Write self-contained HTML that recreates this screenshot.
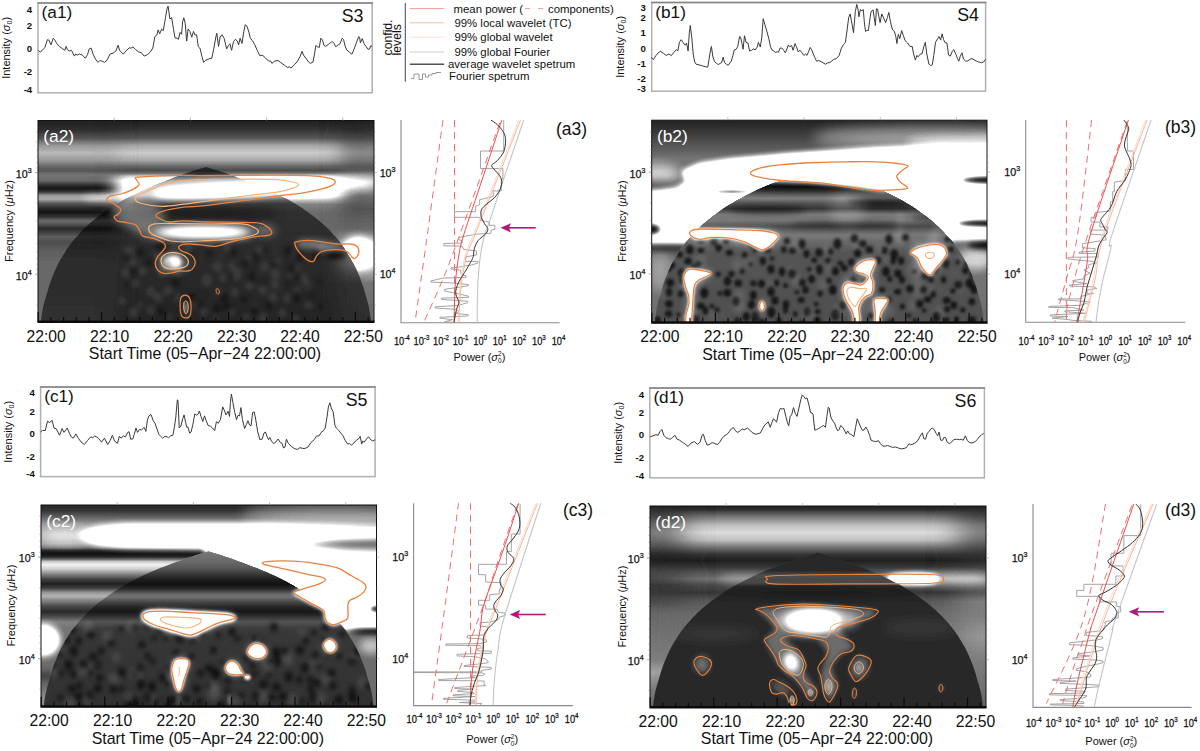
<!DOCTYPE html>
<html><head><meta charset="utf-8"><title>Wavelet analysis</title>
<style>
html,body{margin:0;padding:0;background:#fff;}
body{width:1200px;height:751px;overflow:hidden;}
svg{display:block;font-family:'Liberation Sans', sans-serif;}
</style></head><body>
<svg width="1200" height="751" viewBox="0 0 1200 751">
<defs>
<linearGradient id="ga_0" gradientUnits="userSpaceOnUse" x1="0" y1="120.8" x2="0" y2="322.9"><stop offset="0.0000" stop-color="rgb(8,8,8)"/><stop offset="0.0435" stop-color="rgb(13,13,13)"/><stop offset="0.0870" stop-color="rgb(22,22,22)"/><stop offset="0.1232" stop-color="rgb(42,42,42)"/><stop offset="0.1594" stop-color="rgb(51,51,51)"/><stop offset="0.1957" stop-color="rgb(42,42,42)"/><stop offset="0.2246" stop-color="rgb(26,26,26)"/><stop offset="0.2464" stop-color="rgb(19,19,19)"/><stop offset="0.2609" stop-color="rgb(29,29,29)"/><stop offset="0.2725" stop-color="rgb(51,51,51)"/><stop offset="0.2971" stop-color="rgb(83,83,83)"/><stop offset="0.3696" stop-color="rgb(83,83,83)"/><stop offset="0.3913" stop-color="rgb(51,51,51)"/><stop offset="0.4130" stop-color="rgb(32,32,32)"/><stop offset="0.4565" stop-color="rgb(27,27,27)"/><stop offset="0.5652" stop-color="rgb(26,26,26)"/><stop offset="0.7681" stop-color="rgb(24,24,24)"/><stop offset="1.0000" stop-color="rgb(21,21,21)"/></linearGradient>
<linearGradient id="ga_1" gradientUnits="userSpaceOnUse" x1="0" y1="120.8" x2="0" y2="322.9"><stop offset="0.0000" stop-color="rgb(8,8,8)"/><stop offset="0.0435" stop-color="rgb(11,11,11)"/><stop offset="0.0870" stop-color="rgb(21,21,21)"/><stop offset="0.1232" stop-color="rgb(38,38,38)"/><stop offset="0.1594" stop-color="rgb(46,46,46)"/><stop offset="0.1957" stop-color="rgb(38,38,38)"/><stop offset="0.2246" stop-color="rgb(26,26,26)"/><stop offset="0.2464" stop-color="rgb(21,21,21)"/><stop offset="0.2681" stop-color="rgb(29,29,29)"/><stop offset="0.2971" stop-color="rgb(26,26,26)"/><stop offset="0.3159" stop-color="rgb(13,13,13)"/><stop offset="0.3333" stop-color="rgb(5,5,5)"/><stop offset="0.3507" stop-color="rgb(13,13,13)"/><stop offset="0.3696" stop-color="rgb(38,38,38)"/><stop offset="0.3870" stop-color="rgb(43,43,43)"/><stop offset="0.4087" stop-color="rgb(22,22,22)"/><stop offset="0.4319" stop-color="rgb(10,10,10)"/><stop offset="0.4536" stop-color="rgb(5,5,5)"/><stop offset="0.4754" stop-color="rgb(13,13,13)"/><stop offset="0.4957" stop-color="rgb(27,27,27)"/><stop offset="0.5145" stop-color="rgb(19,19,19)"/><stop offset="0.5333" stop-color="rgb(10,10,10)"/><stop offset="0.5536" stop-color="rgb(16,16,16)"/><stop offset="0.5725" stop-color="rgb(23,23,23)"/><stop offset="0.6014" stop-color="rgb(19,19,19)"/><stop offset="0.6377" stop-color="rgb(23,23,23)"/><stop offset="0.7101" stop-color="rgb(26,26,26)"/><stop offset="0.8261" stop-color="rgb(26,26,26)"/><stop offset="1.0000" stop-color="rgb(27,27,27)"/></linearGradient>
<linearGradient id="ga_2" gradientUnits="userSpaceOnUse" x1="0" y1="120.8" x2="0" y2="322.9"><stop offset="0.0000" stop-color="rgb(8,8,8)"/><stop offset="0.0435" stop-color="rgb(11,11,11)"/><stop offset="0.0870" stop-color="rgb(18,18,18)"/><stop offset="0.1232" stop-color="rgb(29,29,29)"/><stop offset="0.1594" stop-color="rgb(35,35,35)"/><stop offset="0.1957" stop-color="rgb(29,29,29)"/><stop offset="0.2246" stop-color="rgb(22,22,22)"/><stop offset="0.2464" stop-color="rgb(22,22,22)"/><stop offset="0.2681" stop-color="rgb(38,38,38)"/><stop offset="0.3043" stop-color="rgb(54,54,54)"/><stop offset="0.3406" stop-color="rgb(38,38,38)"/><stop offset="0.3768" stop-color="rgb(26,26,26)"/><stop offset="0.4348" stop-color="rgb(21,21,21)"/><stop offset="0.5362" stop-color="rgb(26,26,26)"/><stop offset="0.5797" stop-color="rgb(41,41,41)"/><stop offset="0.6232" stop-color="rgb(61,61,61)"/><stop offset="0.6667" stop-color="rgb(64,64,64)"/><stop offset="0.7101" stop-color="rgb(57,57,57)"/><stop offset="0.7536" stop-color="rgb(41,41,41)"/><stop offset="0.8043" stop-color="rgb(29,29,29)"/><stop offset="1.0000" stop-color="rgb(26,26,26)"/></linearGradient>
<filter id="bla_9x0_6" filterUnits="userSpaceOnUse" x="-2" y="80.5" width="416" height="281" color-interpolation-filters="sRGB"><feGaussianBlur stdDeviation="9 0.6"/></filter>
<filter id="bla_9x1" filterUnits="userSpaceOnUse" x="-2" y="80.5" width="416" height="281" color-interpolation-filters="sRGB"><feGaussianBlur stdDeviation="9 1"/></filter>
<filter id="bla_1_5" filterUnits="userSpaceOnUse" x="-2" y="80.5" width="416" height="281" color-interpolation-filters="sRGB"><feGaussianBlur stdDeviation="1.5"/></filter>
<filter id="bla_2_5" filterUnits="userSpaceOnUse" x="-2" y="80.5" width="416" height="281" color-interpolation-filters="sRGB"><feGaussianBlur stdDeviation="2.5"/></filter>
<filter id="bla_3" filterUnits="userSpaceOnUse" x="-2" y="80.5" width="416" height="281" color-interpolation-filters="sRGB"><feGaussianBlur stdDeviation="3"/></filter>
<filter id="bla_3_5" filterUnits="userSpaceOnUse" x="-2" y="80.5" width="416" height="281" color-interpolation-filters="sRGB"><feGaussianBlur stdDeviation="3.5"/></filter>
<filter id="bla_4" filterUnits="userSpaceOnUse" x="-2" y="80.5" width="416" height="281" color-interpolation-filters="sRGB"><feGaussianBlur stdDeviation="4"/></filter>
<filter id="bla_5" filterUnits="userSpaceOnUse" x="-2" y="80.5" width="416" height="281" color-interpolation-filters="sRGB"><feGaussianBlur stdDeviation="5"/></filter>
<filter id="bla_6" filterUnits="userSpaceOnUse" x="-2" y="80.5" width="416" height="281" color-interpolation-filters="sRGB"><feGaussianBlur stdDeviation="6"/></filter>
<filter id="gaina" filterUnits="userSpaceOnUse" x="-2" y="80.5" width="416" height="281" color-interpolation-filters="sRGB"><feComponentTransfer><feFuncR type="linear" slope="4.0"/><feFuncG type="linear" slope="4.0"/><feFuncB type="linear" slope="4.0"/></feComponentTransfer></filter>
<linearGradient id="gb_0" gradientUnits="userSpaceOnUse" x1="0" y1="119.3" x2="0" y2="322.9"><stop offset="0.0000" stop-color="rgb(8,8,8)"/><stop offset="0.0504" stop-color="rgb(13,13,13)"/><stop offset="0.1079" stop-color="rgb(19,19,19)"/><stop offset="0.1511" stop-color="rgb(24,24,24)"/><stop offset="0.1942" stop-color="rgb(29,29,29)"/><stop offset="0.5971" stop-color="rgb(29,29,29)"/><stop offset="0.6403" stop-color="rgb(26,26,26)"/><stop offset="0.7122" stop-color="rgb(29,29,29)"/><stop offset="0.8273" stop-color="rgb(29,29,29)"/><stop offset="1.0000" stop-color="rgb(27,27,27)"/></linearGradient>
<linearGradient id="gb_1" gradientUnits="userSpaceOnUse" x1="0" y1="177.9" x2="0" y2="322.9"><stop offset="0.0000" stop-color="rgb(142,142,142)"/><stop offset="0.0263" stop-color="rgb(50,50,50)"/><stop offset="0.0606" stop-color="rgb(17,17,17)"/><stop offset="0.1010" stop-color="rgb(47,47,47)"/><stop offset="0.1414" stop-color="rgb(71,71,71)"/><stop offset="0.1758" stop-color="rgb(47,47,47)"/><stop offset="0.2121" stop-color="rgb(31,31,31)"/><stop offset="0.2525" stop-color="rgb(68,68,68)"/><stop offset="0.2929" stop-color="rgb(68,68,68)"/><stop offset="0.3333" stop-color="rgb(42,42,42)"/><stop offset="0.3939" stop-color="rgb(68,68,68)"/><stop offset="0.4545" stop-color="rgb(57,57,57)"/><stop offset="0.5152" stop-color="rgb(48,48,48)"/><stop offset="1.0000" stop-color="rgb(45,45,45)"/></linearGradient>
<filter id="blb_1_5" filterUnits="userSpaceOnUse" x="611.7" y="80.2" width="415.3" height="282.1" color-interpolation-filters="sRGB"><feGaussianBlur stdDeviation="1.5"/></filter>
<filter id="blb_1_8" filterUnits="userSpaceOnUse" x="611.7" y="80.2" width="415.3" height="282.1" color-interpolation-filters="sRGB"><feGaussianBlur stdDeviation="1.8"/></filter>
<filter id="blb_2" filterUnits="userSpaceOnUse" x="611.7" y="80.2" width="415.3" height="282.1" color-interpolation-filters="sRGB"><feGaussianBlur stdDeviation="2"/></filter>
<filter id="blb_2_5" filterUnits="userSpaceOnUse" x="611.7" y="80.2" width="415.3" height="282.1" color-interpolation-filters="sRGB"><feGaussianBlur stdDeviation="2.5"/></filter>
<filter id="blb_3" filterUnits="userSpaceOnUse" x="611.7" y="80.2" width="415.3" height="282.1" color-interpolation-filters="sRGB"><feGaussianBlur stdDeviation="3"/></filter>
<filter id="blb_4" filterUnits="userSpaceOnUse" x="611.7" y="80.2" width="415.3" height="282.1" color-interpolation-filters="sRGB"><feGaussianBlur stdDeviation="4"/></filter>
<filter id="blb_5" filterUnits="userSpaceOnUse" x="611.7" y="80.2" width="415.3" height="282.1" color-interpolation-filters="sRGB"><feGaussianBlur stdDeviation="5"/></filter>
<filter id="blb_6" filterUnits="userSpaceOnUse" x="611.7" y="80.2" width="415.3" height="282.1" color-interpolation-filters="sRGB"><feGaussianBlur stdDeviation="6"/></filter>
<filter id="blb_7" filterUnits="userSpaceOnUse" x="611.7" y="80.2" width="415.3" height="282.1" color-interpolation-filters="sRGB"><feGaussianBlur stdDeviation="7"/></filter>
<filter id="gainb" filterUnits="userSpaceOnUse" x="611.7" y="80.2" width="415.3" height="282.1" color-interpolation-filters="sRGB"><feComponentTransfer><feFuncR type="linear" slope="4.0"/><feFuncG type="linear" slope="4.0"/><feFuncB type="linear" slope="4.0"/></feComponentTransfer></filter>
<linearGradient id="gc_0" gradientUnits="userSpaceOnUse" x1="0" y1="503.3" x2="0" y2="706.9"><stop offset="0.0000" stop-color="rgb(8,8,8)"/><stop offset="0.0360" stop-color="rgb(13,13,13)"/><stop offset="0.0719" stop-color="rgb(26,26,26)"/><stop offset="0.1007" stop-color="rgb(38,38,38)"/><stop offset="0.1511" stop-color="rgb(41,41,41)"/><stop offset="0.2014" stop-color="rgb(38,38,38)"/><stop offset="0.2173" stop-color="rgb(29,29,29)"/><stop offset="0.2317" stop-color="rgb(10,10,10)"/><stop offset="0.2475" stop-color="rgb(4,4,4)"/><stop offset="0.2633" stop-color="rgb(10,10,10)"/><stop offset="0.2763" stop-color="rgb(29,29,29)"/><stop offset="0.2863" stop-color="rgb(51,51,51)"/><stop offset="0.3022" stop-color="rgb(61,61,61)"/><stop offset="0.3237" stop-color="rgb(51,51,51)"/><stop offset="0.3496" stop-color="rgb(32,32,32)"/><stop offset="0.3741" stop-color="rgb(16,16,16)"/><stop offset="0.3957" stop-color="rgb(8,8,8)"/><stop offset="0.4173" stop-color="rgb(16,16,16)"/><stop offset="0.4388" stop-color="rgb(38,38,38)"/><stop offset="0.4561" stop-color="rgb(45,45,45)"/><stop offset="0.4791" stop-color="rgb(32,32,32)"/><stop offset="0.5036" stop-color="rgb(19,19,19)"/><stop offset="0.5324" stop-color="rgb(10,10,10)"/><stop offset="0.5568" stop-color="rgb(19,19,19)"/><stop offset="0.5827" stop-color="rgb(32,32,32)"/><stop offset="0.6115" stop-color="rgb(29,29,29)"/><stop offset="0.7698" stop-color="rgb(27,27,27)"/><stop offset="1.0000" stop-color="rgb(27,27,27)"/></linearGradient>
<linearGradient id="gc_1" gradientUnits="userSpaceOnUse" x1="0" y1="550.2" x2="0" y2="706.9"><stop offset="0.0000" stop-color="rgb(71,71,71)"/><stop offset="0.0280" stop-color="rgb(64,64,64)"/><stop offset="0.0748" stop-color="rgb(59,59,59)"/><stop offset="0.1121" stop-color="rgb(50,50,50)"/><stop offset="0.1869" stop-color="rgb(17,17,17)"/><stop offset="0.2187" stop-color="rgb(11,11,11)"/><stop offset="0.2486" stop-color="rgb(25,25,25)"/><stop offset="0.2804" stop-color="rgb(59,59,59)"/><stop offset="0.2991" stop-color="rgb(64,64,64)"/><stop offset="0.3271" stop-color="rgb(42,42,42)"/><stop offset="0.3645" stop-color="rgb(21,21,21)"/><stop offset="0.3925" stop-color="rgb(14,14,14)"/><stop offset="0.4243" stop-color="rgb(28,28,28)"/><stop offset="0.4579" stop-color="rgb(47,47,47)"/><stop offset="0.4953" stop-color="rgb(35,35,35)"/><stop offset="0.5327" stop-color="rgb(31,31,31)"/><stop offset="1.0000" stop-color="rgb(28,28,28)"/></linearGradient>
<filter id="blc_1_5" filterUnits="userSpaceOnUse" x="1" y="465" width="415.5" height="281.3" color-interpolation-filters="sRGB"><feGaussianBlur stdDeviation="1.5"/></filter>
<filter id="blc_2" filterUnits="userSpaceOnUse" x="1" y="465" width="415.5" height="281.3" color-interpolation-filters="sRGB"><feGaussianBlur stdDeviation="2"/></filter>
<filter id="blc_2_5" filterUnits="userSpaceOnUse" x="1" y="465" width="415.5" height="281.3" color-interpolation-filters="sRGB"><feGaussianBlur stdDeviation="2.5"/></filter>
<filter id="blc_3" filterUnits="userSpaceOnUse" x="1" y="465" width="415.5" height="281.3" color-interpolation-filters="sRGB"><feGaussianBlur stdDeviation="3"/></filter>
<filter id="blc_4" filterUnits="userSpaceOnUse" x="1" y="465" width="415.5" height="281.3" color-interpolation-filters="sRGB"><feGaussianBlur stdDeviation="4"/></filter>
<filter id="blc_5" filterUnits="userSpaceOnUse" x="1" y="465" width="415.5" height="281.3" color-interpolation-filters="sRGB"><feGaussianBlur stdDeviation="5"/></filter>
<filter id="blc_6" filterUnits="userSpaceOnUse" x="1" y="465" width="415.5" height="281.3" color-interpolation-filters="sRGB"><feGaussianBlur stdDeviation="6"/></filter>
<filter id="blc_7" filterUnits="userSpaceOnUse" x="1" y="465" width="415.5" height="281.3" color-interpolation-filters="sRGB"><feGaussianBlur stdDeviation="7"/></filter>
<filter id="gainc" filterUnits="userSpaceOnUse" x="1" y="465" width="415.5" height="281.3" color-interpolation-filters="sRGB"><feComponentTransfer><feFuncR type="linear" slope="4.0"/><feFuncG type="linear" slope="4.0"/><feFuncB type="linear" slope="4.0"/></feComponentTransfer></filter>
<linearGradient id="gd_0" gradientUnits="userSpaceOnUse" x1="0" y1="504.8" x2="0" y2="706.9"><stop offset="0.0000" stop-color="rgb(8,8,8)"/><stop offset="0.0217" stop-color="rgb(11,11,11)"/><stop offset="0.0507" stop-color="rgb(26,26,26)"/><stop offset="0.1014" stop-color="rgb(48,48,48)"/><stop offset="0.1377" stop-color="rgb(55,55,55)"/><stop offset="0.1739" stop-color="rgb(48,48,48)"/><stop offset="0.2101" stop-color="rgb(29,29,29)"/><stop offset="0.2464" stop-color="rgb(13,13,13)"/><stop offset="0.2754" stop-color="rgb(8,8,8)"/><stop offset="0.3043" stop-color="rgb(13,13,13)"/><stop offset="0.3333" stop-color="rgb(21,21,21)"/><stop offset="0.3667" stop-color="rgb(29,29,29)"/><stop offset="0.3986" stop-color="rgb(19,19,19)"/><stop offset="0.4348" stop-color="rgb(14,14,14)"/><stop offset="0.4783" stop-color="rgb(23,23,23)"/><stop offset="0.5362" stop-color="rgb(27,27,27)"/><stop offset="0.6522" stop-color="rgb(29,29,29)"/><stop offset="0.7681" stop-color="rgb(27,27,27)"/><stop offset="1.0000" stop-color="rgb(26,26,26)"/></linearGradient>
<linearGradient id="gd_1" gradientUnits="userSpaceOnUse" x1="0" y1="504.8" x2="0" y2="706.9"><stop offset="0.0000" stop-color="rgb(8,8,8)"/><stop offset="0.0507" stop-color="rgb(16,16,16)"/><stop offset="0.1014" stop-color="rgb(27,27,27)"/><stop offset="0.1377" stop-color="rgb(32,32,32)"/><stop offset="0.1739" stop-color="rgb(27,27,27)"/><stop offset="0.2101" stop-color="rgb(19,19,19)"/><stop offset="0.2464" stop-color="rgb(10,10,10)"/><stop offset="0.2754" stop-color="rgb(8,8,8)"/><stop offset="0.3043" stop-color="rgb(13,13,13)"/><stop offset="0.3333" stop-color="rgb(18,18,18)"/><stop offset="0.3667" stop-color="rgb(19,19,19)"/><stop offset="0.3986" stop-color="rgb(14,14,14)"/><stop offset="0.4348" stop-color="rgb(14,14,14)"/><stop offset="0.4783" stop-color="rgb(19,19,19)"/><stop offset="0.5362" stop-color="rgb(26,26,26)"/><stop offset="0.6522" stop-color="rgb(29,29,29)"/><stop offset="0.7681" stop-color="rgb(32,32,32)"/><stop offset="0.8261" stop-color="rgb(41,41,41)"/><stop offset="0.8986" stop-color="rgb(32,32,32)"/><stop offset="1.0000" stop-color="rgb(26,26,26)"/></linearGradient>
<linearGradient id="gd_2" gradientUnits="userSpaceOnUse" x1="0" y1="504.8" x2="0" y2="706.9"><stop offset="0.0000" stop-color="rgb(8,8,8)"/><stop offset="0.0507" stop-color="rgb(16,16,16)"/><stop offset="0.1014" stop-color="rgb(29,29,29)"/><stop offset="0.1377" stop-color="rgb(32,32,32)"/><stop offset="0.1739" stop-color="rgb(27,27,27)"/><stop offset="0.2101" stop-color="rgb(19,19,19)"/><stop offset="0.2464" stop-color="rgb(13,13,13)"/><stop offset="0.2754" stop-color="rgb(11,11,11)"/><stop offset="0.3043" stop-color="rgb(16,16,16)"/><stop offset="0.3333" stop-color="rgb(26,26,26)"/><stop offset="0.3667" stop-color="rgb(38,38,38)"/><stop offset="0.3986" stop-color="rgb(29,29,29)"/><stop offset="0.4348" stop-color="rgb(22,22,22)"/><stop offset="0.4783" stop-color="rgb(32,32,32)"/><stop offset="0.5362" stop-color="rgb(32,32,32)"/><stop offset="0.6522" stop-color="rgb(38,38,38)"/><stop offset="0.7681" stop-color="rgb(32,32,32)"/><stop offset="0.8986" stop-color="rgb(29,29,29)"/><stop offset="1.0000" stop-color="rgb(26,26,26)"/></linearGradient>
<linearGradient id="gd_3" gradientUnits="userSpaceOnUse" x1="0" y1="551.7" x2="0" y2="706.9"><stop offset="0.0000" stop-color="rgb(24,24,24)"/><stop offset="0.1226" stop-color="rgb(24,24,24)"/><stop offset="0.1509" stop-color="rgb(42,42,42)"/><stop offset="0.2000" stop-color="rgb(42,42,42)"/><stop offset="0.2264" stop-color="rgb(24,24,24)"/><stop offset="1.0000" stop-color="rgb(24,24,24)"/></linearGradient>
<filter id="bld_14x1" filterUnits="userSpaceOnUse" x="610" y="466" width="416" height="281" color-interpolation-filters="sRGB"><feGaussianBlur stdDeviation="14 1"/></filter>
<filter id="bld_1_5" filterUnits="userSpaceOnUse" x="610" y="466" width="416" height="281" color-interpolation-filters="sRGB"><feGaussianBlur stdDeviation="1.5"/></filter>
<filter id="bld_2" filterUnits="userSpaceOnUse" x="610" y="466" width="416" height="281" color-interpolation-filters="sRGB"><feGaussianBlur stdDeviation="2"/></filter>
<filter id="bld_2_5" filterUnits="userSpaceOnUse" x="610" y="466" width="416" height="281" color-interpolation-filters="sRGB"><feGaussianBlur stdDeviation="2.5"/></filter>
<filter id="bld_3" filterUnits="userSpaceOnUse" x="610" y="466" width="416" height="281" color-interpolation-filters="sRGB"><feGaussianBlur stdDeviation="3"/></filter>
<filter id="bld_4" filterUnits="userSpaceOnUse" x="610" y="466" width="416" height="281" color-interpolation-filters="sRGB"><feGaussianBlur stdDeviation="4"/></filter>
<filter id="bld_5" filterUnits="userSpaceOnUse" x="610" y="466" width="416" height="281" color-interpolation-filters="sRGB"><feGaussianBlur stdDeviation="5"/></filter>
<filter id="bld_6" filterUnits="userSpaceOnUse" x="610" y="466" width="416" height="281" color-interpolation-filters="sRGB"><feGaussianBlur stdDeviation="6"/></filter>
<filter id="gaind" filterUnits="userSpaceOnUse" x="610" y="466" width="416" height="281" color-interpolation-filters="sRGB"><feComponentTransfer><feFuncR type="linear" slope="4.0"/><feFuncG type="linear" slope="4.0"/><feFuncB type="linear" slope="4.0"/></feComponentTransfer></filter>
</defs>
<rect width="1200" height="751" fill="#fff"/>
<clipPath id="clipa"><rect x="38" y="120.5" width="336" height="201"/></clipPath>
<clipPath id="dina"><path d="M38,381.5 L38,387 L38,387 L38.1,387 L38.3,387 L38.5,366.1 L38.8,354.9 L39.2,345.7 L39.6,337.9 L40.1,331.1 L40.6,324.9 L41.2,319.3 L41.9,314.3 L42.6,310 L43.4,306.1 L44.3,302.5 L45.2,299.1 L46.2,296 L47.3,292.3 L48.4,288.3 L49.6,284.6 L50.8,281 L52.1,277.6 L53.4,274.4 L54.8,271 L56.3,267.7 L57.8,264.5 L59.4,261.5 L61.1,258.6 L62.8,255.8 L64.5,252.9 L66.3,250 L68.2,247.3 L70.1,244.7 L72.1,242.1 L74.1,239.7 L76.1,237.3 L78.3,235 L80.4,232.6 L82.6,230.2 L84.9,228 L87.2,225.8 L89.6,223.6 L92,221.5 L94.4,219.5 L96.9,217.5 L99.4,215.6 L102,213.7 L104.6,211.8 L107.3,209.9 L109.9,208.1 L112.7,206.3 L115.4,204.6 L118.2,202.9 L121,201.2 L123.9,199.6 L126.8,198 L129.7,196.5 L132.7,194.9 L135.7,193.4 L138.7,192 L141.7,190.5 L144.8,189.1 L147.9,187.8 L151,186.4 L154.1,185.1 L157.2,183.8 L160.4,182.6 L163.6,181.4 L166.8,180.1 L170,178.9 L173.2,177.8 L176.5,176.6 L179.7,175.4 L183,174.3 L186.3,173.2 L189.5,172.1 L192.8,171 L196.1,170 L199.4,169 L202.7,168 L206,167 L209.3,168 L212.6,169 L215.9,170 L219.2,171 L222.5,172.1 L225.7,173.2 L229,174.3 L232.3,175.4 L235.5,176.6 L238.8,177.8 L242,178.9 L245.2,180.1 L248.4,181.4 L251.6,182.6 L254.8,183.8 L257.9,185.1 L261,186.4 L264.1,187.8 L267.2,189.1 L270.3,190.5 L273.3,192 L276.3,193.4 L279.3,194.9 L282.3,196.5 L285.2,198 L288.1,199.6 L291,201.2 L293.8,202.9 L296.6,204.6 L299.3,206.3 L302.1,208.1 L304.7,209.9 L307.4,211.8 L310,213.7 L312.6,215.6 L315.1,217.5 L317.6,219.5 L320,221.5 L322.4,223.6 L324.8,225.8 L327.1,228 L329.4,230.2 L331.6,232.6 L333.7,235 L335.9,237.3 L337.9,239.7 L339.9,242.1 L341.9,244.7 L343.8,247.3 L345.7,250 L347.5,252.9 L349.2,255.8 L350.9,258.6 L352.6,261.5 L354.2,264.5 L355.7,267.7 L357.2,271 L358.6,274.4 L359.9,277.6 L361.2,281 L362.4,284.6 L363.6,288.3 L364.7,292.3 L365.8,296 L366.8,299.1 L367.7,302.5 L368.6,306.1 L369.4,310 L370.1,314.3 L370.8,319.3 L371.4,324.9 L371.9,331.1 L372.4,337.9 L372.8,345.7 L373.2,354.9 L373.5,366.1 L373.7,387 L373.9,387 L374,387 L374,387 L374,381.5 Z"/></clipPath>
<clipPath id="douta"><path clip-rule="evenodd" d="M-7,75.5 h426 v321 h-426 Z M38,381.5 L38,387 L38,387 L38.1,387 L38.3,387 L38.5,366.1 L38.8,354.9 L39.2,345.7 L39.6,337.9 L40.1,331.1 L40.6,324.9 L41.2,319.3 L41.9,314.3 L42.6,310 L43.4,306.1 L44.3,302.5 L45.2,299.1 L46.2,296 L47.3,292.3 L48.4,288.3 L49.6,284.6 L50.8,281 L52.1,277.6 L53.4,274.4 L54.8,271 L56.3,267.7 L57.8,264.5 L59.4,261.5 L61.1,258.6 L62.8,255.8 L64.5,252.9 L66.3,250 L68.2,247.3 L70.1,244.7 L72.1,242.1 L74.1,239.7 L76.1,237.3 L78.3,235 L80.4,232.6 L82.6,230.2 L84.9,228 L87.2,225.8 L89.6,223.6 L92,221.5 L94.4,219.5 L96.9,217.5 L99.4,215.6 L102,213.7 L104.6,211.8 L107.3,209.9 L109.9,208.1 L112.7,206.3 L115.4,204.6 L118.2,202.9 L121,201.2 L123.9,199.6 L126.8,198 L129.7,196.5 L132.7,194.9 L135.7,193.4 L138.7,192 L141.7,190.5 L144.8,189.1 L147.9,187.8 L151,186.4 L154.1,185.1 L157.2,183.8 L160.4,182.6 L163.6,181.4 L166.8,180.1 L170,178.9 L173.2,177.8 L176.5,176.6 L179.7,175.4 L183,174.3 L186.3,173.2 L189.5,172.1 L192.8,171 L196.1,170 L199.4,169 L202.7,168 L206,167 L209.3,168 L212.6,169 L215.9,170 L219.2,171 L222.5,172.1 L225.7,173.2 L229,174.3 L232.3,175.4 L235.5,176.6 L238.8,177.8 L242,178.9 L245.2,180.1 L248.4,181.4 L251.6,182.6 L254.8,183.8 L257.9,185.1 L261,186.4 L264.1,187.8 L267.2,189.1 L270.3,190.5 L273.3,192 L276.3,193.4 L279.3,194.9 L282.3,196.5 L285.2,198 L288.1,199.6 L291,201.2 L293.8,202.9 L296.6,204.6 L299.3,206.3 L302.1,208.1 L304.7,209.9 L307.4,211.8 L310,213.7 L312.6,215.6 L315.1,217.5 L317.6,219.5 L320,221.5 L322.4,223.6 L324.8,225.8 L327.1,228 L329.4,230.2 L331.6,232.6 L333.7,235 L335.9,237.3 L337.9,239.7 L339.9,242.1 L341.9,244.7 L343.8,247.3 L345.7,250 L347.5,252.9 L349.2,255.8 L350.9,258.6 L352.6,261.5 L354.2,264.5 L355.7,267.7 L357.2,271 L358.6,274.4 L359.9,277.6 L361.2,281 L362.4,284.6 L363.6,288.3 L364.7,292.3 L365.8,296 L366.8,299.1 L367.7,302.5 L368.6,306.1 L369.4,310 L370.1,314.3 L370.8,319.3 L371.4,324.9 L371.9,331.1 L372.4,337.9 L372.8,345.7 L373.2,354.9 L373.5,366.1 L373.7,387 L373.9,387 L374,387 L374,387 L374,381.5 Z"/></clipPath>
<g clip-path="url(#clipa)">
<g filter="url(#gaina)">
<rect x="8" y="90.5" width="396" height="261" fill="#000"/>
<rect x="0.7" y="70.8" width="410.1" height="302.1" fill="url(#ga_0)" opacity="1.0"/>
<g filter="url(#bla_9x0_6)"><rect x="0.7" y="70.8" width="117.2" height="302.1" fill="url(#ga_1)" opacity="1.0"/></g>
<g filter="url(#bla_9x1)"><rect x="340.5" y="70.8" width="70.3" height="302.1" fill="url(#ga_2)" opacity="1.0"/></g>
<g filter="url(#bla_5)"><ellipse cx="232.1" cy="188.7" rx="102.5" ry="7" fill="#fff" fill-opacity="0.287" transform="rotate(-2 232.1 188.7)"/></g>
<g filter="url(#bla_4)"><ellipse cx="135.4" cy="196.9" rx="17.6" ry="2.9" fill="#fff" fill-opacity="0.200" transform="rotate(-25 135.4 196.9)"/><ellipse cx="100.3" cy="197.8" rx="17.6" ry="2.3" fill="#fff" fill-opacity="0.113"/></g>
<g filter="url(#bla_5)"><ellipse cx="220.4" cy="190.5" rx="68.8" ry="5" fill="#fff" fill-opacity="0.825" transform="rotate(-3 220.4 190.5)"/><ellipse cx="337.6" cy="183.8" rx="35.1" ry="4.4" fill="#fff" fill-opacity="0.150"/></g>
<g clip-path="url(#douta)"><g filter="url(#bla_6)"><ellipse cx="358.1" cy="253.2" rx="12.3" ry="11.7" fill="#fff" fill-opacity="0.550"/></g></g>
<g clip-path="url(#dina)"><g filter="url(#bla_4)"><ellipse cx="205.7" cy="213.1" rx="73.2" ry="4.1" fill="#000" fill-opacity="0.500"/></g></g>
<g clip-path="url(#dina)"><g filter="url(#bla_5)"><ellipse cx="202.8" cy="232.1" rx="49.8" ry="4.4" fill="#fff" fill-opacity="1.000"/></g></g>
<g clip-path="url(#dina)"><g filter="url(#bla_4)"><polygon points="109.1,199.9 153,201.3 167.7,217.4 153,229.2 161.8,240.9 141.3,235 114.9,218.9" fill="#fff" fill-opacity="0.167"/><ellipse cx="264.3" cy="230.6" rx="11.7" ry="5.3" fill="#fff" fill-opacity="0.167"/></g></g>
<g clip-path="url(#dina)"><g filter="url(#bla_3)"><ellipse cx="318.5" cy="245.3" rx="22" ry="5" fill="#fff" fill-opacity="0.183" transform="rotate(8 318.5 245.3)"/></g></g>
<g clip-path="url(#dina)"><g filter="url(#bla_2_5)"><ellipse cx="336.1" cy="255.5" rx="10.3" ry="3.2" fill="#000" fill-opacity="0.800"/></g></g>
<g clip-path="url(#dina)"><g filter="url(#bla_3_5)"><ellipse cx="173.5" cy="262" rx="8.8" ry="4.7" fill="#fff" fill-opacity="0.889"/></g></g>
<g clip-path="url(#dina)"><g filter="url(#bla_4)"><ellipse cx="173.5" cy="262.8" rx="16.1" ry="9.4" fill="#fff" fill-opacity="0.139"/></g></g>
<g clip-path="url(#dina)"><g filter="url(#bla_1_5)"><ellipse cx="185.8" cy="307.7" rx="1.5" ry="5.9" fill="#fff" fill-opacity="0.250"/></g></g>
<g clip-path="url(#dina)"><g filter="url(#bla_2_5)"><ellipse cx="129" cy="252.5" rx="4.8" ry="6" fill="#fff" fill-opacity="0.050"/><ellipse cx="158.5" cy="254" rx="4.1" ry="5.6" fill="#fff" fill-opacity="0.050"/><ellipse cx="174.7" cy="247.2" rx="3.9" ry="4.5" fill="#fff" fill-opacity="0.050"/><ellipse cx="188.4" cy="247.5" rx="4.8" ry="6" fill="#fff" fill-opacity="0.050"/><ellipse cx="210.1" cy="246.2" rx="4.1" ry="3.6" fill="#fff" fill-opacity="0.050"/><ellipse cx="226.9" cy="246.9" rx="3.2" ry="4.4" fill="#fff" fill-opacity="0.050"/><ellipse cx="260" cy="250" rx="4.2" ry="3.9" fill="#fff" fill-opacity="0.050"/><ellipse cx="292.3" cy="253.5" rx="3.3" ry="3.4" fill="#fff" fill-opacity="0.050"/><ellipse cx="300.4" cy="245.5" rx="3.4" ry="3.9" fill="#fff" fill-opacity="0.050"/><ellipse cx="321.7" cy="248.1" rx="3.4" ry="4.4" fill="#fff" fill-opacity="0.050"/><ellipse cx="132.9" cy="262.4" rx="4.3" ry="3.6" fill="#fff" fill-opacity="0.050"/><ellipse cx="169.4" cy="265.9" rx="2.7" ry="3.4" fill="#fff" fill-opacity="0.050"/><ellipse cx="183.8" cy="257.8" rx="2.8" ry="2.5" fill="#fff" fill-opacity="0.050"/><ellipse cx="217.7" cy="266.7" rx="4.8" ry="4.8" fill="#fff" fill-opacity="0.050"/><ellipse cx="231.6" cy="265.2" rx="2.9" ry="3.6" fill="#fff" fill-opacity="0.050"/><ellipse cx="251" cy="258.1" rx="4.8" ry="4.1" fill="#fff" fill-opacity="0.050"/><ellipse cx="264.7" cy="266.6" rx="3.4" ry="4.7" fill="#fff" fill-opacity="0.050"/><ellipse cx="277.9" cy="260.8" rx="3.1" ry="2.6" fill="#fff" fill-opacity="0.050"/><ellipse cx="297.6" cy="267.4" rx="3" ry="2.5" fill="#fff" fill-opacity="0.050"/><ellipse cx="125.8" cy="272.9" rx="4" ry="5.2" fill="#fff" fill-opacity="0.050"/><ellipse cx="142" cy="271.2" rx="4.8" ry="3.9" fill="#fff" fill-opacity="0.050"/><ellipse cx="162.2" cy="271.9" rx="4.3" ry="5.9" fill="#fff" fill-opacity="0.050"/><ellipse cx="177.8" cy="271.6" rx="3.7" ry="3.3" fill="#fff" fill-opacity="0.050"/><ellipse cx="206.8" cy="280.3" rx="4.6" ry="6.4" fill="#fff" fill-opacity="0.050"/><ellipse cx="223.2" cy="277.7" rx="3.8" ry="3.7" fill="#fff" fill-opacity="0.050"/><ellipse cx="236" cy="274.3" rx="4.9" ry="6.8" fill="#fff" fill-opacity="0.050"/><ellipse cx="255.5" cy="273.9" rx="2.9" ry="2.8" fill="#fff" fill-opacity="0.050"/><ellipse cx="275.2" cy="274.1" rx="4.5" ry="5.6" fill="#fff" fill-opacity="0.050"/><ellipse cx="289.3" cy="278" rx="3.5" ry="4.3" fill="#fff" fill-opacity="0.050"/><ellipse cx="303.7" cy="278.1" rx="4.2" ry="4.1" fill="#fff" fill-opacity="0.050"/><ellipse cx="135.5" cy="283.6" rx="3.9" ry="3.7" fill="#fff" fill-opacity="0.050"/><ellipse cx="150.5" cy="291.4" rx="4.1" ry="5.3" fill="#fff" fill-opacity="0.050"/><ellipse cx="168.3" cy="290.6" rx="4.6" ry="4.6" fill="#fff" fill-opacity="0.050"/><ellipse cx="219.9" cy="292.7" rx="3.8" ry="4.3" fill="#fff" fill-opacity="0.050"/><ellipse cx="234.6" cy="292.6" rx="3.8" ry="4.6" fill="#fff" fill-opacity="0.050"/><ellipse cx="249.7" cy="285.2" rx="4.4" ry="5.1" fill="#fff" fill-opacity="0.050"/><ellipse cx="262.8" cy="289.5" rx="4.4" ry="5.2" fill="#fff" fill-opacity="0.050"/><ellipse cx="275.1" cy="285" rx="3.7" ry="4.4" fill="#fff" fill-opacity="0.050"/><ellipse cx="297.6" cy="289.6" rx="2.8" ry="3" fill="#fff" fill-opacity="0.050"/><ellipse cx="307.6" cy="284.8" rx="3.4" ry="3.1" fill="#fff" fill-opacity="0.050"/><ellipse cx="122.2" cy="300.9" rx="3.5" ry="4.1" fill="#fff" fill-opacity="0.050"/><ellipse cx="140.2" cy="305.1" rx="2.7" ry="2.8" fill="#fff" fill-opacity="0.050"/><ellipse cx="158" cy="297.5" rx="4.6" ry="4.7" fill="#fff" fill-opacity="0.050"/><ellipse cx="176.1" cy="297.3" rx="3.9" ry="3.9" fill="#fff" fill-opacity="0.050"/><ellipse cx="195.5" cy="304.3" rx="3.6" ry="4.7" fill="#fff" fill-opacity="0.050"/><ellipse cx="205.9" cy="297.8" rx="4" ry="4.6" fill="#fff" fill-opacity="0.050"/><ellipse cx="254.1" cy="305" rx="2.7" ry="2.3" fill="#fff" fill-opacity="0.050"/><ellipse cx="272.8" cy="297.7" rx="4.1" ry="5.5" fill="#fff" fill-opacity="0.050"/><ellipse cx="287.1" cy="298.6" rx="3.3" ry="4.6" fill="#fff" fill-opacity="0.050"/><ellipse cx="308.3" cy="305.2" rx="4" ry="3.8" fill="#fff" fill-opacity="0.050"/><ellipse cx="133.9" cy="312.4" rx="4.9" ry="5.4" fill="#fff" fill-opacity="0.050"/><ellipse cx="150.6" cy="310.5" rx="4.1" ry="4.4" fill="#fff" fill-opacity="0.050"/><ellipse cx="169.7" cy="317.3" rx="2.7" ry="3" fill="#fff" fill-opacity="0.050"/><ellipse cx="187.3" cy="316.8" rx="3.2" ry="3.1" fill="#fff" fill-opacity="0.050"/><ellipse cx="203.9" cy="312.1" rx="4.1" ry="4.4" fill="#fff" fill-opacity="0.050"/><ellipse cx="216.3" cy="316.5" rx="2.9" ry="3.7" fill="#fff" fill-opacity="0.050"/><ellipse cx="231.7" cy="312.5" rx="3.3" ry="3.7" fill="#fff" fill-opacity="0.050"/><ellipse cx="246.1" cy="316.5" rx="4" ry="3.3" fill="#fff" fill-opacity="0.050"/><ellipse cx="263.2" cy="318.1" rx="4.7" ry="5.3" fill="#fff" fill-opacity="0.050"/><ellipse cx="282.4" cy="313.4" rx="4" ry="4.9" fill="#fff" fill-opacity="0.050"/><ellipse cx="295.6" cy="318.1" rx="3.5" ry="3.7" fill="#fff" fill-opacity="0.050"/><ellipse cx="127.3" cy="257.1" rx="3.4" ry="3.8" fill="#000" fill-opacity="0.450"/><ellipse cx="140.9" cy="252.7" rx="3.8" ry="4.8" fill="#000" fill-opacity="0.450"/><ellipse cx="159.7" cy="248.3" rx="4.2" ry="5.1" fill="#000" fill-opacity="0.450"/><ellipse cx="184.5" cy="257.5" rx="3.8" ry="4.5" fill="#000" fill-opacity="0.450"/><ellipse cx="191.8" cy="252.9" rx="2.6" ry="2.4" fill="#000" fill-opacity="0.450"/><ellipse cx="209.6" cy="252.2" rx="3.4" ry="4.4" fill="#000" fill-opacity="0.450"/><ellipse cx="233.6" cy="252.6" rx="3.9" ry="4.1" fill="#000" fill-opacity="0.450"/><ellipse cx="254.9" cy="257.8" rx="4.2" ry="5.2" fill="#000" fill-opacity="0.450"/><ellipse cx="264.4" cy="250.4" rx="2.6" ry="3.3" fill="#000" fill-opacity="0.450"/><ellipse cx="288.5" cy="251.4" rx="4.5" ry="5.9" fill="#000" fill-opacity="0.450"/><ellipse cx="299.3" cy="256.9" rx="3.5" ry="4.8" fill="#000" fill-opacity="0.450"/><ellipse cx="315.5" cy="254" rx="4.1" ry="3.9" fill="#000" fill-opacity="0.450"/><ellipse cx="133.7" cy="271.6" rx="4.1" ry="3.5" fill="#000" fill-opacity="0.450"/><ellipse cx="148.8" cy="262" rx="4.1" ry="3.8" fill="#000" fill-opacity="0.450"/><ellipse cx="170" cy="263.4" rx="4" ry="3.5" fill="#000" fill-opacity="0.450"/><ellipse cx="184.1" cy="265.8" rx="2.9" ry="2.8" fill="#000" fill-opacity="0.450"/><ellipse cx="245" cy="263.6" rx="3.3" ry="4.3" fill="#000" fill-opacity="0.450"/><ellipse cx="254.3" cy="271.8" rx="2.9" ry="2.8" fill="#000" fill-opacity="0.450"/><ellipse cx="274.2" cy="264.5" rx="2.6" ry="2.2" fill="#000" fill-opacity="0.450"/><ellipse cx="290.9" cy="267.7" rx="3.2" ry="3.5" fill="#000" fill-opacity="0.450"/><ellipse cx="127.4" cy="284.6" rx="2.8" ry="2.5" fill="#000" fill-opacity="0.450"/><ellipse cx="176.1" cy="283.2" rx="4.4" ry="4.1" fill="#000" fill-opacity="0.450"/><ellipse cx="231.3" cy="276.5" rx="2.5" ry="3.5" fill="#000" fill-opacity="0.450"/><ellipse cx="251.8" cy="278.2" rx="4.2" ry="4.9" fill="#000" fill-opacity="0.450"/><ellipse cx="263.8" cy="283" rx="2.6" ry="2.4" fill="#000" fill-opacity="0.450"/><ellipse cx="288.5" cy="281.9" rx="3.1" ry="4.1" fill="#000" fill-opacity="0.450"/><ellipse cx="297.3" cy="278.3" rx="3.4" ry="2.8" fill="#000" fill-opacity="0.450"/><ellipse cx="318.6" cy="281.5" rx="2.7" ry="2.8" fill="#000" fill-opacity="0.450"/><ellipse cx="172.6" cy="295.7" rx="2.8" ry="2.3" fill="#000" fill-opacity="0.450"/><ellipse cx="192.5" cy="296.9" rx="4.5" ry="3.7" fill="#000" fill-opacity="0.450"/><ellipse cx="205.6" cy="297.2" rx="3.1" ry="4.4" fill="#000" fill-opacity="0.450"/><ellipse cx="223.8" cy="297.3" rx="4.4" ry="5.4" fill="#000" fill-opacity="0.450"/><ellipse cx="244" cy="299.2" rx="3.2" ry="3.9" fill="#000" fill-opacity="0.450"/><ellipse cx="296.7" cy="298.6" rx="3.7" ry="4.3" fill="#000" fill-opacity="0.450"/><ellipse cx="312.1" cy="295.9" rx="2.6" ry="3.1" fill="#000" fill-opacity="0.450"/><ellipse cx="160.6" cy="311.3" rx="3.7" ry="3.9" fill="#000" fill-opacity="0.450"/><ellipse cx="199.6" cy="303.9" rx="3.7" ry="4.1" fill="#000" fill-opacity="0.450"/><ellipse cx="216.6" cy="308.8" rx="3.8" ry="5.1" fill="#000" fill-opacity="0.450"/><ellipse cx="227" cy="306.7" rx="3.9" ry="3.6" fill="#000" fill-opacity="0.450"/><ellipse cx="254" cy="310.5" rx="3.4" ry="4.5" fill="#000" fill-opacity="0.450"/><ellipse cx="269" cy="305.7" rx="3.4" ry="4.3" fill="#000" fill-opacity="0.450"/><ellipse cx="320.9" cy="306.9" rx="2.7" ry="3" fill="#000" fill-opacity="0.450"/></g></g>
<path d="M38,381.5 L38,387 L38,387 L38.1,387 L38.3,387 L38.5,366.1 L38.8,354.9 L39.2,345.7 L39.6,337.9 L40.1,331.1 L40.6,324.9 L41.2,319.3 L41.9,314.3 L42.6,310 L43.4,306.1 L44.3,302.5 L45.2,299.1 L46.2,296 L47.3,292.3 L48.4,288.3 L49.6,284.6 L50.8,281 L52.1,277.6 L53.4,274.4 L54.8,271 L56.3,267.7 L57.8,264.5 L59.4,261.5 L61.1,258.6 L62.8,255.8 L64.5,252.9 L66.3,250 L68.2,247.3 L70.1,244.7 L72.1,242.1 L74.1,239.7 L76.1,237.3 L78.3,235 L80.4,232.6 L82.6,230.2 L84.9,228 L87.2,225.8 L89.6,223.6 L92,221.5 L94.4,219.5 L96.9,217.5 L99.4,215.6 L102,213.7 L104.6,211.8 L107.3,209.9 L109.9,208.1 L112.7,206.3 L115.4,204.6 L118.2,202.9 L121,201.2 L123.9,199.6 L126.8,198 L129.7,196.5 L132.7,194.9 L135.7,193.4 L138.7,192 L141.7,190.5 L144.8,189.1 L147.9,187.8 L151,186.4 L154.1,185.1 L157.2,183.8 L160.4,182.6 L163.6,181.4 L166.8,180.1 L170,178.9 L173.2,177.8 L176.5,176.6 L179.7,175.4 L183,174.3 L186.3,173.2 L189.5,172.1 L192.8,171 L196.1,170 L199.4,169 L202.7,168 L206,167 L209.3,168 L212.6,169 L215.9,170 L219.2,171 L222.5,172.1 L225.7,173.2 L229,174.3 L232.3,175.4 L235.5,176.6 L238.8,177.8 L242,178.9 L245.2,180.1 L248.4,181.4 L251.6,182.6 L254.8,183.8 L257.9,185.1 L261,186.4 L264.1,187.8 L267.2,189.1 L270.3,190.5 L273.3,192 L276.3,193.4 L279.3,194.9 L282.3,196.5 L285.2,198 L288.1,199.6 L291,201.2 L293.8,202.9 L296.6,204.6 L299.3,206.3 L302.1,208.1 L304.7,209.9 L307.4,211.8 L310,213.7 L312.6,215.6 L315.1,217.5 L317.6,219.5 L320,221.5 L322.4,223.6 L324.8,225.8 L327.1,228 L329.4,230.2 L331.6,232.6 L333.7,235 L335.9,237.3 L337.9,239.7 L339.9,242.1 L341.9,244.7 L343.8,247.3 L345.7,250 L347.5,252.9 L349.2,255.8 L350.9,258.6 L352.6,261.5 L354.2,264.5 L355.7,267.7 L357.2,271 L358.6,274.4 L359.9,277.6 L361.2,281 L362.4,284.6 L363.6,288.3 L364.7,292.3 L365.8,296 L366.8,299.1 L367.7,302.5 L368.6,306.1 L369.4,310 L370.1,314.3 L370.8,319.3 L371.4,324.9 L371.9,331.1 L372.4,337.9 L372.8,345.7 L373.2,354.9 L373.5,366.1 L373.7,387 L373.9,387 L374,387 L374,387 L374,381.5 Z" fill="#000" fill-opacity="0.55"/>
</g>
<path d="M106.9,200.6 C106.3,199.4 107.5,197.3 109.8,196.2 C112.1,195.1 117,195.1 120.8,194 C124.6,192.9 129.4,191.2 132.5,189.6 C135.5,188 138.5,186.2 139.1,184.5 C139.7,182.8 136.5,180.6 136.1,179.3 C135.8,178.1 133.8,177.7 136.9,177.2 C139.9,176.6 147.9,176.4 154.5,176.1 C161,175.8 168,175.3 176.4,175.3 C184.8,175.2 192.9,175.7 205,175.7 C217.1,175.7 234.3,175.3 248.9,175.3 C263.6,175.2 281.1,175.1 292.8,175.3 C304.6,175.4 312.9,175.9 319.2,176.4 C325.5,177 328.2,177.7 330.9,178.6 C333.6,179.5 335.3,180.8 335.3,182 C335.3,183.2 333.6,184.7 330.9,185.9 C328.2,187.2 324.3,188.4 319.2,189.6 C314.1,190.8 306.5,192.3 300.2,193.3 C293.8,194.2 289.7,194.4 281.1,195.5 C272.6,196.6 261.6,198.1 248.9,199.8 C236.2,201.6 215.9,204.5 205,205.7 C194.1,206.9 190.9,206.2 183.7,207.2 C176.5,208.1 166.4,210.1 161.8,211.6 C157.1,213 155.9,214.6 155.9,216 C155.9,217.3 159.6,218.6 161.8,219.6 C164,220.6 165.4,221.8 169.1,222 C172.8,222.2 177.8,220.8 183.7,220.8 C189.7,220.8 193.1,221.7 205,222 C216.8,222.3 244.5,222 254.8,222.7 C265,223.5 263.7,224.9 266.5,226.4 C269.3,227.9 271.1,230.1 271.6,231.5 C272.1,233 272,234.3 269.4,235.2 C266.9,236 262.1,235.7 256.2,236.6 C250.4,237.6 240.9,239.4 234.3,241 C227.7,242.6 221.6,245.4 216.7,246.2 C211.8,246.9 209.3,245.8 205,245.4 C200.7,245.1 194.8,244.1 191.1,244 C187.3,243.8 184.3,244.1 182.3,244.7 C180.2,245.3 178.6,246.5 178.6,247.6 C178.6,248.7 180.7,250.3 182.3,251.3 C183.9,252.3 186.3,252.5 188.1,253.5 C190,254.5 192.1,255.6 193.3,257.1 C194.4,258.7 195.3,261 195.2,263 C195,264.9 193.7,267.5 192.5,268.9 C191.3,270.2 190.3,270.7 188.1,271 C185.9,271.4 182.3,270.7 179.3,271 C176.4,271.4 173.4,272.9 170.6,273.2 C167.8,273.6 164.7,273.9 162.5,273.2 C160.3,272.6 158.6,271.3 157.4,269.6 C156.2,267.9 155.2,265.1 155.2,263 C155.2,260.9 156.3,259 157.4,257.1 C158.5,255.3 160.4,253.7 161.8,252 C163.1,250.3 165.2,248.5 165.4,246.9 C165.7,245.3 165.1,243.8 163.2,242.5 C161.4,241.2 157.9,239.9 154.5,238.8 C151,237.7 145.2,237.3 142.7,235.9 C140.3,234.6 141,232.6 139.8,230.8 C138.6,229 138.1,226.4 135.4,224.9 C132.7,223.5 126.6,222.6 123.7,222 C120.8,221.4 119.4,222 117.8,221.1 C116.3,220.2 114.2,217.8 114.2,216.7 C114.2,215.6 116.7,215.7 117.8,214.5 C118.9,213.3 121.5,211.2 120.8,209.4 C120,207.5 115.8,205 113.5,203.5 C111.1,202 107.5,201.8 106.9,200.6 Z" fill="none" stroke="#e9823f" stroke-width="1.3" stroke-linejoin="round"/>
<path d="M135.4,199.8 C134.9,198.5 135.2,197.4 138.3,195.5 C141.5,193.5 149.3,190.3 154.5,188.1 C159.6,185.9 163,183.6 169.1,182.3 C175.2,180.9 185.1,180.5 191.1,180.1 C197,179.6 195.4,179.8 205,179.6 C214.6,179.5 236.7,179.1 248.9,179.1 C261.1,179.1 270.9,179.2 278.2,179.6 C285.5,180.1 289.4,181.2 292.8,182 C296.3,182.8 298.7,183.4 298.7,184.5 C298.7,185.5 296.3,186.9 292.8,188.1 C289.4,189.4 285.5,190.6 278.2,191.8 C270.9,193 261.1,193.9 248.9,195.5 C236.7,197 215.9,199.8 205,201.3 C194.1,202.8 190.9,203.4 183.7,204.2 C176.5,205.1 168.8,206.6 161.8,206.4 C154.7,206.3 145.7,204.6 141.3,203.5 C136.9,202.4 135.9,201.2 135.4,199.8 Z" fill="none" stroke="#f4b47c" stroke-width="1.2" stroke-linejoin="round"/>
<path d="M148.6,227.9 C148.6,226.4 149.3,225.7 151.5,224.9 C153.7,224.2 152.9,223.6 161.8,223.5 C170.7,223.3 191.7,224 205,224 C218.3,224.1 233.5,223.2 241.6,223.8 C249.7,224.3 250.5,225.8 253.3,227.1 C256.1,228.4 258.4,230.2 258.4,231.5 C258.4,232.9 257.3,234 253.3,235.2 C249.3,236.4 242.3,237.9 234.3,238.8 C226.2,239.8 213.4,240.3 205,240.7 C196.6,241.2 189.5,241.7 183.7,241.8 C178,241.8 174.2,241.6 170.6,241 C166.9,240.4 164.9,239.3 161.8,238.1 C158.6,236.9 153.7,235.4 151.5,233.7 C149.3,232 148.6,229.3 148.6,227.9 Z" fill="none" stroke="#f4b47c" stroke-width="1.2" stroke-linejoin="round"/>
<path d="M161,261.5 C160.8,259.6 161.6,257.1 163.2,255.7 C164.8,254.2 167.9,253.1 170.6,252.7 C173.2,252.4 176.7,252.6 179.3,253.5 C182,254.3 185.2,256.2 186.7,257.9 C188.1,259.6 188.6,262.1 188.1,263.7 C187.6,265.3 186.2,266.5 183.7,267.4 C181.3,268.2 176.7,268.9 173.5,268.9 C170.3,268.9 166.8,268.6 164.7,267.4 C162.6,266.2 161.3,263.5 161,261.5 Z" fill="none" stroke="#f4b47c" stroke-width="1.2" stroke-linejoin="round"/>
<path d="M180.8,298.1 C181.7,296.2 183.7,295.2 185.2,295.2 C186.7,295.2 188.6,296.2 189.6,298.1 C190.6,300.1 191.1,303.9 191.1,306.9 C191.1,310 190.6,314.6 189.6,316.4 C188.6,318.3 186.5,318 185.2,317.9 C183.9,317.8 182.4,317.5 181.5,315.7 C180.7,313.9 180.2,309.8 180.1,306.9 C180,304 180,300.1 180.8,298.1 Z" fill="none" stroke="#e9823f" stroke-width="1.2" stroke-linejoin="round"/>
<path d="M184,302.5 C184.4,301.6 185.3,300.9 185.9,301.1 C186.6,301.2 187.5,301.8 187.8,303.3 C188.2,304.7 188.4,308.1 188.1,309.8 C187.9,311.6 187,313.1 186.4,313.5 C185.8,313.9 184.9,313.1 184.5,312 C184,310.9 183.8,308.5 183.7,306.9 C183.7,305.3 183.7,303.5 184,302.5 Z" fill="none" stroke="#f4b47c" stroke-width="1.0" stroke-linejoin="round"/>
<path d="M295.8,241.8 C297.9,241.2 303.1,240.3 307.5,240.3 C311.9,240.3 317.2,241.2 322.1,241.8 C327,242.4 332.1,243.6 336.8,244 C341.4,244.3 346.8,243.7 349.9,244 C353.1,244.2 354.3,244.4 355.8,245.4 C357.3,246.4 358.4,248.2 358.7,249.8 C359.1,251.4 358.7,253.5 358,254.9 C357.3,256.4 355.4,258.4 354.3,258.6 C353.2,258.8 352.5,257.5 351.4,256.4 C350.3,255.3 349.5,253.1 347.8,252 C346,250.9 344.2,250.2 341.2,249.8 C338.1,249.5 332.9,249.5 329.5,249.8 C326,250.2 322.9,250.9 320.7,252 C318.5,253.1 317.5,254.8 316.3,256.4 C315.1,258 314.8,260.9 313.3,261.5 C311.9,262.1 309.4,261.2 307.5,260.1 C305.5,259 303.5,256.9 301.6,254.9 C299.8,253 297.6,250.2 296.5,248.4 C295.4,246.5 295.2,245.1 295,244 C294.9,242.9 293.7,242.4 295.8,241.8 Z" fill="none" stroke="#e9823f" stroke-width="1.3" stroke-linejoin="round"/>
<path d="M216.7,288.6 C217.2,288.4 218.5,289.3 218.9,290.1 C219.3,290.8 219.6,292.4 219.3,293 C219.1,293.6 218,294.1 217.4,293.7 C216.9,293.4 216.2,292 216.1,291.1 C216,290.3 216.2,288.8 216.7,288.6 Z" fill="none" stroke="#e9823f" stroke-width="1.0" stroke-linejoin="round"/>
</g>
<clipPath id="clipb"><rect x="651.7" y="120.2" width="335.3" height="202.1"/></clipPath>
<clipPath id="dinb"><path d="M651.7,382.3 L651.7,387 L651.7,387 L651.8,387 L652,387 L652.2,366.1 L652.5,354.9 L652.9,345.7 L653.3,337.9 L653.8,331.1 L654.3,324.9 L654.9,319.3 L655.6,314.3 L656.3,310 L657.1,306.1 L658,302.5 L658.9,299.1 L659.9,296 L661,292.3 L662.1,288.3 L663.2,284.6 L664.5,281 L665.8,277.6 L667.1,274.4 L668.5,271 L670,267.7 L671.5,264.5 L673.1,261.5 L674.7,258.6 L676.4,255.8 L678.2,252.9 L680,250 L681.8,247.3 L683.7,244.7 L685.7,242.1 L687.7,239.7 L689.8,237.3 L691.9,235 L694,232.6 L696.2,230.2 L698.5,228 L700.8,225.8 L703.2,223.6 L705.5,221.5 L708,219.5 L710.5,217.5 L713,215.6 L715.6,213.7 L718.2,211.8 L720.8,209.9 L723.5,208.1 L726.2,206.3 L729,204.6 L731.8,202.9 L734.6,201.2 L737.4,199.6 L740.3,198 L743.2,196.5 L746.2,194.9 L749.2,193.4 L752.2,192 L755.2,190.5 L758.2,189.1 L761.3,187.8 L764.4,186.4 L767.5,185.1 L770.7,183.8 L773.8,182.6 L777,181.4 L780.2,180.1 L783.4,178.9 L786.6,177.8 L789.9,176.6 L793.1,175.4 L796.4,174.3 L799.6,173.2 L802.9,172.1 L806.2,171 L809.5,170 L812.8,169 L816.1,168 L819.4,167 L822.6,168 L825.9,169 L829.2,170 L832.5,171 L835.8,172.1 L839.1,173.2 L842.3,174.3 L845.6,175.4 L848.8,176.6 L852.1,177.8 L855.3,178.9 L858.5,180.1 L861.7,181.4 L864.9,182.6 L868,183.8 L871.2,185.1 L874.3,186.4 L877.4,187.8 L880.5,189.1 L883.5,190.5 L886.5,192 L889.5,193.4 L892.5,194.9 L895.5,196.5 L898.4,198 L901.3,199.6 L904.1,201.2 L906.9,202.9 L909.7,204.6 L912.5,206.3 L915.2,208.1 L917.9,209.9 L920.5,211.8 L923.1,213.7 L925.7,215.6 L928.2,217.5 L930.7,219.5 L933.2,221.5 L935.5,223.6 L937.9,225.8 L940.2,228 L942.5,230.2 L944.7,232.6 L946.8,235 L948.9,237.3 L951,239.7 L953,242.1 L955,244.7 L956.9,247.3 L958.7,250 L960.5,252.9 L962.3,255.8 L964,258.6 L965.6,261.5 L967.2,264.5 L968.7,267.7 L970.2,271 L971.6,274.4 L972.9,277.6 L974.2,281 L975.5,284.6 L976.6,288.3 L977.7,292.3 L978.8,296 L979.8,299.1 L980.7,302.5 L981.6,306.1 L982.4,310 L983.1,314.3 L983.8,319.3 L984.4,324.9 L984.9,331.1 L985.4,337.9 L985.8,345.7 L986.2,354.9 L986.5,366.1 L986.7,387 L986.9,387 L987,387 L987,387 L987,382.3 Z"/></clipPath>
<clipPath id="doutb"><path clip-rule="evenodd" d="M606.7,75.2 h425.3 v322.1 h-425.3 Z M651.7,382.3 L651.7,387 L651.7,387 L651.8,387 L652,387 L652.2,366.1 L652.5,354.9 L652.9,345.7 L653.3,337.9 L653.8,331.1 L654.3,324.9 L654.9,319.3 L655.6,314.3 L656.3,310 L657.1,306.1 L658,302.5 L658.9,299.1 L659.9,296 L661,292.3 L662.1,288.3 L663.2,284.6 L664.5,281 L665.8,277.6 L667.1,274.4 L668.5,271 L670,267.7 L671.5,264.5 L673.1,261.5 L674.7,258.6 L676.4,255.8 L678.2,252.9 L680,250 L681.8,247.3 L683.7,244.7 L685.7,242.1 L687.7,239.7 L689.8,237.3 L691.9,235 L694,232.6 L696.2,230.2 L698.5,228 L700.8,225.8 L703.2,223.6 L705.5,221.5 L708,219.5 L710.5,217.5 L713,215.6 L715.6,213.7 L718.2,211.8 L720.8,209.9 L723.5,208.1 L726.2,206.3 L729,204.6 L731.8,202.9 L734.6,201.2 L737.4,199.6 L740.3,198 L743.2,196.5 L746.2,194.9 L749.2,193.4 L752.2,192 L755.2,190.5 L758.2,189.1 L761.3,187.8 L764.4,186.4 L767.5,185.1 L770.7,183.8 L773.8,182.6 L777,181.4 L780.2,180.1 L783.4,178.9 L786.6,177.8 L789.9,176.6 L793.1,175.4 L796.4,174.3 L799.6,173.2 L802.9,172.1 L806.2,171 L809.5,170 L812.8,169 L816.1,168 L819.4,167 L822.6,168 L825.9,169 L829.2,170 L832.5,171 L835.8,172.1 L839.1,173.2 L842.3,174.3 L845.6,175.4 L848.8,176.6 L852.1,177.8 L855.3,178.9 L858.5,180.1 L861.7,181.4 L864.9,182.6 L868,183.8 L871.2,185.1 L874.3,186.4 L877.4,187.8 L880.5,189.1 L883.5,190.5 L886.5,192 L889.5,193.4 L892.5,194.9 L895.5,196.5 L898.4,198 L901.3,199.6 L904.1,201.2 L906.9,202.9 L909.7,204.6 L912.5,206.3 L915.2,208.1 L917.9,209.9 L920.5,211.8 L923.1,213.7 L925.7,215.6 L928.2,217.5 L930.7,219.5 L933.2,221.5 L935.5,223.6 L937.9,225.8 L940.2,228 L942.5,230.2 L944.7,232.6 L946.8,235 L948.9,237.3 L951,239.7 L953,242.1 L955,244.7 L956.9,247.3 L958.7,250 L960.5,252.9 L962.3,255.8 L964,258.6 L965.6,261.5 L967.2,264.5 L968.7,267.7 L970.2,271 L971.6,274.4 L972.9,277.6 L974.2,281 L975.5,284.6 L976.6,288.3 L977.7,292.3 L978.8,296 L979.8,299.1 L980.7,302.5 L981.6,306.1 L982.4,310 L983.1,314.3 L983.8,319.3 L984.4,324.9 L984.9,331.1 L985.4,337.9 L985.8,345.7 L986.2,354.9 L986.5,366.1 L986.7,387 L986.9,387 L987,387 L987,387 L987,382.3 Z"/></clipPath>
<g clip-path="url(#clipb)">
<g filter="url(#gainb)">
<rect x="621.7" y="90.2" width="395.3" height="262.1" fill="#000"/>
<rect x="612.7" y="69.3" width="410.1" height="303.6" fill="url(#gb_0)" opacity="1.0"/>
<g filter="url(#blb_7)"><ellipse cx="934.9" cy="136.9" rx="123" ry="10.3" fill="#fff" fill-opacity="0.100"/></g>
<g filter="url(#blb_5)"><ellipse cx="978.8" cy="142.8" rx="73.2" ry="6.4" fill="#fff" fill-opacity="0.100"/></g>
<g filter="url(#blb_3)"><polygon points="683,172 700.6,164.7 729.9,160.6 788.5,155.1 817.7,153 876.3,149.2 934.9,147.1 1022.8,147.1 1022.8,238 952.5,238 946.6,242.3 612.7,242.3 612.7,195.5 659.6,191.1 677.1,188.7 688.9,182.3" fill="#fff" fill-opacity="0.450"/></g>
<g filter="url(#blb_6)"><ellipse cx="658.1" cy="174.1" rx="22" ry="9.4" fill="#fff" fill-opacity="0.113"/></g>
<g filter="url(#blb_5)"><ellipse cx="975.9" cy="258.5" rx="17.6" ry="11.1" fill="#fff" fill-opacity="0.113"/></g>
<g filter="url(#blb_6)"><ellipse cx="659.6" cy="270.2" rx="11.7" ry="20.5" fill="#fff" fill-opacity="0.050"/></g>
<g filter="url(#blb_2_5)"><ellipse cx="989.1" cy="180" rx="29.3" ry="4.7" fill="#000" fill-opacity="1.000"/><ellipse cx="984.7" cy="223.3" rx="29.3" ry="4.4" fill="#000" fill-opacity="1.000"/><ellipse cx="990.6" cy="245.3" rx="23.4" ry="4.1" fill="#000" fill-opacity="0.900"/></g>
<g filter="url(#blb_4)"><ellipse cx="647.9" cy="185.8" rx="33.7" ry="4.4" fill="#000" fill-opacity="0.450"/></g>
<g filter="url(#blb_3)"><ellipse cx="649.3" cy="229.2" rx="13.2" ry="7" fill="#000" fill-opacity="1.000"/></g>
<g filter="url(#blb_2)"><ellipse cx="715.2" cy="191.1" rx="41" ry="1.8" fill="#000" fill-opacity="0.500"/></g>
<g filter="url(#blb_1_5)"><ellipse cx="732.8" cy="191.7" rx="17.6" ry="1.5" fill="#000" fill-opacity="0.900"/></g>
<g filter="url(#blb_3)"><ellipse cx="665.4" cy="247.3" rx="32.2" ry="3.8" fill="#000" fill-opacity="0.600"/></g>
<g clip-path="url(#dinb)"><rect x="612.7" y="127.9" width="410.1" height="245" fill="url(#gb_1)" opacity="1.0"/></g>
<g clip-path="url(#dinb)"><g filter="url(#blb_3)"><ellipse cx="806" cy="187.6" rx="58.6" ry="3.8" fill="#000" fill-opacity="0.600"/></g></g>
<g clip-path="url(#dinb)"><g filter="url(#blb_2_5)"><polygon points="744.5,161.8 911.5,161.8 910,188.7 882.2,189.9 847,185.2 806,181.1 773.8,179.4 744.5,178.8" fill="#fff" fill-opacity="0.889"/></g></g>
<g clip-path="url(#dinb)"><g filter="url(#blb_3)"><ellipse cx="880.7" cy="202.8" rx="33.7" ry="4.1" fill="#000" fill-opacity="0.700"/><ellipse cx="768" cy="210.1" rx="38.1" ry="3.5" fill="#000" fill-opacity="0.500"/><ellipse cx="847" cy="224.8" rx="58.6" ry="3.5" fill="#000" fill-opacity="0.400"/><ellipse cx="934.9" cy="217.4" rx="23.4" ry="3.5" fill="#000" fill-opacity="0.500"/></g></g>
<g clip-path="url(#dinb)"><g filter="url(#blb_6)"><ellipse cx="847" cy="208.7" rx="17.6" ry="17.6" fill="#fff" fill-opacity="0.083"/></g></g>
<g clip-path="url(#dinb)"><g filter="url(#blb_1_8)"><ellipse cx="659.9" cy="239.9" rx="3.4" ry="4" fill="#000" fill-opacity="0.700"/><ellipse cx="668.7" cy="243.5" rx="2.8" ry="2.6" fill="#000" fill-opacity="0.700"/><ellipse cx="700.8" cy="240.7" rx="3.5" ry="3.1" fill="#000" fill-opacity="0.700"/><ellipse cx="714" cy="241.1" rx="3.7" ry="4.4" fill="#000" fill-opacity="0.700"/><ellipse cx="726" cy="241.6" rx="2.8" ry="2.3" fill="#000" fill-opacity="0.700"/><ellipse cx="751.5" cy="243.8" rx="3.6" ry="4.9" fill="#000" fill-opacity="0.700"/><ellipse cx="765" cy="240.5" rx="4.1" ry="5.4" fill="#000" fill-opacity="0.700"/><ellipse cx="772.8" cy="238.7" rx="4.1" ry="4.4" fill="#000" fill-opacity="0.700"/><ellipse cx="786.9" cy="240.9" rx="3" ry="3" fill="#000" fill-opacity="0.700"/><ellipse cx="802" cy="244" rx="3.6" ry="4.9" fill="#000" fill-opacity="0.700"/><ellipse cx="837.4" cy="243.7" rx="4.1" ry="5.5" fill="#000" fill-opacity="0.700"/><ellipse cx="854.5" cy="238.6" rx="3.9" ry="4.4" fill="#000" fill-opacity="0.700"/><ellipse cx="862.4" cy="243.6" rx="4.2" ry="3.6" fill="#000" fill-opacity="0.700"/><ellipse cx="888.9" cy="239.3" rx="3.7" ry="5" fill="#000" fill-opacity="0.700"/><ellipse cx="905.3" cy="237.4" rx="3.6" ry="3.6" fill="#000" fill-opacity="0.700"/><ellipse cx="947" cy="239.4" rx="2.4" ry="2.8" fill="#000" fill-opacity="0.700"/><ellipse cx="953.7" cy="240.2" rx="3.4" ry="3.1" fill="#000" fill-opacity="0.700"/><ellipse cx="971.7" cy="239.4" rx="4.1" ry="5.5" fill="#000" fill-opacity="0.700"/><ellipse cx="665.7" cy="251.3" rx="3.5" ry="4.1" fill="#000" fill-opacity="0.700"/><ellipse cx="679.8" cy="254.6" rx="3.2" ry="3.4" fill="#000" fill-opacity="0.700"/><ellipse cx="689.8" cy="249.7" rx="4.1" ry="4.6" fill="#000" fill-opacity="0.700"/><ellipse cx="700.9" cy="250.5" rx="3.4" ry="2.7" fill="#000" fill-opacity="0.700"/><ellipse cx="718.6" cy="247.8" rx="3.5" ry="3.7" fill="#000" fill-opacity="0.700"/><ellipse cx="729.3" cy="252.8" rx="3.7" ry="3" fill="#000" fill-opacity="0.700"/><ellipse cx="744.7" cy="254.8" rx="2.7" ry="2.9" fill="#000" fill-opacity="0.700"/><ellipse cx="754.8" cy="250.1" rx="2.9" ry="2.9" fill="#000" fill-opacity="0.700"/><ellipse cx="767.6" cy="250.2" rx="3.7" ry="3.1" fill="#000" fill-opacity="0.700"/><ellipse cx="783.8" cy="249.7" rx="2.7" ry="3.4" fill="#000" fill-opacity="0.700"/><ellipse cx="792.5" cy="250.7" rx="3.6" ry="3.1" fill="#000" fill-opacity="0.700"/><ellipse cx="806.5" cy="253.8" rx="3.1" ry="4.1" fill="#000" fill-opacity="0.700"/><ellipse cx="819.4" cy="252.4" rx="4" ry="4.2" fill="#000" fill-opacity="0.700"/><ellipse cx="830.6" cy="251.4" rx="2.6" ry="3.4" fill="#000" fill-opacity="0.700"/><ellipse cx="857.6" cy="253.6" rx="3.5" ry="4.5" fill="#000" fill-opacity="0.700"/><ellipse cx="869.4" cy="249.6" rx="3.8" ry="3.6" fill="#000" fill-opacity="0.700"/><ellipse cx="884.5" cy="250.6" rx="3" ry="4.1" fill="#000" fill-opacity="0.700"/><ellipse cx="894.2" cy="254.6" rx="4" ry="5.5" fill="#000" fill-opacity="0.700"/><ellipse cx="914.4" cy="254.5" rx="2.7" ry="3.3" fill="#000" fill-opacity="0.700"/><ellipse cx="936.8" cy="249.6" rx="2.9" ry="2.7" fill="#000" fill-opacity="0.700"/><ellipse cx="950.2" cy="249.5" rx="3.8" ry="3.2" fill="#000" fill-opacity="0.700"/><ellipse cx="978.6" cy="254.3" rx="4" ry="4.6" fill="#000" fill-opacity="0.700"/><ellipse cx="661.5" cy="259" rx="2.8" ry="3.4" fill="#000" fill-opacity="0.700"/><ellipse cx="671.8" cy="264.9" rx="3.4" ry="3.5" fill="#000" fill-opacity="0.700"/><ellipse cx="688.1" cy="261.3" rx="3.8" ry="3.8" fill="#000" fill-opacity="0.700"/><ellipse cx="698.5" cy="264" rx="2.6" ry="3.3" fill="#000" fill-opacity="0.700"/><ellipse cx="750.8" cy="264.3" rx="2.4" ry="2.3" fill="#000" fill-opacity="0.700"/><ellipse cx="762.9" cy="260.9" rx="3.2" ry="4" fill="#000" fill-opacity="0.700"/><ellipse cx="772.1" cy="258.6" rx="2.5" ry="2.1" fill="#000" fill-opacity="0.700"/><ellipse cx="814.2" cy="260.1" rx="2.9" ry="2.9" fill="#000" fill-opacity="0.700"/><ellipse cx="827.8" cy="260.4" rx="2.6" ry="2.6" fill="#000" fill-opacity="0.700"/><ellipse cx="840.4" cy="263.2" rx="3" ry="2.5" fill="#000" fill-opacity="0.700"/><ellipse cx="851.9" cy="262.3" rx="3.8" ry="3.9" fill="#000" fill-opacity="0.700"/><ellipse cx="878.1" cy="260.5" rx="3.2" ry="3.9" fill="#000" fill-opacity="0.700"/><ellipse cx="893.1" cy="261.2" rx="2.7" ry="3.1" fill="#000" fill-opacity="0.700"/><ellipse cx="901.1" cy="260.9" rx="3.1" ry="4.1" fill="#000" fill-opacity="0.700"/><ellipse cx="933.3" cy="263.8" rx="2.8" ry="3" fill="#000" fill-opacity="0.700"/><ellipse cx="945.5" cy="262.8" rx="4" ry="5.1" fill="#000" fill-opacity="0.700"/><ellipse cx="957.8" cy="262" rx="2.5" ry="2.8" fill="#000" fill-opacity="0.700"/><ellipse cx="966.1" cy="263.6" rx="2.3" ry="2" fill="#000" fill-opacity="0.700"/><ellipse cx="669" cy="269.3" rx="2.3" ry="3" fill="#000" fill-opacity="0.700"/><ellipse cx="681.6" cy="273.2" rx="3.9" ry="5.3" fill="#000" fill-opacity="0.700"/><ellipse cx="694.1" cy="268.2" rx="3.7" ry="4.1" fill="#000" fill-opacity="0.700"/><ellipse cx="701.6" cy="273.7" rx="4.1" ry="3.4" fill="#000" fill-opacity="0.700"/><ellipse cx="718.1" cy="274.3" rx="2.7" ry="2.5" fill="#000" fill-opacity="0.700"/><ellipse cx="731.4" cy="273.8" rx="3" ry="3.1" fill="#000" fill-opacity="0.700"/><ellipse cx="742.2" cy="271.2" rx="2.4" ry="2.7" fill="#000" fill-opacity="0.700"/><ellipse cx="771" cy="269.2" rx="3.6" ry="4.5" fill="#000" fill-opacity="0.700"/><ellipse cx="782.1" cy="271.7" rx="3.5" ry="4.7" fill="#000" fill-opacity="0.700"/><ellipse cx="791.8" cy="273.7" rx="4" ry="4.5" fill="#000" fill-opacity="0.700"/><ellipse cx="809.5" cy="269.4" rx="2.8" ry="2.5" fill="#000" fill-opacity="0.700"/><ellipse cx="819.2" cy="269.7" rx="3.6" ry="4.9" fill="#000" fill-opacity="0.700"/><ellipse cx="835.2" cy="271.1" rx="3.9" ry="4.5" fill="#000" fill-opacity="0.700"/><ellipse cx="844.3" cy="268.1" rx="3.2" ry="3.3" fill="#000" fill-opacity="0.700"/><ellipse cx="858.3" cy="270.4" rx="3.8" ry="3.3" fill="#000" fill-opacity="0.700"/><ellipse cx="885.9" cy="271.6" rx="3.9" ry="5" fill="#000" fill-opacity="0.700"/><ellipse cx="897.9" cy="273.5" rx="3.9" ry="4.1" fill="#000" fill-opacity="0.700"/><ellipse cx="914.5" cy="271.6" rx="2.7" ry="2.5" fill="#000" fill-opacity="0.700"/><ellipse cx="925.1" cy="275.4" rx="3.9" ry="3.7" fill="#000" fill-opacity="0.700"/><ellipse cx="934.8" cy="269.4" rx="3.6" ry="4.8" fill="#000" fill-opacity="0.700"/><ellipse cx="965.3" cy="270.4" rx="3.1" ry="3.8" fill="#000" fill-opacity="0.700"/><ellipse cx="972.2" cy="274.4" rx="2.8" ry="2.9" fill="#000" fill-opacity="0.700"/><ellipse cx="660.9" cy="278.3" rx="2.9" ry="3.1" fill="#000" fill-opacity="0.700"/><ellipse cx="670.2" cy="282.8" rx="4.1" ry="4.2" fill="#000" fill-opacity="0.700"/><ellipse cx="682.4" cy="280.4" rx="3.5" ry="3.1" fill="#000" fill-opacity="0.700"/><ellipse cx="727.4" cy="281.2" rx="3.7" ry="4.7" fill="#000" fill-opacity="0.700"/><ellipse cx="738.3" cy="283.3" rx="3.8" ry="3.7" fill="#000" fill-opacity="0.700"/><ellipse cx="753.4" cy="283.5" rx="3.3" ry="2.9" fill="#000" fill-opacity="0.700"/><ellipse cx="761.5" cy="283.8" rx="3.6" ry="4.1" fill="#000" fill-opacity="0.700"/><ellipse cx="776.7" cy="283.1" rx="2.6" ry="3.5" fill="#000" fill-opacity="0.700"/><ellipse cx="785.5" cy="285.5" rx="2.5" ry="2.5" fill="#000" fill-opacity="0.700"/><ellipse cx="802.1" cy="282.5" rx="3.5" ry="3.8" fill="#000" fill-opacity="0.700"/><ellipse cx="811.7" cy="278.8" rx="3.6" ry="4.6" fill="#000" fill-opacity="0.700"/><ellipse cx="829" cy="281" rx="2.8" ry="2.9" fill="#000" fill-opacity="0.700"/><ellipse cx="852.9" cy="280.2" rx="3.7" ry="3.8" fill="#000" fill-opacity="0.700"/><ellipse cx="865" cy="282.4" rx="3.7" ry="3.8" fill="#000" fill-opacity="0.700"/><ellipse cx="889.8" cy="279" rx="2.5" ry="3.1" fill="#000" fill-opacity="0.700"/><ellipse cx="902" cy="279.7" rx="3.1" ry="3.8" fill="#000" fill-opacity="0.700"/><ellipse cx="930.9" cy="279.4" rx="3" ry="2.8" fill="#000" fill-opacity="0.700"/><ellipse cx="943.6" cy="279.8" rx="2.7" ry="3.5" fill="#000" fill-opacity="0.700"/><ellipse cx="958.3" cy="285.1" rx="4.1" ry="4.2" fill="#000" fill-opacity="0.700"/><ellipse cx="969.5" cy="283.2" rx="4.1" ry="5" fill="#000" fill-opacity="0.700"/><ellipse cx="668.8" cy="292.3" rx="3.4" ry="4.2" fill="#000" fill-opacity="0.700"/><ellipse cx="681" cy="293.7" rx="3.2" ry="3.6" fill="#000" fill-opacity="0.700"/><ellipse cx="689.4" cy="292.7" rx="2.3" ry="2.6" fill="#000" fill-opacity="0.700"/><ellipse cx="704.3" cy="292.9" rx="4.1" ry="5.5" fill="#000" fill-opacity="0.700"/><ellipse cx="719.8" cy="293.4" rx="2.4" ry="2.4" fill="#000" fill-opacity="0.700"/><ellipse cx="727.2" cy="292.7" rx="4.1" ry="4" fill="#000" fill-opacity="0.700"/><ellipse cx="753.4" cy="295.2" rx="3.4" ry="4.6" fill="#000" fill-opacity="0.700"/><ellipse cx="771" cy="291.2" rx="3.8" ry="5.2" fill="#000" fill-opacity="0.700"/><ellipse cx="796.9" cy="292.3" rx="2.5" ry="2" fill="#000" fill-opacity="0.700"/><ellipse cx="805.5" cy="289.8" rx="3.2" ry="3.9" fill="#000" fill-opacity="0.700"/><ellipse cx="820.1" cy="293.6" rx="2.8" ry="3.1" fill="#000" fill-opacity="0.700"/><ellipse cx="832.8" cy="290" rx="4" ry="4.9" fill="#000" fill-opacity="0.700"/><ellipse cx="845.5" cy="292.7" rx="3.4" ry="3.2" fill="#000" fill-opacity="0.700"/><ellipse cx="857.1" cy="294.6" rx="2.5" ry="2.7" fill="#000" fill-opacity="0.700"/><ellipse cx="870" cy="289.9" rx="3" ry="2.7" fill="#000" fill-opacity="0.700"/><ellipse cx="882.1" cy="289.9" rx="3.2" ry="2.7" fill="#000" fill-opacity="0.700"/><ellipse cx="897.6" cy="291.7" rx="3.6" ry="3" fill="#000" fill-opacity="0.700"/><ellipse cx="910.1" cy="288.8" rx="4.1" ry="3.8" fill="#000" fill-opacity="0.700"/><ellipse cx="923.6" cy="289.8" rx="3.5" ry="3.5" fill="#000" fill-opacity="0.700"/><ellipse cx="933.2" cy="294.2" rx="2.8" ry="3.5" fill="#000" fill-opacity="0.700"/><ellipse cx="952.9" cy="290.9" rx="2.7" ry="2.6" fill="#000" fill-opacity="0.700"/><ellipse cx="974.1" cy="289.3" rx="3.6" ry="4.9" fill="#000" fill-opacity="0.700"/><ellipse cx="655.7" cy="299.1" rx="2.4" ry="2.2" fill="#000" fill-opacity="0.700"/><ellipse cx="669" cy="303.9" rx="4" ry="3.7" fill="#000" fill-opacity="0.700"/><ellipse cx="700.6" cy="306" rx="4.1" ry="3.3" fill="#000" fill-opacity="0.700"/><ellipse cx="712" cy="306.2" rx="2.4" ry="2.4" fill="#000" fill-opacity="0.700"/><ellipse cx="736.1" cy="301.5" rx="3.6" ry="4.8" fill="#000" fill-opacity="0.700"/><ellipse cx="751.6" cy="304.6" rx="3.9" ry="4.4" fill="#000" fill-opacity="0.700"/><ellipse cx="774.9" cy="300.7" rx="3.8" ry="4.1" fill="#000" fill-opacity="0.700"/><ellipse cx="785.9" cy="304.5" rx="3.4" ry="4.2" fill="#000" fill-opacity="0.700"/><ellipse cx="801.2" cy="300.1" rx="3.6" ry="3" fill="#000" fill-opacity="0.700"/><ellipse cx="816.2" cy="304.1" rx="2.4" ry="2.3" fill="#000" fill-opacity="0.700"/><ellipse cx="842.9" cy="305.6" rx="3.1" ry="4.2" fill="#000" fill-opacity="0.700"/><ellipse cx="851.6" cy="301.7" rx="2.4" ry="2.5" fill="#000" fill-opacity="0.700"/><ellipse cx="879.2" cy="299.7" rx="2.4" ry="2.9" fill="#000" fill-opacity="0.700"/><ellipse cx="888.1" cy="300.1" rx="3.5" ry="4" fill="#000" fill-opacity="0.700"/><ellipse cx="902.4" cy="306.4" rx="2.7" ry="3" fill="#000" fill-opacity="0.700"/><ellipse cx="919.5" cy="303.6" rx="3.8" ry="4.2" fill="#000" fill-opacity="0.700"/><ellipse cx="927.7" cy="299.5" rx="3.9" ry="3.3" fill="#000" fill-opacity="0.700"/><ellipse cx="946.7" cy="300.4" rx="4" ry="3.4" fill="#000" fill-opacity="0.700"/><ellipse cx="953.9" cy="305.3" rx="3.4" ry="4.1" fill="#000" fill-opacity="0.700"/><ellipse cx="971.8" cy="301.6" rx="3.4" ry="3.7" fill="#000" fill-opacity="0.700"/><ellipse cx="668.6" cy="313.8" rx="3.8" ry="3.5" fill="#000" fill-opacity="0.700"/><ellipse cx="678.6" cy="314.8" rx="2.4" ry="2.4" fill="#000" fill-opacity="0.700"/><ellipse cx="688.5" cy="313.5" rx="3.7" ry="3.9" fill="#000" fill-opacity="0.700"/><ellipse cx="705.5" cy="310.8" rx="2.9" ry="4.1" fill="#000" fill-opacity="0.700"/><ellipse cx="717" cy="309.8" rx="2.7" ry="2.4" fill="#000" fill-opacity="0.700"/><ellipse cx="746.2" cy="316.8" rx="3.4" ry="4.7" fill="#000" fill-opacity="0.700"/><ellipse cx="755.6" cy="316.5" rx="4" ry="5.5" fill="#000" fill-opacity="0.700"/><ellipse cx="771.2" cy="312.3" rx="4.2" ry="5.7" fill="#000" fill-opacity="0.700"/><ellipse cx="785.4" cy="310.6" rx="2.4" ry="3" fill="#000" fill-opacity="0.700"/><ellipse cx="795.1" cy="314.1" rx="2.3" ry="2.9" fill="#000" fill-opacity="0.700"/><ellipse cx="807.3" cy="311.9" rx="3.7" ry="4.6" fill="#000" fill-opacity="0.700"/><ellipse cx="817.6" cy="311.5" rx="3.1" ry="2.6" fill="#000" fill-opacity="0.700"/><ellipse cx="835.6" cy="314.6" rx="4.1" ry="5.7" fill="#000" fill-opacity="0.700"/><ellipse cx="856.7" cy="311.6" rx="3.2" ry="3.5" fill="#000" fill-opacity="0.700"/><ellipse cx="871.1" cy="315.8" rx="2.8" ry="3" fill="#000" fill-opacity="0.700"/><ellipse cx="908.9" cy="315.4" rx="2.3" ry="2" fill="#000" fill-opacity="0.700"/><ellipse cx="924.1" cy="310.5" rx="2.4" ry="2.2" fill="#000" fill-opacity="0.700"/><ellipse cx="936.4" cy="316.8" rx="3.8" ry="5.2" fill="#000" fill-opacity="0.700"/><ellipse cx="947.1" cy="309.3" rx="3.1" ry="3.1" fill="#000" fill-opacity="0.700"/><ellipse cx="962.8" cy="309.9" rx="2.9" ry="2.7" fill="#000" fill-opacity="0.700"/><ellipse cx="657.7" cy="319.8" rx="3.1" ry="3.6" fill="#000" fill-opacity="0.700"/><ellipse cx="675.7" cy="325.8" rx="2.7" ry="2.4" fill="#000" fill-opacity="0.700"/><ellipse cx="687.6" cy="323.4" rx="3.9" ry="4.4" fill="#000" fill-opacity="0.700"/><ellipse cx="695.7" cy="319.6" rx="3.5" ry="4.7" fill="#000" fill-opacity="0.700"/><ellipse cx="725.3" cy="326.7" rx="3.8" ry="4.4" fill="#000" fill-opacity="0.700"/><ellipse cx="737" cy="320.8" rx="2.6" ry="3.2" fill="#000" fill-opacity="0.700"/><ellipse cx="762" cy="322.2" rx="3.1" ry="4" fill="#000" fill-opacity="0.700"/><ellipse cx="779.1" cy="320.7" rx="2.9" ry="3.2" fill="#000" fill-opacity="0.700"/><ellipse cx="791.2" cy="325.9" rx="4.1" ry="4.7" fill="#000" fill-opacity="0.700"/><ellipse cx="801.9" cy="323.7" rx="3.2" ry="3.1" fill="#000" fill-opacity="0.700"/><ellipse cx="817.4" cy="320.3" rx="3.5" ry="3.6" fill="#000" fill-opacity="0.700"/><ellipse cx="830.2" cy="326.9" rx="3.5" ry="3.2" fill="#000" fill-opacity="0.700"/><ellipse cx="852" cy="325.9" rx="2.9" ry="2.8" fill="#000" fill-opacity="0.700"/><ellipse cx="890.7" cy="321.7" rx="2.5" ry="2.4" fill="#000" fill-opacity="0.700"/><ellipse cx="915.2" cy="321" rx="2.4" ry="2.7" fill="#000" fill-opacity="0.700"/><ellipse cx="932.8" cy="324.4" rx="3.8" ry="3.1" fill="#000" fill-opacity="0.700"/><ellipse cx="946.7" cy="320" rx="2.8" ry="3" fill="#000" fill-opacity="0.700"/><ellipse cx="956.4" cy="319.9" rx="2.7" ry="3.7" fill="#000" fill-opacity="0.700"/><ellipse cx="972" cy="320.9" rx="4.2" ry="5" fill="#000" fill-opacity="0.700"/></g></g>
<g clip-path="url(#dinb)"><g filter="url(#blb_3)"><ellipse cx="672.7" cy="237.9" rx="5.3" ry="4.5" fill="#fff" fill-opacity="0.067"/><ellipse cx="699.7" cy="239.2" rx="5.1" ry="5.5" fill="#fff" fill-opacity="0.067"/><ellipse cx="718.1" cy="238.9" rx="5.6" ry="4.8" fill="#fff" fill-opacity="0.067"/><ellipse cx="736.9" cy="240.1" rx="4.4" ry="5.9" fill="#fff" fill-opacity="0.067"/><ellipse cx="764.8" cy="240" rx="6.1" ry="5.1" fill="#fff" fill-opacity="0.067"/><ellipse cx="795.3" cy="246.4" rx="4.2" ry="5.1" fill="#fff" fill-opacity="0.067"/><ellipse cx="826" cy="250.2" rx="4.9" ry="4.4" fill="#fff" fill-opacity="0.067"/><ellipse cx="857" cy="243.6" rx="3.8" ry="5.2" fill="#fff" fill-opacity="0.067"/><ellipse cx="880" cy="249.8" rx="4.1" ry="4.1" fill="#fff" fill-opacity="0.067"/><ellipse cx="933.2" cy="237.4" rx="5.2" ry="6.4" fill="#fff" fill-opacity="0.067"/><ellipse cx="700.2" cy="259.4" rx="4.8" ry="5.3" fill="#fff" fill-opacity="0.067"/><ellipse cx="737.7" cy="265" rx="5.3" ry="4.9" fill="#fff" fill-opacity="0.067"/><ellipse cx="750" cy="262.4" rx="4" ry="4.2" fill="#fff" fill-opacity="0.067"/><ellipse cx="789.4" cy="271.1" rx="3.8" ry="3.9" fill="#fff" fill-opacity="0.067"/><ellipse cx="813" cy="272.4" rx="3.8" ry="4.8" fill="#fff" fill-opacity="0.067"/><ellipse cx="829.1" cy="269.1" rx="4.2" ry="3.8" fill="#fff" fill-opacity="0.067"/><ellipse cx="858.9" cy="263.5" rx="4.5" ry="4.8" fill="#fff" fill-opacity="0.067"/><ellipse cx="886.2" cy="258.5" rx="3.5" ry="3" fill="#fff" fill-opacity="0.067"/><ellipse cx="913.7" cy="269.8" rx="4.7" ry="5.8" fill="#fff" fill-opacity="0.067"/><ellipse cx="961" cy="259.2" rx="4.4" ry="5" fill="#fff" fill-opacity="0.067"/><ellipse cx="663.1" cy="293.3" rx="3.3" ry="4.3" fill="#fff" fill-opacity="0.067"/><ellipse cx="697.7" cy="278.6" rx="6" ry="7.5" fill="#fff" fill-opacity="0.067"/><ellipse cx="739.4" cy="293.4" rx="4.5" ry="3.8" fill="#fff" fill-opacity="0.067"/><ellipse cx="770.8" cy="285.6" rx="3.7" ry="3.2" fill="#fff" fill-opacity="0.067"/><ellipse cx="796.5" cy="280.1" rx="4.5" ry="5.6" fill="#fff" fill-opacity="0.067"/><ellipse cx="823.2" cy="284.3" rx="4.3" ry="4" fill="#fff" fill-opacity="0.067"/><ellipse cx="849.1" cy="279.8" rx="5.3" ry="6.5" fill="#fff" fill-opacity="0.067"/><ellipse cx="868.8" cy="283.8" rx="4.5" ry="3.8" fill="#fff" fill-opacity="0.067"/><ellipse cx="929.1" cy="289.2" rx="3.8" ry="3.6" fill="#fff" fill-opacity="0.067"/><ellipse cx="959.3" cy="288.3" rx="3.3" ry="3.9" fill="#fff" fill-opacity="0.067"/><ellipse cx="711.7" cy="314.7" rx="3.9" ry="3.8" fill="#fff" fill-opacity="0.067"/><ellipse cx="738.9" cy="305" rx="5.9" ry="7.8" fill="#fff" fill-opacity="0.067"/><ellipse cx="759.7" cy="314.3" rx="5.5" ry="5.4" fill="#fff" fill-opacity="0.067"/><ellipse cx="808.4" cy="314.3" rx="5.7" ry="5.6" fill="#fff" fill-opacity="0.067"/><ellipse cx="838.6" cy="312.5" rx="5.2" ry="7.1" fill="#fff" fill-opacity="0.067"/><ellipse cx="868.2" cy="308.7" rx="4.3" ry="4.5" fill="#fff" fill-opacity="0.067"/><ellipse cx="890" cy="312.4" rx="4" ry="3.4" fill="#fff" fill-opacity="0.067"/><ellipse cx="912.2" cy="305.8" rx="3.6" ry="4.7" fill="#fff" fill-opacity="0.067"/><ellipse cx="938.9" cy="311.9" rx="4.7" ry="4.5" fill="#fff" fill-opacity="0.067"/><ellipse cx="937.3" cy="207.2" rx="3.5" ry="29.3" fill="#fff" fill-opacity="0.083"/><ellipse cx="917.3" cy="270.2" rx="4.1" ry="32.2" fill="#fff" fill-opacity="0.067"/><ellipse cx="899.8" cy="229.2" rx="3.5" ry="17.6" fill="#fff" fill-opacity="0.067"/></g></g>
<g clip-path="url(#dinb)"><g filter="url(#blb_4)"><path d="M689.6,233.7 C689.3,232.6 690,231.3 691.8,230.5 C693.6,229.7 694.2,229.2 700.6,229 C706.9,228.9 720.1,229.4 729.8,229.6 C739.6,229.9 751.8,229.9 759.1,230.5 C766.5,231.1 770.6,232 773.8,233 C776.9,234 778.2,235.1 778.2,236.6 C778.2,238.2 775.5,240.7 773.8,242.5 C772.1,244.3 769.9,246.4 767.9,247.6 C766,248.8 764.3,249.9 762.1,249.8 C759.9,249.7 757.7,248.2 754.7,246.9 C751.8,245.5 748.6,243.2 744.5,241.8 C740.3,240.3 735.2,238.8 729.8,238.1 C724.5,237.4 717.2,237.2 712.3,237.4 C707.4,237.6 703.7,239.3 700.6,239.3 C697.4,239.3 695.1,238.3 693.2,237.4 C691.4,236.4 689.8,234.9 689.6,233.7 Z" fill="#fff" fill-opacity="0.278"/><path d="M683.7,278.4 C683.6,275.8 684.1,274 685.2,272.5 C686.3,271 687.8,269.5 690.3,269.1 C692.9,268.8 697.1,269.7 700.6,270.3 C704,271 710.1,271.9 711.1,273 C712.1,274 708.4,275.3 706.4,276.5 C704.4,277.6 701.1,278.4 699.1,279.8 C697.1,281.2 695.7,282.4 694.7,285 C693.7,287.5 693.6,291.5 693.2,295.2 C692.9,298.9 692.8,303.3 692.5,306.9 C692.3,310.6 692,313.8 691.8,317.2 C691.5,320.6 691.9,325.7 691,327.4 C690.2,329.1 687.5,329.4 686.7,327.4 C685.8,325.5 685.6,319.6 685.9,315.7 C686.3,311.8 688.4,307.4 688.9,304 C689.3,300.6 689,297.9 688.6,295.2 C688.1,292.5 686.7,290.7 685.9,287.9 C685.1,285.1 683.8,280.9 683.7,278.4 Z" fill="#fff" fill-opacity="0.278"/><path d="M759.9,304 C760.2,302.8 761.1,301.2 761.8,301.1 C762.4,300.9 763.4,302.2 763.8,303.3 C764.2,304.4 764.5,306.4 764.3,307.7 C764,308.9 762.8,310.5 762.1,310.6 C761.4,310.7 760.4,309.5 760,308.4 C759.6,307.3 759.6,305.2 759.9,304 Z" fill="#fff" fill-opacity="0.278"/></g></g>
<g clip-path="url(#dinb)"><g filter="url(#blb_1_5)"><path d="M689.6,233.7 C689.3,232.6 690,231.3 691.8,230.5 C693.6,229.7 694.2,229.2 700.6,229 C706.9,228.9 720.1,229.4 729.8,229.6 C739.6,229.9 751.8,229.9 759.1,230.5 C766.5,231.1 770.6,232 773.8,233 C776.9,234 778.2,235.1 778.2,236.6 C778.2,238.2 775.5,240.7 773.8,242.5 C772.1,244.3 769.9,246.4 767.9,247.6 C766,248.8 764.3,249.9 762.1,249.8 C759.9,249.7 757.7,248.2 754.7,246.9 C751.8,245.5 748.6,243.2 744.5,241.8 C740.3,240.3 735.2,238.8 729.8,238.1 C724.5,237.4 717.2,237.2 712.3,237.4 C707.4,237.6 703.7,239.3 700.6,239.3 C697.4,239.3 695.1,238.3 693.2,237.4 C691.4,236.4 689.8,234.9 689.6,233.7 Z" fill="#fff" fill-opacity="0.889"/><path d="M683.7,278.4 C683.6,275.8 684.1,274 685.2,272.5 C686.3,271 687.8,269.5 690.3,269.1 C692.9,268.8 697.1,269.7 700.6,270.3 C704,271 710.1,271.9 711.1,273 C712.1,274 708.4,275.3 706.4,276.5 C704.4,277.6 701.1,278.4 699.1,279.8 C697.1,281.2 695.7,282.4 694.7,285 C693.7,287.5 693.6,291.5 693.2,295.2 C692.9,298.9 692.8,303.3 692.5,306.9 C692.3,310.6 692,313.8 691.8,317.2 C691.5,320.6 691.9,325.7 691,327.4 C690.2,329.1 687.5,329.4 686.7,327.4 C685.8,325.5 685.6,319.6 685.9,315.7 C686.3,311.8 688.4,307.4 688.9,304 C689.3,300.6 689,297.9 688.6,295.2 C688.1,292.5 686.7,290.7 685.9,287.9 C685.1,285.1 683.8,280.9 683.7,278.4 Z" fill="#fff" fill-opacity="0.889"/><path d="M759.9,304 C760.2,302.8 761.1,301.2 761.8,301.1 C762.4,300.9 763.4,302.2 763.8,303.3 C764.2,304.4 764.5,306.4 764.3,307.7 C764,308.9 762.8,310.5 762.1,310.6 C761.4,310.7 760.4,309.5 760,308.4 C759.6,307.3 759.6,305.2 759.9,304 Z" fill="#fff" fill-opacity="0.889"/></g></g>
<g clip-path="url(#dinb)"><g filter="url(#blb_4)"><path d="M910.7,252.7 C911.2,251.6 913.6,249.6 916.6,248.4 C919.5,247.1 924.6,245.7 928.3,245.1 C931.9,244.5 935.8,244.3 938.5,244.7 C941.2,245.1 943,246.2 944.4,247.6 C945.7,249.1 946.8,251.4 946.6,253.5 C946.3,255.6 944.5,257.9 942.9,260.1 C941.3,262.3 938.8,264.6 937.1,266.7 C935.4,268.7 933.9,271.1 932.7,272.5 C931.4,273.9 931,275.1 929.7,275 C928.5,274.9 926.8,273.3 925.3,271.8 C923.9,270.3 922.2,268.1 921,265.9 C919.7,263.7 919.2,260.4 918,258.6 C916.8,256.8 914.9,255.9 913.6,254.9 C912.4,254 910.2,253.8 910.7,252.7 Z" fill="#fff" fill-opacity="0.278"/><path d="M854.8,269.6 C854.8,268.2 856.2,266 858,264.5 C859.8,262.9 862.8,261.1 865.3,260.4 C867.9,259.6 871.7,259.5 873.4,259.8 C875.1,260.1 875.7,260.8 875.6,262.3 C875.4,263.8 873.5,266.7 872.6,268.9 C871.8,271 870.5,273.5 870.4,275.4 C870.4,277.4 871.9,278.5 872.3,280.6 C872.8,282.6 873.1,285.7 872.9,287.9 C872.7,290.1 872.4,292.3 871.2,293.7 C869.9,295.2 867,295.3 865.3,296.7 C863.6,298 862,299.8 860.9,301.8 C859.8,303.7 859,305.8 858.7,308.4 C858.5,310.9 859.5,314 859.5,317.2 C859.5,320.3 859.6,325.7 858.7,327.4 C857.9,329.1 855.2,329.4 854.3,327.4 C853.5,325.5 854.2,318.9 853.6,315.7 C853,312.5 851.9,310.8 850.7,308.4 C849.5,305.9 847.5,303.5 846.3,301.1 C845.1,298.6 844.1,296.1 843.6,293.7 C843.2,291.4 842.8,289 843.4,287.2 C843.9,285.3 845.3,283.4 847,282.8 C848.7,282.2 851.3,283.1 853.6,283.5 C855.9,283.9 858.7,285.4 860.9,285 C863.1,284.5 865.6,281.9 866.8,280.6 C868,279.2 868.7,278 868.2,276.9 C867.8,275.8 865.6,274.7 863.9,274 C862.1,273.2 859.5,273.2 858,272.5 C856.5,271.8 854.8,270.9 854.8,269.6 Z" fill="#fff" fill-opacity="0.278"/><path d="M874.1,300.3 C874.5,299.2 875.6,298.7 877,298.4 C878.5,298.1 881.1,298.2 882.9,298.4 C884.7,298.6 887.6,298.4 888,299.6 C888.4,300.8 886.2,303.5 885.1,305.5 C884,307.4 882.3,309.4 881.4,311.3 C880.5,313.3 880,314.5 879.7,317.2 C879.3,319.9 880,325.7 879.2,327.4 C878.5,329.1 875.9,329.9 875.3,327.4 C874.6,325 875.4,316.4 875.3,312.8 C875.1,309.1 874.6,307.5 874.4,305.5 C874.2,303.4 873.7,301.5 874.1,300.3 Z" fill="#fff" fill-opacity="0.278"/></g></g>
<g clip-path="url(#dinb)"><g filter="url(#blb_1_5)"><path d="M910.7,252.7 C911.2,251.6 913.6,249.6 916.6,248.4 C919.5,247.1 924.6,245.7 928.3,245.1 C931.9,244.5 935.8,244.3 938.5,244.7 C941.2,245.1 943,246.2 944.4,247.6 C945.7,249.1 946.8,251.4 946.6,253.5 C946.3,255.6 944.5,257.9 942.9,260.1 C941.3,262.3 938.8,264.6 937.1,266.7 C935.4,268.7 933.9,271.1 932.7,272.5 C931.4,273.9 931,275.1 929.7,275 C928.5,274.9 926.8,273.3 925.3,271.8 C923.9,270.3 922.2,268.1 921,265.9 C919.7,263.7 919.2,260.4 918,258.6 C916.8,256.8 914.9,255.9 913.6,254.9 C912.4,254 910.2,253.8 910.7,252.7 Z" fill="#fff" fill-opacity="0.889"/><path d="M854.8,269.6 C854.8,268.2 856.2,266 858,264.5 C859.8,262.9 862.8,261.1 865.3,260.4 C867.9,259.6 871.7,259.5 873.4,259.8 C875.1,260.1 875.7,260.8 875.6,262.3 C875.4,263.8 873.5,266.7 872.6,268.9 C871.8,271 870.5,273.5 870.4,275.4 C870.4,277.4 871.9,278.5 872.3,280.6 C872.8,282.6 873.1,285.7 872.9,287.9 C872.7,290.1 872.4,292.3 871.2,293.7 C869.9,295.2 867,295.3 865.3,296.7 C863.6,298 862,299.8 860.9,301.8 C859.8,303.7 859,305.8 858.7,308.4 C858.5,310.9 859.5,314 859.5,317.2 C859.5,320.3 859.6,325.7 858.7,327.4 C857.9,329.1 855.2,329.4 854.3,327.4 C853.5,325.5 854.2,318.9 853.6,315.7 C853,312.5 851.9,310.8 850.7,308.4 C849.5,305.9 847.5,303.5 846.3,301.1 C845.1,298.6 844.1,296.1 843.6,293.7 C843.2,291.4 842.8,289 843.4,287.2 C843.9,285.3 845.3,283.4 847,282.8 C848.7,282.2 851.3,283.1 853.6,283.5 C855.9,283.9 858.7,285.4 860.9,285 C863.1,284.5 865.6,281.9 866.8,280.6 C868,279.2 868.7,278 868.2,276.9 C867.8,275.8 865.6,274.7 863.9,274 C862.1,273.2 859.5,273.2 858,272.5 C856.5,271.8 854.8,270.9 854.8,269.6 Z" fill="#fff" fill-opacity="0.889"/><path d="M874.1,300.3 C874.5,299.2 875.6,298.7 877,298.4 C878.5,298.1 881.1,298.2 882.9,298.4 C884.7,298.6 887.6,298.4 888,299.6 C888.4,300.8 886.2,303.5 885.1,305.5 C884,307.4 882.3,309.4 881.4,311.3 C880.5,313.3 880,314.5 879.7,317.2 C879.3,319.9 880,325.7 879.2,327.4 C878.5,329.1 875.9,329.9 875.3,327.4 C874.6,325 875.4,316.4 875.3,312.8 C875.1,309.1 874.6,307.5 874.4,305.5 C874.2,303.4 873.7,301.5 874.1,300.3 Z" fill="#fff" fill-opacity="0.889"/></g></g>
<path d="M651.7,382.3 L651.7,387 L651.7,387 L651.8,387 L652,387 L652.2,366.1 L652.5,354.9 L652.9,345.7 L653.3,337.9 L653.8,331.1 L654.3,324.9 L654.9,319.3 L655.6,314.3 L656.3,310 L657.1,306.1 L658,302.5 L658.9,299.1 L659.9,296 L661,292.3 L662.1,288.3 L663.2,284.6 L664.5,281 L665.8,277.6 L667.1,274.4 L668.5,271 L670,267.7 L671.5,264.5 L673.1,261.5 L674.7,258.6 L676.4,255.8 L678.2,252.9 L680,250 L681.8,247.3 L683.7,244.7 L685.7,242.1 L687.7,239.7 L689.8,237.3 L691.9,235 L694,232.6 L696.2,230.2 L698.5,228 L700.8,225.8 L703.2,223.6 L705.5,221.5 L708,219.5 L710.5,217.5 L713,215.6 L715.6,213.7 L718.2,211.8 L720.8,209.9 L723.5,208.1 L726.2,206.3 L729,204.6 L731.8,202.9 L734.6,201.2 L737.4,199.6 L740.3,198 L743.2,196.5 L746.2,194.9 L749.2,193.4 L752.2,192 L755.2,190.5 L758.2,189.1 L761.3,187.8 L764.4,186.4 L767.5,185.1 L770.7,183.8 L773.8,182.6 L777,181.4 L780.2,180.1 L783.4,178.9 L786.6,177.8 L789.9,176.6 L793.1,175.4 L796.4,174.3 L799.6,173.2 L802.9,172.1 L806.2,171 L809.5,170 L812.8,169 L816.1,168 L819.4,167 L822.6,168 L825.9,169 L829.2,170 L832.5,171 L835.8,172.1 L839.1,173.2 L842.3,174.3 L845.6,175.4 L848.8,176.6 L852.1,177.8 L855.3,178.9 L858.5,180.1 L861.7,181.4 L864.9,182.6 L868,183.8 L871.2,185.1 L874.3,186.4 L877.4,187.8 L880.5,189.1 L883.5,190.5 L886.5,192 L889.5,193.4 L892.5,194.9 L895.5,196.5 L898.4,198 L901.3,199.6 L904.1,201.2 L906.9,202.9 L909.7,204.6 L912.5,206.3 L915.2,208.1 L917.9,209.9 L920.5,211.8 L923.1,213.7 L925.7,215.6 L928.2,217.5 L930.7,219.5 L933.2,221.5 L935.5,223.6 L937.9,225.8 L940.2,228 L942.5,230.2 L944.7,232.6 L946.8,235 L948.9,237.3 L951,239.7 L953,242.1 L955,244.7 L956.9,247.3 L958.7,250 L960.5,252.9 L962.3,255.8 L964,258.6 L965.6,261.5 L967.2,264.5 L968.7,267.7 L970.2,271 L971.6,274.4 L972.9,277.6 L974.2,281 L975.5,284.6 L976.6,288.3 L977.7,292.3 L978.8,296 L979.8,299.1 L980.7,302.5 L981.6,306.1 L982.4,310 L983.1,314.3 L983.8,319.3 L984.4,324.9 L984.9,331.1 L985.4,337.9 L985.8,345.7 L986.2,354.9 L986.5,366.1 L986.7,387 L986.9,387 L987,387 L987,387 L987,382.3 Z" fill="#000" fill-opacity="0.55"/>
</g>
<path d="M689.6,233.7 C689.3,232.6 690,231.3 691.8,230.5 C693.6,229.7 694.2,229.2 700.6,229 C706.9,228.9 720.1,229.4 729.8,229.6 C739.6,229.9 751.8,229.9 759.1,230.5 C766.5,231.1 770.6,232 773.8,233 C776.9,234 778.2,235.1 778.2,236.6 C778.2,238.2 775.5,240.7 773.8,242.5 C772.1,244.3 769.9,246.4 767.9,247.6 C766,248.8 764.3,249.9 762.1,249.8 C759.9,249.7 757.7,248.2 754.7,246.9 C751.8,245.5 748.6,243.2 744.5,241.8 C740.3,240.3 735.2,238.8 729.8,238.1 C724.5,237.4 717.2,237.2 712.3,237.4 C707.4,237.6 703.7,239.3 700.6,239.3 C697.4,239.3 695.1,238.3 693.2,237.4 C691.4,236.4 689.8,234.9 689.6,233.7 Z" fill="none" stroke="#e9823f" stroke-width="1.3" stroke-linejoin="round"/>
<path d="M683.7,278.4 C683.6,275.8 684.1,274 685.2,272.5 C686.3,271 687.8,269.5 690.3,269.1 C692.9,268.8 697.1,269.7 700.6,270.3 C704,271 710.1,271.9 711.1,273 C712.1,274 708.4,275.3 706.4,276.5 C704.4,277.6 701.1,278.4 699.1,279.8 C697.1,281.2 695.7,282.4 694.7,285 C693.7,287.5 693.6,291.5 693.2,295.2 C692.9,298.9 692.8,303.3 692.5,306.9 C692.3,310.6 692,313.8 691.8,317.2 C691.5,320.6 691.9,325.7 691,327.4 C690.2,329.1 687.5,329.4 686.7,327.4 C685.8,325.5 685.6,319.6 685.9,315.7 C686.3,311.8 688.4,307.4 688.9,304 C689.3,300.6 689,297.9 688.6,295.2 C688.1,292.5 686.7,290.7 685.9,287.9 C685.1,285.1 683.8,280.9 683.7,278.4 Z" fill="none" stroke="#e9823f" stroke-width="1.3" stroke-linejoin="round"/>
<path d="M759.9,304 C760.2,302.8 761.1,301.2 761.8,301.1 C762.4,300.9 763.4,302.2 763.8,303.3 C764.2,304.4 764.5,306.4 764.3,307.7 C764,308.9 762.8,310.5 762.1,310.6 C761.4,310.7 760.4,309.5 760,308.4 C759.6,307.3 759.6,305.2 759.9,304 Z" fill="none" stroke="#e9823f" stroke-width="1.3" stroke-linejoin="round"/>
<path d="M910.7,252.7 C911.2,251.6 913.6,249.6 916.6,248.4 C919.5,247.1 924.6,245.7 928.3,245.1 C931.9,244.5 935.8,244.3 938.5,244.7 C941.2,245.1 943,246.2 944.4,247.6 C945.7,249.1 946.8,251.4 946.6,253.5 C946.3,255.6 944.5,257.9 942.9,260.1 C941.3,262.3 938.8,264.6 937.1,266.7 C935.4,268.7 933.9,271.1 932.7,272.5 C931.4,273.9 931,275.1 929.7,275 C928.5,274.9 926.8,273.3 925.3,271.8 C923.9,270.3 922.2,268.1 921,265.9 C919.7,263.7 919.2,260.4 918,258.6 C916.8,256.8 914.9,255.9 913.6,254.9 C912.4,254 910.2,253.8 910.7,252.7 Z" fill="none" stroke="#e9823f" stroke-width="1.3" stroke-linejoin="round"/>
<path d="M854.8,269.6 C854.8,268.2 856.2,266 858,264.5 C859.8,262.9 862.8,261.1 865.3,260.4 C867.9,259.6 871.7,259.5 873.4,259.8 C875.1,260.1 875.7,260.8 875.6,262.3 C875.4,263.8 873.5,266.7 872.6,268.9 C871.8,271 870.5,273.5 870.4,275.4 C870.4,277.4 871.9,278.5 872.3,280.6 C872.8,282.6 873.1,285.7 872.9,287.9 C872.7,290.1 872.4,292.3 871.2,293.7 C869.9,295.2 867,295.3 865.3,296.7 C863.6,298 862,299.8 860.9,301.8 C859.8,303.7 859,305.8 858.7,308.4 C858.5,310.9 859.5,314 859.5,317.2 C859.5,320.3 859.6,325.7 858.7,327.4 C857.9,329.1 855.2,329.4 854.3,327.4 C853.5,325.5 854.2,318.9 853.6,315.7 C853,312.5 851.9,310.8 850.7,308.4 C849.5,305.9 847.5,303.5 846.3,301.1 C845.1,298.6 844.1,296.1 843.6,293.7 C843.2,291.4 842.8,289 843.4,287.2 C843.9,285.3 845.3,283.4 847,282.8 C848.7,282.2 851.3,283.1 853.6,283.5 C855.9,283.9 858.7,285.4 860.9,285 C863.1,284.5 865.6,281.9 866.8,280.6 C868,279.2 868.7,278 868.2,276.9 C867.8,275.8 865.6,274.7 863.9,274 C862.1,273.2 859.5,273.2 858,272.5 C856.5,271.8 854.8,270.9 854.8,269.6 Z" fill="none" stroke="#e9823f" stroke-width="1.3" stroke-linejoin="round"/>
<path d="M874.1,300.3 C874.5,299.2 875.6,298.7 877,298.4 C878.5,298.1 881.1,298.2 882.9,298.4 C884.7,298.6 887.6,298.4 888,299.6 C888.4,300.8 886.2,303.5 885.1,305.5 C884,307.4 882.3,309.4 881.4,311.3 C880.5,313.3 880,314.5 879.7,317.2 C879.3,319.9 880,325.7 879.2,327.4 C878.5,329.1 875.9,329.9 875.3,327.4 C874.6,325 875.4,316.4 875.3,312.8 C875.1,309.1 874.6,307.5 874.4,305.5 C874.2,303.4 873.7,301.5 874.1,300.3 Z" fill="none" stroke="#e9823f" stroke-width="1.3" stroke-linejoin="round"/>
<path d="M925.3,254.5 C925.5,253.8 926.4,253.1 927.5,252.7 C928.6,252.4 930.8,252.2 931.9,252.5 C933.1,252.7 934.2,253.7 934.4,254.5 C934.7,255.3 934.2,256.5 933.4,257.1 C932.6,257.8 930.9,258.6 929.7,258.6 C928.6,258.6 927.2,257.8 926.5,257.1 C925.8,256.5 925.2,255.2 925.3,254.5 Z" fill="none" stroke="#f4b47c" stroke-width="1.1" stroke-linejoin="round"/>
<path d="M847,290.8 C847.4,289 848.6,287.5 850.7,287.2 C852.7,286.8 856.8,288.4 859.5,288.6 C862.1,288.9 866,287.8 866.8,288.6 C867.5,289.5 865.1,291.9 863.9,293.7 C862.6,295.6 860.9,297.5 859.5,299.6 C858,301.7 856.6,305.5 855.4,306.2 C854.1,306.9 853.3,305.3 852.1,304 C851,302.6 849.3,300.3 848.5,298.1 C847.6,295.9 846.6,292.6 847,290.8 Z" fill="none" stroke="#f4b47c" stroke-width="1.1" stroke-linejoin="round"/>
<path d="M750.3,173.5 C750.3,172 754,169.8 759.1,168.4 C764.3,166.9 771.5,165.7 781.1,164.7 C790.7,163.7 806.1,163 817,162.5 C827.8,162 836.5,161.9 846.3,161.8 C856,161.7 867,161.5 875.6,161.8 C884.1,162.1 892.2,162.9 897.5,163.5 C902.9,164.2 907,164.7 907.8,165.9 C908.5,167.1 903.7,168.8 901.9,170.6 C900.1,172.3 897,174.5 896.8,176.4 C896.6,178.4 898.6,180.3 900.5,182.3 C902.3,184.2 908.3,186.9 907.8,188.1 C907.3,189.4 902.9,189.2 897.5,189.6 C892.2,190 882.9,190.6 875.6,190.3 C868.2,190.1 860.9,189.1 853.6,188.1 C846.3,187.2 837.7,185.4 831.6,184.5 C825.5,183.6 825.4,183.4 817,182.7 C808.6,182.1 790.7,181.4 781.1,180.5 C771.4,179.6 764.3,178.3 759.1,177.2 C754,176 750.3,175 750.3,173.5 Z" fill="none" stroke="#e9823f" stroke-width="1.3" stroke-linejoin="round"/>
</g>
<clipPath id="clipc"><rect x="41" y="505" width="335.5" height="201.3"/></clipPath>
<clipPath id="dinc"><path d="M41,766.3 L41,771.3 L41,771.3 L41.1,771.3 L41.3,771.3 L41.5,750.4 L41.8,739.2 L42.2,730 L42.6,722.2 L43.1,715.4 L43.6,709.2 L44.2,703.6 L44.9,698.6 L45.6,694.3 L46.4,690.4 L47.3,686.8 L48.2,683.4 L49.2,680.3 L50.3,676.6 L51.4,672.6 L52.5,668.9 L53.8,665.3 L55.1,661.9 L56.4,658.7 L57.8,655.3 L59.3,652 L60.8,648.8 L62.4,645.8 L64,642.9 L65.7,640.1 L67.5,637.2 L69.3,634.3 L71.1,631.6 L73,629 L75,626.4 L77,624 L79.1,621.6 L81.2,619.3 L83.4,616.9 L85.6,614.5 L87.8,612.3 L90.1,610.1 L92.5,607.9 L94.9,605.8 L97.3,603.8 L99.8,601.8 L102.3,599.9 L104.9,598 L107.5,596.1 L110.1,594.2 L112.8,592.4 L115.6,590.6 L118.3,588.9 L121.1,587.2 L123.9,585.5 L126.8,583.9 L129.7,582.3 L132.6,580.8 L135.5,579.2 L138.5,577.7 L141.5,576.3 L144.6,574.8 L147.6,573.4 L150.7,572.1 L153.8,570.7 L156.9,569.4 L160.1,568.1 L163.2,566.9 L166.4,565.7 L169.6,564.4 L172.8,563.2 L176,562.1 L179.3,560.9 L182.5,559.7 L185.8,558.6 L189,557.5 L192.3,556.4 L195.6,555.3 L198.9,554.3 L202.2,553.3 L205.5,552.3 L208.7,551.3 L212,552.3 L215.3,553.3 L218.6,554.3 L221.9,555.3 L225.2,556.4 L228.5,557.5 L231.7,558.6 L235,559.7 L238.2,560.9 L241.5,562.1 L244.7,563.2 L247.9,564.4 L251.1,565.7 L254.3,566.9 L257.4,568.1 L260.6,569.4 L263.7,570.7 L266.8,572.1 L269.9,573.4 L272.9,574.8 L276,576.3 L279,577.7 L282,579.2 L284.9,580.8 L287.8,582.3 L290.7,583.9 L293.6,585.5 L296.4,587.2 L299.2,588.9 L301.9,590.6 L304.7,592.4 L307.4,594.2 L310,596.1 L312.6,598 L315.2,599.9 L317.7,601.8 L320.2,603.8 L322.6,605.8 L325,607.9 L327.4,610.1 L329.7,612.3 L331.9,614.5 L334.1,616.9 L336.3,619.3 L338.4,621.6 L340.5,624 L342.5,626.4 L344.5,629 L346.4,631.6 L348.2,634.3 L350,637.2 L351.8,640.1 L353.5,642.9 L355.1,645.8 L356.7,648.8 L358.2,652 L359.7,655.3 L361.1,658.7 L362.4,661.9 L363.7,665.3 L365,668.9 L366.1,672.6 L367.2,676.6 L368.3,680.3 L369.3,683.4 L370.2,686.8 L371.1,690.4 L371.9,694.3 L372.6,698.6 L373.3,703.6 L373.9,709.2 L374.4,715.4 L374.9,722.2 L375.3,730 L375.7,739.2 L376,750.4 L376.2,771.3 L376.4,771.3 L376.5,771.3 L376.5,771.3 L376.5,766.3 Z"/></clipPath>
<clipPath id="doutc"><path clip-rule="evenodd" d="M-4,460 h425.5 v321.3 h-425.5 Z M41,766.3 L41,771.3 L41,771.3 L41.1,771.3 L41.3,771.3 L41.5,750.4 L41.8,739.2 L42.2,730 L42.6,722.2 L43.1,715.4 L43.6,709.2 L44.2,703.6 L44.9,698.6 L45.6,694.3 L46.4,690.4 L47.3,686.8 L48.2,683.4 L49.2,680.3 L50.3,676.6 L51.4,672.6 L52.5,668.9 L53.8,665.3 L55.1,661.9 L56.4,658.7 L57.8,655.3 L59.3,652 L60.8,648.8 L62.4,645.8 L64,642.9 L65.7,640.1 L67.5,637.2 L69.3,634.3 L71.1,631.6 L73,629 L75,626.4 L77,624 L79.1,621.6 L81.2,619.3 L83.4,616.9 L85.6,614.5 L87.8,612.3 L90.1,610.1 L92.5,607.9 L94.9,605.8 L97.3,603.8 L99.8,601.8 L102.3,599.9 L104.9,598 L107.5,596.1 L110.1,594.2 L112.8,592.4 L115.6,590.6 L118.3,588.9 L121.1,587.2 L123.9,585.5 L126.8,583.9 L129.7,582.3 L132.6,580.8 L135.5,579.2 L138.5,577.7 L141.5,576.3 L144.6,574.8 L147.6,573.4 L150.7,572.1 L153.8,570.7 L156.9,569.4 L160.1,568.1 L163.2,566.9 L166.4,565.7 L169.6,564.4 L172.8,563.2 L176,562.1 L179.3,560.9 L182.5,559.7 L185.8,558.6 L189,557.5 L192.3,556.4 L195.6,555.3 L198.9,554.3 L202.2,553.3 L205.5,552.3 L208.7,551.3 L212,552.3 L215.3,553.3 L218.6,554.3 L221.9,555.3 L225.2,556.4 L228.5,557.5 L231.7,558.6 L235,559.7 L238.2,560.9 L241.5,562.1 L244.7,563.2 L247.9,564.4 L251.1,565.7 L254.3,566.9 L257.4,568.1 L260.6,569.4 L263.7,570.7 L266.8,572.1 L269.9,573.4 L272.9,574.8 L276,576.3 L279,577.7 L282,579.2 L284.9,580.8 L287.8,582.3 L290.7,583.9 L293.6,585.5 L296.4,587.2 L299.2,588.9 L301.9,590.6 L304.7,592.4 L307.4,594.2 L310,596.1 L312.6,598 L315.2,599.9 L317.7,601.8 L320.2,603.8 L322.6,605.8 L325,607.9 L327.4,610.1 L329.7,612.3 L331.9,614.5 L334.1,616.9 L336.3,619.3 L338.4,621.6 L340.5,624 L342.5,626.4 L344.5,629 L346.4,631.6 L348.2,634.3 L350,637.2 L351.8,640.1 L353.5,642.9 L355.1,645.8 L356.7,648.8 L358.2,652 L359.7,655.3 L361.1,658.7 L362.4,661.9 L363.7,665.3 L365,668.9 L366.1,672.6 L367.2,676.6 L368.3,680.3 L369.3,683.4 L370.2,686.8 L371.1,690.4 L371.9,694.3 L372.6,698.6 L373.3,703.6 L373.9,709.2 L374.4,715.4 L374.9,722.2 L375.3,730 L375.7,739.2 L376,750.4 L376.2,771.3 L376.4,771.3 L376.5,771.3 L376.5,771.3 L376.5,766.3 Z"/></clipPath>
<g clip-path="url(#clipc)">
<g filter="url(#gainc)">
<rect x="11" y="475" width="395.5" height="261.3" fill="#000"/>
<rect x="0.7" y="453.3" width="410.1" height="303.6" fill="url(#gc_0)" opacity="1.0"/>
<g filter="url(#blc_4)"><polygon points="79.8,535 97.4,529.4 123.7,526.8 264.3,526.8 322.9,528.8 410.8,531.7 410.8,547.6 205.7,546.4 123.7,545.2 97.4,542.3" fill="#fff" fill-opacity="0.450"/></g>
<g filter="url(#blc_6)"><ellipse cx="65.1" cy="536.1" rx="26.4" ry="8.2" fill="#fff" fill-opacity="0.087"/></g>
<g clip-path="url(#doutc)"><g filter="url(#blc_5)"><ellipse cx="43.2" cy="640.1" rx="14.1" ry="13.2" fill="#fff" fill-opacity="0.450"/></g></g>
<g clip-path="url(#doutc)"><g filter="url(#blc_3)"><ellipse cx="44.6" cy="676.1" rx="11.7" ry="3.5" fill="#000" fill-opacity="0.500"/></g></g>
<g clip-path="url(#doutc)"><g filter="url(#blc_5)"><ellipse cx="53.4" cy="701" rx="11.7" ry="11.7" fill="#fff" fill-opacity="0.062"/></g></g>
<g clip-path="url(#doutc)"><g filter="url(#blc_3)"><polygon points="205.7,542.9 410.8,542.9 410.8,627.2 337.6,627.2 293.6,592.7 205.7,551.7" fill="#fff" fill-opacity="0.450"/></g></g>
<g filter="url(#blc_5)"><ellipse cx="396.1" cy="544.6" rx="99.6" ry="8.8" fill="#000" fill-opacity="0.850"/></g>
<g filter="url(#blc_2_5)"><ellipse cx="381.5" cy="608.8" rx="13.2" ry="4.4" fill="#000" fill-opacity="1.000"/><ellipse cx="375.6" cy="631.3" rx="24.9" ry="3.2" fill="#000" fill-opacity="0.900"/></g>
<g filter="url(#blc_4)"><ellipse cx="371.2" cy="646" rx="11.7" ry="7.6" fill="#fff" fill-opacity="0.100"/></g>
<g filter="url(#blc_7)"><ellipse cx="337.6" cy="513.6" rx="96.7" ry="8.2" fill="#fff" fill-opacity="0.100"/></g>
<g clip-path="url(#dinc)"><rect x="0.7" y="500.2" width="410.1" height="256.7" fill="url(#gc_1)" opacity="1.0"/></g>
<g clip-path="url(#dinc)"><g filter="url(#blc_2)"><ellipse cx="44.6" cy="632" rx="2.6" ry="2.9" fill="#000" fill-opacity="0.600"/><ellipse cx="57.9" cy="630.8" rx="2.5" ry="2.7" fill="#000" fill-opacity="0.600"/><ellipse cx="72.2" cy="630.1" rx="4.2" ry="3.7" fill="#000" fill-opacity="0.600"/><ellipse cx="90.8" cy="634.5" rx="3.7" ry="3.8" fill="#000" fill-opacity="0.600"/><ellipse cx="120.9" cy="629" rx="2.8" ry="2.4" fill="#000" fill-opacity="0.600"/><ellipse cx="134.6" cy="628" rx="3.7" ry="4.4" fill="#000" fill-opacity="0.600"/><ellipse cx="146.4" cy="627.1" rx="2.6" ry="2.4" fill="#000" fill-opacity="0.600"/><ellipse cx="159.4" cy="629.2" rx="3.7" ry="4" fill="#000" fill-opacity="0.600"/><ellipse cx="176.6" cy="632.4" rx="3" ry="3.4" fill="#000" fill-opacity="0.600"/><ellipse cx="191.3" cy="632.7" rx="3.1" ry="4.3" fill="#000" fill-opacity="0.600"/><ellipse cx="201.5" cy="632.9" rx="2.8" ry="3" fill="#000" fill-opacity="0.600"/><ellipse cx="217.7" cy="633" rx="3.7" ry="4.9" fill="#000" fill-opacity="0.600"/><ellipse cx="232" cy="631.5" rx="3.7" ry="4" fill="#000" fill-opacity="0.600"/><ellipse cx="273.9" cy="627" rx="3.9" ry="4.7" fill="#000" fill-opacity="0.600"/><ellipse cx="313.7" cy="632.2" rx="2.5" ry="2.7" fill="#000" fill-opacity="0.600"/><ellipse cx="325.5" cy="627" rx="4.1" ry="3.6" fill="#000" fill-opacity="0.600"/><ellipse cx="341.9" cy="633.9" rx="2.6" ry="2.8" fill="#000" fill-opacity="0.600"/><ellipse cx="360.1" cy="633.4" rx="4.3" ry="4.1" fill="#000" fill-opacity="0.600"/><ellipse cx="53.4" cy="645.2" rx="4.5" ry="4" fill="#000" fill-opacity="0.600"/><ellipse cx="66.4" cy="639.7" rx="3.5" ry="4" fill="#000" fill-opacity="0.600"/><ellipse cx="78.5" cy="641.3" rx="3.2" ry="3.7" fill="#000" fill-opacity="0.600"/><ellipse cx="111" cy="643" rx="3.9" ry="3.2" fill="#000" fill-opacity="0.600"/><ellipse cx="142.1" cy="644.5" rx="3.3" ry="3.4" fill="#000" fill-opacity="0.600"/><ellipse cx="154.2" cy="638.3" rx="2.6" ry="2.4" fill="#000" fill-opacity="0.600"/><ellipse cx="165.7" cy="638.2" rx="2.5" ry="2.2" fill="#000" fill-opacity="0.600"/><ellipse cx="180" cy="638" rx="4.3" ry="5" fill="#000" fill-opacity="0.600"/><ellipse cx="193.1" cy="640.7" rx="3.2" ry="2.8" fill="#000" fill-opacity="0.600"/><ellipse cx="237.2" cy="638.5" rx="2.7" ry="2.7" fill="#000" fill-opacity="0.600"/><ellipse cx="254.2" cy="639.1" rx="2.5" ry="3.4" fill="#000" fill-opacity="0.600"/><ellipse cx="262.5" cy="642.4" rx="2.5" ry="2.8" fill="#000" fill-opacity="0.600"/><ellipse cx="305.7" cy="640.9" rx="2.8" ry="3.6" fill="#000" fill-opacity="0.600"/><ellipse cx="324.1" cy="640.6" rx="2.9" ry="3.8" fill="#000" fill-opacity="0.600"/><ellipse cx="59.3" cy="653.4" rx="3.2" ry="2.6" fill="#000" fill-opacity="0.600"/><ellipse cx="73.8" cy="651.2" rx="3.9" ry="5.4" fill="#000" fill-opacity="0.600"/><ellipse cx="93.4" cy="657.4" rx="4.5" ry="4.6" fill="#000" fill-opacity="0.600"/><ellipse cx="101.5" cy="650.7" rx="2.9" ry="3.4" fill="#000" fill-opacity="0.600"/><ellipse cx="147.3" cy="655.8" rx="2.6" ry="3.2" fill="#000" fill-opacity="0.600"/><ellipse cx="176.2" cy="653" rx="2.8" ry="3.6" fill="#000" fill-opacity="0.600"/><ellipse cx="190.7" cy="657.2" rx="3.3" ry="3.4" fill="#000" fill-opacity="0.600"/><ellipse cx="213.5" cy="650.1" rx="2.8" ry="3.7" fill="#000" fill-opacity="0.600"/><ellipse cx="247.2" cy="657.3" rx="3.8" ry="3.9" fill="#000" fill-opacity="0.600"/><ellipse cx="255.4" cy="649.1" rx="4.5" ry="5.4" fill="#000" fill-opacity="0.600"/><ellipse cx="276.2" cy="652.7" rx="4.3" ry="5.6" fill="#000" fill-opacity="0.600"/><ellipse cx="284.5" cy="651.5" rx="3" ry="3.4" fill="#000" fill-opacity="0.600"/><ellipse cx="300" cy="650.1" rx="4.4" ry="4.4" fill="#000" fill-opacity="0.600"/><ellipse cx="315.4" cy="656.6" rx="3.3" ry="4.5" fill="#000" fill-opacity="0.600"/><ellipse cx="329" cy="653.4" rx="2.5" ry="2.7" fill="#000" fill-opacity="0.600"/><ellipse cx="338.6" cy="655.8" rx="2.8" ry="3.1" fill="#000" fill-opacity="0.600"/><ellipse cx="357.4" cy="651.8" rx="3.6" ry="4" fill="#000" fill-opacity="0.600"/><ellipse cx="51.3" cy="665" rx="3" ry="2.9" fill="#000" fill-opacity="0.600"/><ellipse cx="68.7" cy="665" rx="4.1" ry="5.5" fill="#000" fill-opacity="0.600"/><ellipse cx="83.7" cy="664.5" rx="3.5" ry="4.3" fill="#000" fill-opacity="0.600"/><ellipse cx="97.1" cy="664.3" rx="4.4" ry="5.4" fill="#000" fill-opacity="0.600"/><ellipse cx="139.5" cy="668.2" rx="4.2" ry="3.7" fill="#000" fill-opacity="0.600"/><ellipse cx="152.5" cy="660.9" rx="3" ry="2.5" fill="#000" fill-opacity="0.600"/><ellipse cx="169.5" cy="667.8" rx="2.8" ry="3.4" fill="#000" fill-opacity="0.600"/><ellipse cx="178.1" cy="667.7" rx="4.5" ry="4.2" fill="#000" fill-opacity="0.600"/><ellipse cx="209.2" cy="668.6" rx="4.2" ry="3.8" fill="#000" fill-opacity="0.600"/><ellipse cx="223.5" cy="663.1" rx="2.9" ry="2.8" fill="#000" fill-opacity="0.600"/><ellipse cx="233.3" cy="664.9" rx="3.4" ry="2.7" fill="#000" fill-opacity="0.600"/><ellipse cx="252.5" cy="664.6" rx="2.6" ry="3.6" fill="#000" fill-opacity="0.600"/><ellipse cx="269.5" cy="661.1" rx="3" ry="2.5" fill="#000" fill-opacity="0.600"/><ellipse cx="277.6" cy="661.4" rx="3.4" ry="4.5" fill="#000" fill-opacity="0.600"/><ellipse cx="304.7" cy="668" rx="3.7" ry="4.5" fill="#000" fill-opacity="0.600"/><ellipse cx="318" cy="666.1" rx="3.4" ry="2.8" fill="#000" fill-opacity="0.600"/><ellipse cx="352.4" cy="661" rx="4.3" ry="3.6" fill="#000" fill-opacity="0.600"/><ellipse cx="46.2" cy="676.2" rx="4.4" ry="4.2" fill="#000" fill-opacity="0.600"/><ellipse cx="61.9" cy="673.5" rx="2.7" ry="2.4" fill="#000" fill-opacity="0.600"/><ellipse cx="73.2" cy="674.1" rx="3.1" ry="3.9" fill="#000" fill-opacity="0.600"/><ellipse cx="89.8" cy="673" rx="3.2" ry="2.6" fill="#000" fill-opacity="0.600"/><ellipse cx="99.7" cy="677.7" rx="3.6" ry="3.3" fill="#000" fill-opacity="0.600"/><ellipse cx="121.5" cy="672.4" rx="4.2" ry="4.4" fill="#000" fill-opacity="0.600"/><ellipse cx="134.8" cy="674.8" rx="3.5" ry="4.3" fill="#000" fill-opacity="0.600"/><ellipse cx="162.9" cy="677.5" rx="3.8" ry="4" fill="#000" fill-opacity="0.600"/><ellipse cx="170.4" cy="672.6" rx="2.6" ry="3.2" fill="#000" fill-opacity="0.600"/><ellipse cx="185.3" cy="672.2" rx="4.2" ry="5.6" fill="#000" fill-opacity="0.600"/><ellipse cx="200.4" cy="673.6" rx="3.1" ry="3.3" fill="#000" fill-opacity="0.600"/><ellipse cx="215.8" cy="673.7" rx="4.5" ry="6.2" fill="#000" fill-opacity="0.600"/><ellipse cx="228.2" cy="679.7" rx="3.1" ry="3.2" fill="#000" fill-opacity="0.600"/><ellipse cx="243.4" cy="675.5" rx="3.5" ry="3.2" fill="#000" fill-opacity="0.600"/><ellipse cx="254.3" cy="673.7" rx="2.6" ry="2.8" fill="#000" fill-opacity="0.600"/><ellipse cx="268.5" cy="674.1" rx="3" ry="3.4" fill="#000" fill-opacity="0.600"/><ellipse cx="288.7" cy="677.1" rx="4" ry="5.3" fill="#000" fill-opacity="0.600"/><ellipse cx="299.2" cy="679.8" rx="2.8" ry="3.4" fill="#000" fill-opacity="0.600"/><ellipse cx="310.9" cy="678.6" rx="4.3" ry="5.1" fill="#000" fill-opacity="0.600"/><ellipse cx="331.4" cy="672.7" rx="3.6" ry="3.9" fill="#000" fill-opacity="0.600"/><ellipse cx="72" cy="688.5" rx="3.9" ry="3.7" fill="#000" fill-opacity="0.600"/><ellipse cx="79.6" cy="685.8" rx="2.7" ry="3.5" fill="#000" fill-opacity="0.600"/><ellipse cx="97.9" cy="688" rx="3.9" ry="4.3" fill="#000" fill-opacity="0.600"/><ellipse cx="113.4" cy="689.1" rx="3.5" ry="3.9" fill="#000" fill-opacity="0.600"/><ellipse cx="121.2" cy="689" rx="3" ry="2.5" fill="#000" fill-opacity="0.600"/><ellipse cx="140.9" cy="684.5" rx="4" ry="5.6" fill="#000" fill-opacity="0.600"/><ellipse cx="152" cy="686.8" rx="3.9" ry="4.9" fill="#000" fill-opacity="0.600"/><ellipse cx="168.3" cy="683.4" rx="2.8" ry="2.6" fill="#000" fill-opacity="0.600"/><ellipse cx="179.5" cy="687.5" rx="2.5" ry="2.1" fill="#000" fill-opacity="0.600"/><ellipse cx="196.7" cy="688.6" rx="3.9" ry="3.8" fill="#000" fill-opacity="0.600"/><ellipse cx="209" cy="686.7" rx="2.7" ry="3.6" fill="#000" fill-opacity="0.600"/><ellipse cx="227.4" cy="690.7" rx="2.5" ry="2.7" fill="#000" fill-opacity="0.600"/><ellipse cx="263.5" cy="684.5" rx="4.5" ry="4.1" fill="#000" fill-opacity="0.600"/><ellipse cx="276.5" cy="687.2" rx="4.5" ry="3.9" fill="#000" fill-opacity="0.600"/><ellipse cx="310.9" cy="688.7" rx="2.9" ry="3.9" fill="#000" fill-opacity="0.600"/><ellipse cx="317.7" cy="682.8" rx="3.5" ry="3.7" fill="#000" fill-opacity="0.600"/><ellipse cx="332.8" cy="685.7" rx="3.1" ry="4.1" fill="#000" fill-opacity="0.600"/><ellipse cx="352" cy="689.8" rx="2.7" ry="3.7" fill="#000" fill-opacity="0.600"/><ellipse cx="367.3" cy="685.2" rx="3.2" ry="3.4" fill="#000" fill-opacity="0.600"/><ellipse cx="60.5" cy="697.6" rx="3" ry="2.5" fill="#000" fill-opacity="0.600"/><ellipse cx="78.5" cy="696.4" rx="4.4" ry="4.2" fill="#000" fill-opacity="0.600"/><ellipse cx="89.8" cy="695.6" rx="3.2" ry="4.5" fill="#000" fill-opacity="0.600"/><ellipse cx="135.4" cy="701.9" rx="3.6" ry="4.5" fill="#000" fill-opacity="0.600"/><ellipse cx="148" cy="697.8" rx="4" ry="4.8" fill="#000" fill-opacity="0.600"/><ellipse cx="156.2" cy="701.8" rx="2.7" ry="3" fill="#000" fill-opacity="0.600"/><ellipse cx="172.4" cy="700.2" rx="4.5" ry="4.3" fill="#000" fill-opacity="0.600"/><ellipse cx="186.5" cy="698.7" rx="3.3" ry="3" fill="#000" fill-opacity="0.600"/><ellipse cx="199.8" cy="701.7" rx="3.5" ry="3.3" fill="#000" fill-opacity="0.600"/><ellipse cx="241.4" cy="695.6" rx="2.7" ry="2.7" fill="#000" fill-opacity="0.600"/><ellipse cx="256.3" cy="696.2" rx="3.7" ry="4.9" fill="#000" fill-opacity="0.600"/><ellipse cx="271.8" cy="697.5" rx="3.6" ry="3.7" fill="#000" fill-opacity="0.600"/><ellipse cx="282.9" cy="696.3" rx="4.5" ry="3.9" fill="#000" fill-opacity="0.600"/><ellipse cx="301.7" cy="701.3" rx="2.9" ry="2.8" fill="#000" fill-opacity="0.600"/><ellipse cx="313.9" cy="697.8" rx="4.5" ry="5.9" fill="#000" fill-opacity="0.600"/><ellipse cx="338.9" cy="700" rx="4.3" ry="4.7" fill="#000" fill-opacity="0.600"/><ellipse cx="352.7" cy="697.3" rx="4.4" ry="5.7" fill="#000" fill-opacity="0.600"/><ellipse cx="79.4" cy="706.6" rx="3.6" ry="4.3" fill="#000" fill-opacity="0.600"/><ellipse cx="112.1" cy="711.7" rx="3.4" ry="3.9" fill="#000" fill-opacity="0.600"/><ellipse cx="127.3" cy="707.2" rx="4.4" ry="5.2" fill="#000" fill-opacity="0.600"/><ellipse cx="135.8" cy="707.4" rx="3.8" ry="4.6" fill="#000" fill-opacity="0.600"/><ellipse cx="149.4" cy="709.7" rx="3.7" ry="3.8" fill="#000" fill-opacity="0.600"/><ellipse cx="167.9" cy="705.3" rx="3.1" ry="3.3" fill="#000" fill-opacity="0.600"/><ellipse cx="198.4" cy="709.3" rx="3" ry="2.8" fill="#000" fill-opacity="0.600"/><ellipse cx="221.7" cy="705.4" rx="3.5" ry="4.2" fill="#000" fill-opacity="0.600"/><ellipse cx="235.3" cy="710.9" rx="4.4" ry="4.1" fill="#000" fill-opacity="0.600"/><ellipse cx="250.1" cy="708.8" rx="3.9" ry="3.6" fill="#000" fill-opacity="0.600"/><ellipse cx="267.5" cy="709.5" rx="2.9" ry="4" fill="#000" fill-opacity="0.600"/><ellipse cx="282.3" cy="707.2" rx="2.9" ry="3.7" fill="#000" fill-opacity="0.600"/><ellipse cx="297.4" cy="709.4" rx="2.9" ry="2.7" fill="#000" fill-opacity="0.600"/><ellipse cx="309.1" cy="713.3" rx="2.8" ry="2.9" fill="#000" fill-opacity="0.600"/><ellipse cx="325.7" cy="706.5" rx="2.6" ry="2.1" fill="#000" fill-opacity="0.600"/><ellipse cx="339.2" cy="712.7" rx="4" ry="5.6" fill="#000" fill-opacity="0.600"/><ellipse cx="361.3" cy="713.2" rx="4" ry="3.3" fill="#000" fill-opacity="0.600"/></g></g>
<g clip-path="url(#dinc)"><g filter="url(#blc_3)"><ellipse cx="51.3" cy="627.6" rx="6.1" ry="4.9" fill="#fff" fill-opacity="0.072"/><ellipse cx="87.9" cy="626.7" rx="5.1" ry="6" fill="#fff" fill-opacity="0.072"/><ellipse cx="107.1" cy="637.1" rx="4.8" ry="6" fill="#fff" fill-opacity="0.072"/><ellipse cx="132.5" cy="627.2" rx="5" ry="6.8" fill="#fff" fill-opacity="0.072"/><ellipse cx="169.3" cy="631.7" rx="5.7" ry="4.9" fill="#fff" fill-opacity="0.072"/><ellipse cx="195.5" cy="637.4" rx="4.7" ry="4" fill="#fff" fill-opacity="0.072"/><ellipse cx="215.5" cy="630" rx="5.9" ry="5.4" fill="#fff" fill-opacity="0.072"/><ellipse cx="301.8" cy="633.5" rx="3.6" ry="3.8" fill="#fff" fill-opacity="0.072"/><ellipse cx="361.1" cy="627.3" rx="5.2" ry="7" fill="#fff" fill-opacity="0.072"/><ellipse cx="59.1" cy="649" rx="5.1" ry="4.1" fill="#fff" fill-opacity="0.072"/><ellipse cx="95.1" cy="663" rx="4.7" ry="4.9" fill="#fff" fill-opacity="0.072"/><ellipse cx="116.2" cy="657.3" rx="4" ry="4.7" fill="#fff" fill-opacity="0.072"/><ellipse cx="179.6" cy="657.7" rx="3.9" ry="3.8" fill="#fff" fill-opacity="0.072"/><ellipse cx="265.6" cy="663.5" rx="4.2" ry="4.9" fill="#fff" fill-opacity="0.072"/><ellipse cx="287.7" cy="658.8" rx="5.2" ry="6.6" fill="#fff" fill-opacity="0.072"/><ellipse cx="315.2" cy="662" rx="5.2" ry="5.6" fill="#fff" fill-opacity="0.072"/><ellipse cx="353.7" cy="657.2" rx="3.5" ry="4.5" fill="#fff" fill-opacity="0.072"/><ellipse cx="52.3" cy="673.4" rx="4.8" ry="4.8" fill="#fff" fill-opacity="0.072"/><ellipse cx="83.4" cy="671.6" rx="5.8" ry="4.8" fill="#fff" fill-opacity="0.072"/><ellipse cx="114.2" cy="678.1" rx="5.6" ry="5.3" fill="#fff" fill-opacity="0.072"/><ellipse cx="135.7" cy="673.7" rx="6.4" ry="6.6" fill="#fff" fill-opacity="0.072"/><ellipse cx="170.7" cy="676" rx="5.5" ry="4.9" fill="#fff" fill-opacity="0.072"/><ellipse cx="212.9" cy="686.1" rx="4" ry="5.5" fill="#fff" fill-opacity="0.072"/><ellipse cx="267.9" cy="670.9" rx="4.1" ry="4.2" fill="#fff" fill-opacity="0.072"/><ellipse cx="311.7" cy="675.8" rx="3.9" ry="4.4" fill="#fff" fill-opacity="0.072"/><ellipse cx="324.8" cy="679.1" rx="5.6" ry="4.7" fill="#fff" fill-opacity="0.072"/><ellipse cx="362.9" cy="682.6" rx="4.6" ry="6.2" fill="#fff" fill-opacity="0.072"/><ellipse cx="70.9" cy="705" rx="6.1" ry="6.7" fill="#fff" fill-opacity="0.072"/><ellipse cx="87.6" cy="700.9" rx="4" ry="4.7" fill="#fff" fill-opacity="0.072"/><ellipse cx="127.7" cy="695.8" rx="3.5" ry="3.2" fill="#fff" fill-opacity="0.072"/><ellipse cx="151.8" cy="698.6" rx="4" ry="4.4" fill="#fff" fill-opacity="0.072"/><ellipse cx="213.8" cy="692.6" rx="6.5" ry="8.6" fill="#fff" fill-opacity="0.072"/><ellipse cx="234.7" cy="701.1" rx="6.2" ry="5.2" fill="#fff" fill-opacity="0.072"/><ellipse cx="262.8" cy="697.1" rx="5.7" ry="7" fill="#fff" fill-opacity="0.072"/><ellipse cx="293.3" cy="699.7" rx="5" ry="5.9" fill="#fff" fill-opacity="0.072"/><ellipse cx="319.5" cy="698.3" rx="6.1" ry="5.7" fill="#fff" fill-opacity="0.072"/></g></g>
<g clip-path="url(#dinc)"><g filter="url(#blc_2)"><path d="M263.6,564.1 C261.6,563.1 261.6,562.1 266.5,561.6 C271.4,561.1 284.8,560.9 292.8,561.2 C300.9,561.4 307.5,562.3 314.8,563.3 C322.1,564.4 330.7,565.7 336.8,567.7 C342.9,569.8 347,573.4 351.4,575.8 C355.8,578.2 360.7,580.6 363.1,582.4 C365.6,584.2 365.9,585.2 366.1,586.8 C366.2,588.4 365.3,590.2 363.9,591.9 C362.4,593.6 359.8,595.3 357.3,597 C354.7,598.7 350.1,598.7 348.5,602.1 C346.9,605.6 348.7,614.5 347.8,617.7 C346.8,620.9 344.9,620.2 342.6,621.4 C340.3,622.5 336.3,624.5 333.8,624.7 C331.4,625 329.5,624 328,622.8 C326.5,621.7 325.8,619.8 325.1,617.7 C324.3,615.6 326,612.9 323.6,610.4 C321.2,607.9 314.3,605.1 310.4,602.9 C306.5,600.7 303,598.7 300.2,597 C297.4,595.3 293.8,593.7 293.6,592.6 C293.3,591.5 296.4,591.3 298.7,590.4 C301,589.6 304.1,588.6 307.5,587.5 C310.9,586.4 316.3,585.1 319.2,583.8 C322.1,582.6 324.6,581.3 325.1,580.2 C325.5,579.1 325.1,578.2 322.1,577.3 C319.2,576.3 314.8,575.9 307.5,574.3 C300.2,572.7 285.5,569.5 278.2,567.7 C270.9,566 265.5,565.1 263.6,564.1 Z" fill="#fff" fill-opacity="0.889"/><path d="M142.7,615.5 C143,614.1 144,612.9 147.1,612.1 C150.3,611.4 154.5,611.1 161.8,611.1 C169.1,611.2 181.4,612.1 191.1,612.6 C200.7,613.1 212.9,613.6 219.6,614.1 C226.4,614.5 228.8,614.8 231.4,615.5 C233.9,616.2 235.7,617.6 235,618.4 C234.3,619.3 230,619.8 227,620.6 C223.9,621.5 221.5,621.6 216.7,623.6 C211.9,625.5 202.7,630.5 198.4,632.4 C194.1,634.3 193.5,634.7 191.1,635 C188.6,635.2 187.4,634.7 183.7,633.8 C180.1,632.9 174,630.9 169.1,629.4 C164.2,628 158.4,626.5 154.5,625 C150.5,623.6 147.6,622.2 145.7,620.6 C143.7,619.1 142.5,616.9 142.7,615.5 Z" fill="#fff" fill-opacity="0.889"/></g></g>
<g clip-path="url(#dinc)"><g filter="url(#blc_4)"><path d="M323.6,644.8 C323.8,643.3 325.3,641.3 326.5,640.4 C327.7,639.6 329.5,639.2 330.9,639.7 C332.4,640.2 334.5,641.9 335.3,643.3 C336.2,644.8 336.5,647 336,648.5 C335.6,649.9 333.7,651.5 332.4,652.1 C331,652.7 329.2,652.6 328,652.1 C326.8,651.6 325.8,650.4 325.1,649.2 C324.3,648 323.4,646.3 323.6,644.8 Z" fill="#fff" fill-opacity="0.250"/><path d="M247.5,652.9 C247.2,651 248.9,647.8 250.4,646.3 C251.9,644.7 254.2,643.5 256.2,643.3 C258.3,643.2 261.1,644.2 262.8,645.5 C264.5,646.9 266.2,649.6 266.5,651.4 C266.7,653.2 265.6,655.3 264.3,656.5 C263,657.7 260.5,658.6 258.4,658.7 C256.4,658.8 253.7,658.2 251.9,657.2 C250,656.3 247.7,654.7 247.5,652.9 Z" fill="#fff" fill-opacity="0.250"/><path d="M225.5,667.5 C225.7,665.9 227.1,663.4 228.4,662.4 C229.8,661.3 232,661 233.6,661.3 C235.1,661.7 236.7,663.1 237.9,664.6 C239.2,666.1 239.9,668.8 240.9,670.4 C241.8,672 244.2,673.3 243.8,674.1 C243.4,674.8 240.7,674.7 238.7,674.8 C236.6,674.9 233.3,675 231.4,674.5 C229.4,674 227.9,673.1 227,671.9 C226,670.7 225.3,669.1 225.5,667.5 Z" fill="#fff" fill-opacity="0.250"/><path d="M172.8,664.6 C173.3,662.9 173.6,661.1 174.9,660.2 C176.3,659.2 178.6,658.7 180.8,658.7 C183,658.7 186.8,659.2 188.1,660.2 C189.5,661.1 189.1,662.6 188.9,664.6 C188.6,666.5 187.5,669.2 186.7,671.9 C185.8,674.6 184.6,677.9 183.7,680.7 C182.9,683.5 182.4,686.9 181.5,688.7 C180.7,690.6 179.6,691.8 178.6,691.7 C177.6,691.5 176.5,690.1 175.7,688 C174.8,685.9 174.1,682.1 173.5,679.2 C172.8,676.3 171.8,672.9 171.7,670.4 C171.6,668 172.2,666.3 172.8,664.6 Z" fill="#fff" fill-opacity="0.250"/><path d="M142.7,615.5 C143,614.1 144,612.9 147.1,612.1 C150.3,611.4 154.5,611.1 161.8,611.1 C169.1,611.2 181.4,612.1 191.1,612.6 C200.7,613.1 212.9,613.6 219.6,614.1 C226.4,614.5 228.8,614.8 231.4,615.5 C233.9,616.2 235.7,617.6 235,618.4 C234.3,619.3 230,619.8 227,620.6 C223.9,621.5 221.5,621.6 216.7,623.6 C211.9,625.5 202.7,630.5 198.4,632.4 C194.1,634.3 193.5,634.7 191.1,635 C188.6,635.2 187.4,634.7 183.7,633.8 C180.1,632.9 174,630.9 169.1,629.4 C164.2,628 158.4,626.5 154.5,625 C150.5,623.6 147.6,622.2 145.7,620.6 C143.7,619.1 142.5,616.9 142.7,615.5 Z" fill="#fff" fill-opacity="0.250"/></g></g>
<g clip-path="url(#dinc)"><g filter="url(#blc_1_5)"><path d="M323.6,644.8 C323.8,643.3 325.3,641.3 326.5,640.4 C327.7,639.6 329.5,639.2 330.9,639.7 C332.4,640.2 334.5,641.9 335.3,643.3 C336.2,644.8 336.5,647 336,648.5 C335.6,649.9 333.7,651.5 332.4,652.1 C331,652.7 329.2,652.6 328,652.1 C326.8,651.6 325.8,650.4 325.1,649.2 C324.3,648 323.4,646.3 323.6,644.8 Z" fill="#fff" fill-opacity="0.889"/><path d="M247.5,652.9 C247.2,651 248.9,647.8 250.4,646.3 C251.9,644.7 254.2,643.5 256.2,643.3 C258.3,643.2 261.1,644.2 262.8,645.5 C264.5,646.9 266.2,649.6 266.5,651.4 C266.7,653.2 265.6,655.3 264.3,656.5 C263,657.7 260.5,658.6 258.4,658.7 C256.4,658.8 253.7,658.2 251.9,657.2 C250,656.3 247.7,654.7 247.5,652.9 Z" fill="#fff" fill-opacity="0.889"/><path d="M225.5,667.5 C225.7,665.9 227.1,663.4 228.4,662.4 C229.8,661.3 232,661 233.6,661.3 C235.1,661.7 236.7,663.1 237.9,664.6 C239.2,666.1 239.9,668.8 240.9,670.4 C241.8,672 244.2,673.3 243.8,674.1 C243.4,674.8 240.7,674.7 238.7,674.8 C236.6,674.9 233.3,675 231.4,674.5 C229.4,674 227.9,673.1 227,671.9 C226,670.7 225.3,669.1 225.5,667.5 Z" fill="#fff" fill-opacity="0.889"/><path d="M244.2,676.7 C244.4,676.1 245.8,675.1 246.7,675.1 C247.7,675.1 249.7,675.9 250.1,676.6 C250.5,677.3 249.6,678.8 248.9,679.2 C248.2,679.6 246.8,679.3 246,678.9 C245.2,678.5 244.1,677.4 244.2,676.7 Z" fill="#fff" fill-opacity="0.889"/><path d="M172.8,664.6 C173.3,662.9 173.6,661.1 174.9,660.2 C176.3,659.2 178.6,658.7 180.8,658.7 C183,658.7 186.8,659.2 188.1,660.2 C189.5,661.1 189.1,662.6 188.9,664.6 C188.6,666.5 187.5,669.2 186.7,671.9 C185.8,674.6 184.6,677.9 183.7,680.7 C182.9,683.5 182.4,686.9 181.5,688.7 C180.7,690.6 179.6,691.8 178.6,691.7 C177.6,691.5 176.5,690.1 175.7,688 C174.8,685.9 174.1,682.1 173.5,679.2 C172.8,676.3 171.8,672.9 171.7,670.4 C171.6,668 172.2,666.3 172.8,664.6 Z" fill="#fff" fill-opacity="0.889"/></g></g>
<g clip-path="url(#dinc)"><g filter="url(#blc_2)"><path d="M142.7,615.5 C143,614.1 144,612.9 147.1,612.1 C150.3,611.4 154.5,611.1 161.8,611.1 C169.1,611.2 181.4,612.1 191.1,612.6 C200.7,613.1 212.9,613.6 219.6,614.1 C226.4,614.5 228.8,614.8 231.4,615.5 C233.9,616.2 235.7,617.6 235,618.4 C234.3,619.3 230,619.8 227,620.6 C223.9,621.5 221.5,621.6 216.7,623.6 C211.9,625.5 202.7,630.5 198.4,632.4 C194.1,634.3 193.5,634.7 191.1,635 C188.6,635.2 187.4,634.7 183.7,633.8 C180.1,632.9 174,630.9 169.1,629.4 C164.2,628 158.4,626.5 154.5,625 C150.5,623.6 147.6,622.2 145.7,620.6 C143.7,619.1 142.5,616.9 142.7,615.5 Z" fill="#fff" fill-opacity="0.889"/><ellipse cx="178.2" cy="700.2" rx="0.9" ry="7.3" fill="#fff" fill-opacity="0.222"/></g></g>
<g clip-path="url(#dinc)"><g filter="url(#blc_1_5)"><ellipse cx="229.2" cy="699.7" rx="0.7" ry="5.9" fill="#fff" fill-opacity="0.278"/></g></g>
<path d="M41,766.3 L41,771.3 L41,771.3 L41.1,771.3 L41.3,771.3 L41.5,750.4 L41.8,739.2 L42.2,730 L42.6,722.2 L43.1,715.4 L43.6,709.2 L44.2,703.6 L44.9,698.6 L45.6,694.3 L46.4,690.4 L47.3,686.8 L48.2,683.4 L49.2,680.3 L50.3,676.6 L51.4,672.6 L52.5,668.9 L53.8,665.3 L55.1,661.9 L56.4,658.7 L57.8,655.3 L59.3,652 L60.8,648.8 L62.4,645.8 L64,642.9 L65.7,640.1 L67.5,637.2 L69.3,634.3 L71.1,631.6 L73,629 L75,626.4 L77,624 L79.1,621.6 L81.2,619.3 L83.4,616.9 L85.6,614.5 L87.8,612.3 L90.1,610.1 L92.5,607.9 L94.9,605.8 L97.3,603.8 L99.8,601.8 L102.3,599.9 L104.9,598 L107.5,596.1 L110.1,594.2 L112.8,592.4 L115.6,590.6 L118.3,588.9 L121.1,587.2 L123.9,585.5 L126.8,583.9 L129.7,582.3 L132.6,580.8 L135.5,579.2 L138.5,577.7 L141.5,576.3 L144.6,574.8 L147.6,573.4 L150.7,572.1 L153.8,570.7 L156.9,569.4 L160.1,568.1 L163.2,566.9 L166.4,565.7 L169.6,564.4 L172.8,563.2 L176,562.1 L179.3,560.9 L182.5,559.7 L185.8,558.6 L189,557.5 L192.3,556.4 L195.6,555.3 L198.9,554.3 L202.2,553.3 L205.5,552.3 L208.7,551.3 L212,552.3 L215.3,553.3 L218.6,554.3 L221.9,555.3 L225.2,556.4 L228.5,557.5 L231.7,558.6 L235,559.7 L238.2,560.9 L241.5,562.1 L244.7,563.2 L247.9,564.4 L251.1,565.7 L254.3,566.9 L257.4,568.1 L260.6,569.4 L263.7,570.7 L266.8,572.1 L269.9,573.4 L272.9,574.8 L276,576.3 L279,577.7 L282,579.2 L284.9,580.8 L287.8,582.3 L290.7,583.9 L293.6,585.5 L296.4,587.2 L299.2,588.9 L301.9,590.6 L304.7,592.4 L307.4,594.2 L310,596.1 L312.6,598 L315.2,599.9 L317.7,601.8 L320.2,603.8 L322.6,605.8 L325,607.9 L327.4,610.1 L329.7,612.3 L331.9,614.5 L334.1,616.9 L336.3,619.3 L338.4,621.6 L340.5,624 L342.5,626.4 L344.5,629 L346.4,631.6 L348.2,634.3 L350,637.2 L351.8,640.1 L353.5,642.9 L355.1,645.8 L356.7,648.8 L358.2,652 L359.7,655.3 L361.1,658.7 L362.4,661.9 L363.7,665.3 L365,668.9 L366.1,672.6 L367.2,676.6 L368.3,680.3 L369.3,683.4 L370.2,686.8 L371.1,690.4 L371.9,694.3 L372.6,698.6 L373.3,703.6 L373.9,709.2 L374.4,715.4 L374.9,722.2 L375.3,730 L375.7,739.2 L376,750.4 L376.2,771.3 L376.4,771.3 L376.5,771.3 L376.5,771.3 L376.5,766.3 Z" fill="#000" fill-opacity="0.55"/>
</g>
<path d="M263.6,564.1 C261.6,563.1 261.6,562.1 266.5,561.6 C271.4,561.1 284.8,560.9 292.8,561.2 C300.9,561.4 307.5,562.3 314.8,563.3 C322.1,564.4 330.7,565.7 336.8,567.7 C342.9,569.8 347,573.4 351.4,575.8 C355.8,578.2 360.7,580.6 363.1,582.4 C365.6,584.2 365.9,585.2 366.1,586.8 C366.2,588.4 365.3,590.2 363.9,591.9 C362.4,593.6 359.8,595.3 357.3,597 C354.7,598.7 350.1,598.7 348.5,602.1 C346.9,605.6 348.7,614.5 347.8,617.7 C346.8,620.9 344.9,620.2 342.6,621.4 C340.3,622.5 336.3,624.5 333.8,624.7 C331.4,625 329.5,624 328,622.8 C326.5,621.7 325.8,619.8 325.1,617.7 C324.3,615.6 326,612.9 323.6,610.4 C321.2,607.9 314.3,605.1 310.4,602.9 C306.5,600.7 303,598.7 300.2,597 C297.4,595.3 293.8,593.7 293.6,592.6 C293.3,591.5 296.4,591.3 298.7,590.4 C301,589.6 304.1,588.6 307.5,587.5 C310.9,586.4 316.3,585.1 319.2,583.8 C322.1,582.6 324.6,581.3 325.1,580.2 C325.5,579.1 325.1,578.2 322.1,577.3 C319.2,576.3 314.8,575.9 307.5,574.3 C300.2,572.7 285.5,569.5 278.2,567.7 C270.9,566 265.5,565.1 263.6,564.1 Z" fill="none" stroke="#e9823f" stroke-width="1.3" stroke-linejoin="round"/>
<path d="M142.7,615.5 C143,614.1 144,612.9 147.1,612.1 C150.3,611.4 154.5,611.1 161.8,611.1 C169.1,611.2 181.4,612.1 191.1,612.6 C200.7,613.1 212.9,613.6 219.6,614.1 C226.4,614.5 228.8,614.8 231.4,615.5 C233.9,616.2 235.7,617.6 235,618.4 C234.3,619.3 230,619.8 227,620.6 C223.9,621.5 221.5,621.6 216.7,623.6 C211.9,625.5 202.7,630.5 198.4,632.4 C194.1,634.3 193.5,634.7 191.1,635 C188.6,635.2 187.4,634.7 183.7,633.8 C180.1,632.9 174,630.9 169.1,629.4 C164.2,628 158.4,626.5 154.5,625 C150.5,623.6 147.6,622.2 145.7,620.6 C143.7,619.1 142.5,616.9 142.7,615.5 Z" fill="none" stroke="#e9823f" stroke-width="1.3" stroke-linejoin="round"/>
<path d="M323.6,644.8 C323.8,643.3 325.3,641.3 326.5,640.4 C327.7,639.6 329.5,639.2 330.9,639.7 C332.4,640.2 334.5,641.9 335.3,643.3 C336.2,644.8 336.5,647 336,648.5 C335.6,649.9 333.7,651.5 332.4,652.1 C331,652.7 329.2,652.6 328,652.1 C326.8,651.6 325.8,650.4 325.1,649.2 C324.3,648 323.4,646.3 323.6,644.8 Z" fill="none" stroke="#e9823f" stroke-width="1.3" stroke-linejoin="round"/>
<path d="M247.5,652.9 C247.2,651 248.9,647.8 250.4,646.3 C251.9,644.7 254.2,643.5 256.2,643.3 C258.3,643.2 261.1,644.2 262.8,645.5 C264.5,646.9 266.2,649.6 266.5,651.4 C266.7,653.2 265.6,655.3 264.3,656.5 C263,657.7 260.5,658.6 258.4,658.7 C256.4,658.8 253.7,658.2 251.9,657.2 C250,656.3 247.7,654.7 247.5,652.9 Z" fill="none" stroke="#e9823f" stroke-width="1.3" stroke-linejoin="round"/>
<path d="M225.5,667.5 C225.7,665.9 227.1,663.4 228.4,662.4 C229.8,661.3 232,661 233.6,661.3 C235.1,661.7 236.7,663.1 237.9,664.6 C239.2,666.1 239.9,668.8 240.9,670.4 C241.8,672 244.2,673.3 243.8,674.1 C243.4,674.8 240.7,674.7 238.7,674.8 C236.6,674.9 233.3,675 231.4,674.5 C229.4,674 227.9,673.1 227,671.9 C226,670.7 225.3,669.1 225.5,667.5 Z" fill="none" stroke="#e9823f" stroke-width="1.3" stroke-linejoin="round"/>
<path d="M172.8,664.6 C173.3,662.9 173.6,661.1 174.9,660.2 C176.3,659.2 178.6,658.7 180.8,658.7 C183,658.7 186.8,659.2 188.1,660.2 C189.5,661.1 189.1,662.6 188.9,664.6 C188.6,666.5 187.5,669.2 186.7,671.9 C185.8,674.6 184.6,677.9 183.7,680.7 C182.9,683.5 182.4,686.9 181.5,688.7 C180.7,690.6 179.6,691.8 178.6,691.7 C177.6,691.5 176.5,690.1 175.7,688 C174.8,685.9 174.1,682.1 173.5,679.2 C172.8,676.3 171.8,672.9 171.7,670.4 C171.6,668 172.2,666.3 172.8,664.6 Z" fill="none" stroke="#e9823f" stroke-width="1.3" stroke-linejoin="round"/>
<path d="M244.2,676.7 C244.4,676.1 245.8,675.1 246.7,675.1 C247.7,675.1 249.7,675.9 250.1,676.6 C250.5,677.3 249.6,678.8 248.9,679.2 C248.2,679.6 246.8,679.3 246,678.9 C245.2,678.5 244.1,677.4 244.2,676.7 Z" fill="none" stroke="#e9823f" stroke-width="1.0" stroke-linejoin="round"/>
<path d="M160.3,619.2 C160.3,618.2 160.8,617.3 164.7,617 C168.6,616.7 178.1,617.2 183.7,617.4 C189.3,617.7 195.4,617.9 198.4,618.4 C201.3,619 201.3,619.7 201.3,620.6 C201.3,621.6 200.6,623.1 198.4,624.3 C196.2,625.5 191.8,627.6 188.1,628 C184.5,628.3 180.3,627.4 176.4,626.5 C172.5,625.6 167.4,624.1 164.7,622.8 C162,621.6 160.3,620.2 160.3,619.2 Z" fill="none" stroke="#f4b47c" stroke-width="1.1" stroke-linejoin="round"/>
<path d="M177.9,667.5 C178.1,667.6 179.1,667 179.3,668.2 C179.5,669.4 179.3,673.5 179,674.8 C178.8,676.2 177.8,676 177.6,676.3" fill="none" stroke="#f4b47c" stroke-width="0.9" stroke-linejoin="round"/>
</g>
<clipPath id="clipd"><rect x="650" y="506" width="336" height="201"/></clipPath>
<clipPath id="dind"><path d="M650,767 L650,772.5 L650,772.5 L650.1,772.5 L650.3,772.5 L650.5,751.6 L650.8,740.4 L651.2,731.2 L651.6,723.4 L652.1,716.6 L652.6,710.4 L653.2,704.8 L653.9,699.8 L654.6,695.5 L655.4,691.6 L656.3,688 L657.2,684.6 L658.2,681.5 L659.3,677.8 L660.4,673.8 L661.6,670.1 L662.8,666.5 L664.1,663.1 L665.4,659.9 L666.8,656.5 L668.3,653.2 L669.8,650 L671.4,647 L673.1,644.1 L674.8,641.3 L676.5,638.4 L678.3,635.5 L680.2,632.8 L682.1,630.2 L684.1,627.6 L686.1,625.2 L688.1,622.8 L690.3,620.5 L692.4,618.1 L694.6,615.7 L696.9,613.5 L699.2,611.3 L701.6,609.1 L704,607 L706.4,605 L708.9,603 L711.4,601.1 L714,599.2 L716.6,597.3 L719.3,595.4 L721.9,593.6 L724.7,591.8 L727.4,590.1 L730.2,588.4 L733,586.7 L735.9,585.1 L738.8,583.5 L741.7,582 L744.7,580.4 L747.7,578.9 L750.7,577.5 L753.7,576 L756.8,574.6 L759.9,573.3 L763,571.9 L766.1,570.6 L769.2,569.3 L772.4,568.1 L775.6,566.9 L778.8,565.6 L782,564.4 L785.2,563.3 L788.5,562.1 L791.7,560.9 L795,559.8 L798.3,558.7 L801.5,557.6 L804.8,556.5 L808.1,555.5 L811.4,554.5 L814.7,553.5 L818,552.5 L821.3,553.5 L824.6,554.5 L827.9,555.5 L831.2,556.5 L834.5,557.6 L837.7,558.7 L841,559.8 L844.3,560.9 L847.5,562.1 L850.8,563.3 L854,564.4 L857.2,565.6 L860.4,566.9 L863.6,568.1 L866.8,569.3 L869.9,570.6 L873,571.9 L876.1,573.3 L879.2,574.6 L882.3,576 L885.3,577.5 L888.3,578.9 L891.3,580.4 L894.3,582 L897.2,583.5 L900.1,585.1 L903,586.7 L905.8,588.4 L908.6,590.1 L911.3,591.8 L914.1,593.6 L916.7,595.4 L919.4,597.3 L922,599.2 L924.6,601.1 L927.1,603 L929.6,605 L932,607 L934.4,609.1 L936.8,611.3 L939.1,613.5 L941.4,615.7 L943.6,618.1 L945.7,620.5 L947.9,622.8 L949.9,625.2 L951.9,627.6 L953.9,630.2 L955.8,632.8 L957.7,635.5 L959.5,638.4 L961.2,641.3 L962.9,644.1 L964.6,647 L966.2,650 L967.7,653.2 L969.2,656.5 L970.6,659.9 L971.9,663.1 L973.2,666.5 L974.4,670.1 L975.6,673.8 L976.7,677.8 L977.8,681.5 L978.8,684.6 L979.7,688 L980.6,691.6 L981.4,695.5 L982.1,699.8 L982.8,704.8 L983.4,710.4 L983.9,716.6 L984.4,723.4 L984.8,731.2 L985.2,740.4 L985.5,751.6 L985.7,772.5 L985.9,772.5 L986,772.5 L986,772.5 L986,767 Z"/></clipPath>
<clipPath id="doutd"><path clip-rule="evenodd" d="M605,461 h426 v321 h-426 Z M650,767 L650,772.5 L650,772.5 L650.1,772.5 L650.3,772.5 L650.5,751.6 L650.8,740.4 L651.2,731.2 L651.6,723.4 L652.1,716.6 L652.6,710.4 L653.2,704.8 L653.9,699.8 L654.6,695.5 L655.4,691.6 L656.3,688 L657.2,684.6 L658.2,681.5 L659.3,677.8 L660.4,673.8 L661.6,670.1 L662.8,666.5 L664.1,663.1 L665.4,659.9 L666.8,656.5 L668.3,653.2 L669.8,650 L671.4,647 L673.1,644.1 L674.8,641.3 L676.5,638.4 L678.3,635.5 L680.2,632.8 L682.1,630.2 L684.1,627.6 L686.1,625.2 L688.1,622.8 L690.3,620.5 L692.4,618.1 L694.6,615.7 L696.9,613.5 L699.2,611.3 L701.6,609.1 L704,607 L706.4,605 L708.9,603 L711.4,601.1 L714,599.2 L716.6,597.3 L719.3,595.4 L721.9,593.6 L724.7,591.8 L727.4,590.1 L730.2,588.4 L733,586.7 L735.9,585.1 L738.8,583.5 L741.7,582 L744.7,580.4 L747.7,578.9 L750.7,577.5 L753.7,576 L756.8,574.6 L759.9,573.3 L763,571.9 L766.1,570.6 L769.2,569.3 L772.4,568.1 L775.6,566.9 L778.8,565.6 L782,564.4 L785.2,563.3 L788.5,562.1 L791.7,560.9 L795,559.8 L798.3,558.7 L801.5,557.6 L804.8,556.5 L808.1,555.5 L811.4,554.5 L814.7,553.5 L818,552.5 L821.3,553.5 L824.6,554.5 L827.9,555.5 L831.2,556.5 L834.5,557.6 L837.7,558.7 L841,559.8 L844.3,560.9 L847.5,562.1 L850.8,563.3 L854,564.4 L857.2,565.6 L860.4,566.9 L863.6,568.1 L866.8,569.3 L869.9,570.6 L873,571.9 L876.1,573.3 L879.2,574.6 L882.3,576 L885.3,577.5 L888.3,578.9 L891.3,580.4 L894.3,582 L897.2,583.5 L900.1,585.1 L903,586.7 L905.8,588.4 L908.6,590.1 L911.3,591.8 L914.1,593.6 L916.7,595.4 L919.4,597.3 L922,599.2 L924.6,601.1 L927.1,603 L929.6,605 L932,607 L934.4,609.1 L936.8,611.3 L939.1,613.5 L941.4,615.7 L943.6,618.1 L945.7,620.5 L947.9,622.8 L949.9,625.2 L951.9,627.6 L953.9,630.2 L955.8,632.8 L957.7,635.5 L959.5,638.4 L961.2,641.3 L962.9,644.1 L964.6,647 L966.2,650 L967.7,653.2 L969.2,656.5 L970.6,659.9 L971.9,663.1 L973.2,666.5 L974.4,670.1 L975.6,673.8 L976.7,677.8 L977.8,681.5 L978.8,684.6 L979.7,688 L980.6,691.6 L981.4,695.5 L982.1,699.8 L982.8,704.8 L983.4,710.4 L983.9,716.6 L984.4,723.4 L984.8,731.2 L985.2,740.4 L985.5,751.6 L985.7,772.5 L985.9,772.5 L986,772.5 L986,772.5 L986,767 Z"/></clipPath>
<g clip-path="url(#clipd)">
<g filter="url(#gaind)">
<rect x="620" y="476" width="396" height="261" fill="#000"/>
<rect x="612.7" y="454.8" width="410.1" height="302.1" fill="url(#gd_0)" opacity="1.0"/>
<g filter="url(#bld_14x1)"><rect x="612.7" y="454.8" width="70.3" height="302.1" fill="url(#gd_1)" opacity="1.0"/><rect x="958.3" y="454.8" width="64.4" height="302.1" fill="url(#gd_2)" opacity="1.0"/></g>
<g filter="url(#bld_5)"><ellipse cx="744.5" cy="578.9" rx="26.4" ry="3.8" fill="#fff" fill-opacity="0.075"/><ellipse cx="934.9" cy="578.9" rx="55.7" ry="4.4" fill="#fff" fill-opacity="0.125"/></g>
<g filter="url(#bld_3)"><ellipse cx="912.9" cy="578.9" rx="24.9" ry="3.2" fill="#fff" fill-opacity="0.750"/></g>
<g clip-path="url(#dind)"><rect x="612.7" y="501.7" width="410.1" height="255.2" fill="url(#gd_3)" opacity="1.0"/></g>
<g clip-path="url(#dind)"><g filter="url(#bld_4)"><ellipse cx="817.7" cy="592.7" rx="123" ry="5.3" fill="#000" fill-opacity="0.350"/></g></g>
<g clip-path="url(#dind)"><g filter="url(#bld_6)"><ellipse cx="715.2" cy="633.7" rx="43.9" ry="7.3" fill="#fff" fill-opacity="0.033"/><ellipse cx="920.3" cy="627.8" rx="38.1" ry="8.8" fill="#fff" fill-opacity="0.033"/></g></g>
<g clip-path="url(#dind)"><g filter="url(#bld_2_5)"><polygon points="756.4,608.9 803.2,604.1 876.4,609.9 870.6,618 838.3,627.5 853.7,648 841.3,653.8 831,666.3 837.6,686.8 829.6,702.1 820.8,676.5 827.8,651.6 817.8,639.2 784.2,637 803.2,657.5 803.9,672.1 816.4,689.7 812,700.7 797.3,680.9 778.3,664.8 764.4,639.9 776.9,627.5" fill="#fff" fill-opacity="0.156"/></g></g>
<g clip-path="url(#dind)"><g filter="url(#bld_4)"><ellipse cx="816.4" cy="620.2" rx="42.5" ry="11" fill="#fff" fill-opacity="0.250"/></g></g>
<g clip-path="url(#dind)"><g filter="url(#bld_5)"><ellipse cx="813.5" cy="620.9" rx="25.6" ry="8.8" fill="#fff" fill-opacity="1.000"/></g></g>
<g clip-path="url(#dind)"><g filter="url(#bld_3)"><ellipse cx="791.5" cy="662.6" rx="8.1" ry="11" fill="#fff" fill-opacity="0.306" transform="rotate(-20 791.5 662.6)"/><ellipse cx="790.8" cy="661.9" rx="4.7" ry="6.6" fill="#fff" fill-opacity="0.500" transform="rotate(-20 790.8 661.9)"/><ellipse cx="859.6" cy="667.7" rx="8.1" ry="11" fill="#fff" fill-opacity="0.156" transform="rotate(20 859.6 667.7)"/></g></g>
<g clip-path="url(#dind)"><g filter="url(#bld_2)"><ellipse cx="858.8" cy="667.7" rx="3.2" ry="4.4" fill="#fff" fill-opacity="0.167"/><ellipse cx="828.4" cy="686.8" rx="3.2" ry="6.6" fill="#fff" fill-opacity="0.222"/></g></g>
<g clip-path="url(#dind)"><g filter="url(#bld_1_5)"><ellipse cx="810.2" cy="692.3" rx="2" ry="2.6" fill="#fff" fill-opacity="0.278"/><ellipse cx="792.2" cy="700.7" rx="1.6" ry="4.1" fill="#fff" fill-opacity="0.389"/></g></g>
<g clip-path="url(#dind)"><g filter="url(#bld_3)"><ellipse cx="781.2" cy="688.2" rx="10.2" ry="5.1" fill="#fff" fill-opacity="0.122" transform="rotate(30 781.2 688.2)"/></g></g>
<g clip-path="url(#dind)"><g filter="url(#bld_2)"><ellipse cx="854.5" cy="693.4" rx="1.5" ry="4.4" fill="#fff" fill-opacity="0.139"/></g></g>
<g clip-path="url(#dind)"><g filter="url(#bld_3)"><ellipse cx="702" cy="664.4" rx="7.3" ry="8.2" fill="#fff" fill-opacity="0.167"/></g></g>
<g clip-path="url(#dind)"><g filter="url(#bld_2)"><ellipse cx="940.8" cy="687.9" rx="1.8" ry="3.5" fill="#fff" fill-opacity="0.111"/></g></g>
<path d="M650,767 L650,772.5 L650,772.5 L650.1,772.5 L650.3,772.5 L650.5,751.6 L650.8,740.4 L651.2,731.2 L651.6,723.4 L652.1,716.6 L652.6,710.4 L653.2,704.8 L653.9,699.8 L654.6,695.5 L655.4,691.6 L656.3,688 L657.2,684.6 L658.2,681.5 L659.3,677.8 L660.4,673.8 L661.6,670.1 L662.8,666.5 L664.1,663.1 L665.4,659.9 L666.8,656.5 L668.3,653.2 L669.8,650 L671.4,647 L673.1,644.1 L674.8,641.3 L676.5,638.4 L678.3,635.5 L680.2,632.8 L682.1,630.2 L684.1,627.6 L686.1,625.2 L688.1,622.8 L690.3,620.5 L692.4,618.1 L694.6,615.7 L696.9,613.5 L699.2,611.3 L701.6,609.1 L704,607 L706.4,605 L708.9,603 L711.4,601.1 L714,599.2 L716.6,597.3 L719.3,595.4 L721.9,593.6 L724.7,591.8 L727.4,590.1 L730.2,588.4 L733,586.7 L735.9,585.1 L738.8,583.5 L741.7,582 L744.7,580.4 L747.7,578.9 L750.7,577.5 L753.7,576 L756.8,574.6 L759.9,573.3 L763,571.9 L766.1,570.6 L769.2,569.3 L772.4,568.1 L775.6,566.9 L778.8,565.6 L782,564.4 L785.2,563.3 L788.5,562.1 L791.7,560.9 L795,559.8 L798.3,558.7 L801.5,557.6 L804.8,556.5 L808.1,555.5 L811.4,554.5 L814.7,553.5 L818,552.5 L821.3,553.5 L824.6,554.5 L827.9,555.5 L831.2,556.5 L834.5,557.6 L837.7,558.7 L841,559.8 L844.3,560.9 L847.5,562.1 L850.8,563.3 L854,564.4 L857.2,565.6 L860.4,566.9 L863.6,568.1 L866.8,569.3 L869.9,570.6 L873,571.9 L876.1,573.3 L879.2,574.6 L882.3,576 L885.3,577.5 L888.3,578.9 L891.3,580.4 L894.3,582 L897.2,583.5 L900.1,585.1 L903,586.7 L905.8,588.4 L908.6,590.1 L911.3,591.8 L914.1,593.6 L916.7,595.4 L919.4,597.3 L922,599.2 L924.6,601.1 L927.1,603 L929.6,605 L932,607 L934.4,609.1 L936.8,611.3 L939.1,613.5 L941.4,615.7 L943.6,618.1 L945.7,620.5 L947.9,622.8 L949.9,625.2 L951.9,627.6 L953.9,630.2 L955.8,632.8 L957.7,635.5 L959.5,638.4 L961.2,641.3 L962.9,644.1 L964.6,647 L966.2,650 L967.7,653.2 L969.2,656.5 L970.6,659.9 L971.9,663.1 L973.2,666.5 L974.4,670.1 L975.6,673.8 L976.7,677.8 L977.8,681.5 L978.8,684.6 L979.7,688 L980.6,691.6 L981.4,695.5 L982.1,699.8 L982.8,704.8 L983.4,710.4 L983.9,716.6 L984.4,723.4 L984.8,731.2 L985.2,740.4 L985.5,751.6 L985.7,772.5 L985.9,772.5 L986,772.5 L986,772.5 L986,767 Z" fill="#000" fill-opacity="0.55"/>
</g>
<path d="M756.4,608.9 C758.8,608.1 766.1,606.8 773.9,606 C781.7,605.2 793.4,604.1 803.2,604.1 C813,604 822.7,604.9 832.5,605.5 C842.2,606.1 854.5,607 861.8,607.7 C869.1,608.4 873.8,609.1 876.4,609.9 C879,610.8 878.6,611.5 877.6,612.8 C876.6,614.2 874.4,616.3 870.6,618 C866.7,619.7 859.8,621.5 854.5,623.1 C849.1,624.7 841.5,626 838.3,627.5 C835.2,628.9 835.4,630.4 835.4,631.9 C835.4,633.3 836.4,635 838.3,636.3 C840.3,637.5 844.7,638.1 847.1,639.2 C849.6,640.3 851.9,641.4 853,642.9 C854.1,644.3 854.2,646.5 853.7,648 C853.2,649.4 852.1,650.7 850.1,651.6 C848,652.6 843.7,652.6 841.3,653.8 C838.8,655.1 837.1,656.9 835.4,659 C833.7,661 832,664.1 831,666.3 C830,668.5 829.3,670.2 829.6,672.1 C829.8,674.1 831.3,676.3 832.5,678 C833.7,679.7 836,680.9 836.9,682.4 C837.7,683.8 838.1,684.6 837.6,686.8 C837.1,689 835.3,693 834,695.6 C832.6,698.1 830.8,701.4 829.6,702.1 C828.3,702.9 827.6,701.3 826.6,700 C825.7,698.6 824.4,696.5 823.7,694.1 C823,691.7 822.7,688.2 822.2,685.3 C821.8,682.4 821.5,679.3 820.8,676.5 C820,673.7 817.8,670.8 817.8,668.5 C817.8,666.2 819.6,664.4 820.8,662.6 C822,660.8 824,659.3 825.2,657.5 C826.3,655.7 827.3,653.6 827.8,651.6 C828.3,649.7 828.5,647.5 828.1,645.8 C827.7,644.1 826.9,642.5 825.2,641.4 C823.5,640.3 821,639.9 817.8,639.2 C814.7,638.5 810.3,637.6 806.1,637 C802,636.4 796.6,635.5 793,635.5 C789.3,635.5 786.2,636.3 784.2,637 C782.1,637.7 780.5,638.7 780.5,639.9 C780.5,641.1 782.3,643.1 784.2,644.3 C786,645.5 789.1,646.3 791.5,647.2 C793.9,648.2 796.9,648.5 798.8,650.2 C800.8,651.9 802,654.9 803.2,657.5 C804.4,660.1 806,663.1 806.1,665.5 C806.3,668 804.4,670.1 803.9,672.1 C803.5,674.2 802.8,676.3 803.2,678 C803.6,679.7 804.7,681.2 806.1,682.4 C807.6,683.6 810.3,684.1 812,685.3 C813.7,686.5 815.7,688 816.4,689.7 C817.1,691.4 817.1,693.7 816.4,695.6 C815.7,697.4 813.5,700.2 812,700.7 C810.5,701.2 808.8,699.8 807.6,698.5 C806.4,697.1 805.6,694.6 804.7,692.6 C803.7,690.7 803,688.7 801.7,686.8 C800.5,684.8 799.1,682.9 797.3,680.9 C795.6,679 793.7,676.8 791.5,675.1 C789.3,673.4 786.4,672.4 784.2,670.7 C782,669 779.8,667 778.3,664.8 C776.9,662.6 776.6,659.9 775.4,657.5 C774.2,655.1 772.5,652.4 771,650.2 C769.5,648 767.7,646 766.6,644.3 C765.5,642.6 764.2,641.1 764.4,639.9 C764.7,638.7 766.2,638.2 768.1,637 C769.9,635.8 773.9,634.2 775.4,632.6 C776.9,631 777.3,629.4 776.9,627.5 C776.4,625.5 774.4,623.2 772.5,620.9 C770.5,618.6 767.3,615.3 765.1,613.6 C762.9,611.9 760.7,611.4 759.3,610.6 C757.8,609.9 753.9,609.7 756.4,608.9 Z" fill="none" stroke="#e9823f" stroke-width="1.1" stroke-linejoin="round"/>
<path d="M773.9,610.6 C775.1,609.4 776.4,608.4 781.2,607.7 C786.1,607 794.7,606.3 803.2,606.2 C811.7,606.2 823.9,606.9 832.5,607.4 C841,607.9 849.4,608.4 854.5,609.2 C859.5,610 861.3,611 862.5,612.1 C863.7,613.2 864.3,614.3 861.8,615.8 C859.2,617.2 852,619.3 847.1,620.9 C842.2,622.5 835.4,623.3 832.5,625.3 C829.6,627.2 830.5,630.7 829.6,632.6 C828.6,634.6 828.6,636.4 826.6,637 C824.7,637.6 822.2,636.9 817.8,636.3 C813.5,635.7 805.2,634.1 800.3,633.3 C795.4,632.6 791.5,632.7 788.6,631.9 C785.6,631 784.4,630 782.7,628.2 C781,626.4 779.8,623.1 778.3,620.9 C776.9,618.7 774.7,616.7 773.9,615 C773.2,613.3 772.7,611.9 773.9,610.6 Z" fill="none" stroke="#f4b47c" stroke-width="1.0" stroke-linejoin="round"/>
<path d="M779.8,651.6 C780.8,650.3 783.2,649.3 785.6,649.4 C788.1,649.6 791.7,650.8 794.4,652.4 C797.1,654 800.3,656.6 801.7,659 C803.2,661.3 803.5,663.8 803.2,666.3 C803,668.7 801.5,672.1 800.3,673.6 C799.1,675.1 797.8,675.4 795.9,675.1 C793.9,674.7 790.8,673.1 788.6,671.4 C786.4,669.7 784.2,667.1 782.7,664.8 C781.2,662.5 780.3,659.7 779.8,657.5 C779.3,655.3 778.8,653 779.8,651.6 Z" fill="none" stroke="#f4b47c" stroke-width="1.0" stroke-linejoin="round"/>
<path d="M857.4,655.3 C860.1,654.6 865.3,656.4 867.6,657.5 C869.9,658.6 871.3,659.7 871.3,661.9 C871.3,664.1 869.2,668 867.6,670.7 C866,673.4 863.7,676.2 861.8,678 C859.8,679.8 857.6,682 855.9,681.7 C854.2,681.3 852.7,677.9 851.5,675.8 C850.3,673.7 848.6,671.5 848.6,669.2 C848.6,666.9 850.1,664.2 851.5,661.9 C853,659.6 854.7,656 857.4,655.3 Z" fill="none" stroke="#e9823f" stroke-width="1.1" stroke-linejoin="round"/>
<path d="M858.8,661.9 C860.3,661.9 862.6,664.1 863.2,665.5 C863.8,667 863.2,669.3 862.5,670.7 C861.8,672 860.1,673.6 858.8,673.6 C857.6,673.6 855.5,672 854.7,670.7 C854,669.3 853.8,667 854.5,665.5 C855.1,664.1 857.4,661.9 858.8,661.9 Z" fill="none" stroke="#f4b47c" stroke-width="1.0" stroke-linejoin="round"/>
<path d="M854.5,687.9 C855.1,687.9 856.3,689.8 856.5,691.2 C856.7,692.6 856.3,695.1 855.9,696.3 C855.5,697.5 854.7,698.6 854.2,698.5 C853.6,698.4 852.6,696.8 852.4,695.6 C852.2,694.3 852.4,692.4 852.7,691.2 C853,689.9 853.8,687.9 854.5,687.9 Z" fill="none" stroke="#e9823f" stroke-width="1.0" stroke-linejoin="round"/>
<path d="M769.5,683.8 C769.8,681.7 771.7,679.8 773.2,679.5 C774.7,679.1 776.2,680.7 778.3,681.7 C780.4,682.6 783.4,684 785.6,685.3 C787.8,686.7 789.8,688 791.5,689.7 C793.2,691.4 795,693.4 795.9,695.6 C796.7,697.8 797.1,701.3 796.6,702.9 C796.1,704.5 794.2,705.1 793,705.1 C791.7,705.1 790.4,704.5 789.3,702.9 C788.2,701.3 787.5,697.3 786.4,695.6 C785.3,693.9 784.3,692.9 782.7,692.6 C781.1,692.4 778.7,694.1 776.9,694.1 C775,694.1 772.9,694.3 771.7,692.6 C770.5,690.9 769.3,686 769.5,683.8 Z" fill="none" stroke="#e9823f" stroke-width="1.1" stroke-linejoin="round"/>
<path d="M792.2,695.9 C792.8,696.1 793.8,697.9 794,699.2 C794.2,700.5 793.8,702.6 793.4,703.6 C793,704.6 792,705.4 791.5,705.1 C791,704.7 790.5,702.6 790.3,701.4 C790.2,700.2 790.3,698.7 790.6,697.8 C790.9,696.8 791.7,695.6 792.2,695.9 Z" fill="none" stroke="#f4b47c" stroke-width="1.0" stroke-linejoin="round"/>
<path d="M810.2,689.4 C810.8,689.7 812.2,691 812.4,691.9 C812.7,692.8 812.1,694.2 811.7,694.8 C811.3,695.4 810.4,695.9 809.8,695.6 C809.2,695.2 808.4,693.8 808.2,692.9 C808,692.1 808.4,691 808.8,690.4 C809.1,689.9 809.6,689.2 810.2,689.4 Z" fill="none" stroke="#f4b47c" stroke-width="1.0" stroke-linejoin="round"/>
<path d="M828.4,679.5 C829.5,679.5 831.3,682 831.8,683.8 C832.2,685.7 831.9,688.7 831.3,690.4 C830.8,692.1 829.4,694.1 828.4,694.1 C827.4,694.1 826,692.1 825.5,690.4 C824.9,688.7 824.7,685.7 825.2,683.8 C825.7,682 827.3,679.5 828.4,679.5 Z" fill="none" stroke="#f4b47c" stroke-width="1.0" stroke-linejoin="round"/>
<path d="M767.4,578.9 C767.4,577.5 760.5,576.4 773.8,575.7 C787.1,574.9 820.9,574.7 847,574.5 C873.2,574.3 914.5,573.8 930.5,574.5 C946.5,575.2 942.9,577.1 943.1,578.6 C943.4,580.1 948,582.4 932,583.3 C916,584.2 873.4,583.8 847,583.9 C820.7,584 787.1,584.7 773.8,583.9 C760.5,583 767.4,580.3 767.4,578.9 Z" fill="none" stroke="#e9823f" stroke-width="1.1" stroke-linejoin="round"/>
<path d="M702,656.5 C704.3,656.9 708.4,658.5 710,660 C711.5,661.6 711.7,663.7 711.1,665.9 C710.5,668.1 708,671.6 706.4,673.2 C704.9,674.8 703.6,675.8 702,675.3 C700.5,674.8 698.4,672.3 697.1,670.3 C695.7,668.2 694,665 693.8,663 C693.7,660.9 694.8,659.1 696.2,658 C697.6,656.9 699.8,656.2 702,656.5 Z" fill="none" stroke="#e9823f" stroke-width="1.1" stroke-linejoin="round"/>
<path d="M940.8,684.3 C941.4,684.2 942.6,685.9 942.8,687 C943.1,688.1 942.7,690 942.2,690.8 C941.8,691.6 940.7,692.2 940.2,691.7 C939.6,691.2 938.9,689.1 939,687.9 C939.1,686.6 940.1,684.5 940.8,684.3 Z" fill="none" stroke="#e9823f" stroke-width="1.0" stroke-linejoin="round"/>
</g>
<rect x="38" y="3.1" width="334.2" height="89.7" fill="#fff" stroke="#b0b0b0" stroke-width="1.5"/>
<line x1="37.3" x2="372.9" y1="3.1" y2="3.1" stroke="#858585" stroke-width="1.5"/>
<text x="32.2" y="13" font-size="9.6" text-anchor="end" fill="#111" font-weight="700">4</text>
<text x="32.2" y="28.9" font-size="9.6" text-anchor="end" fill="#111" font-weight="700">2</text>
<text x="32.2" y="51.7" font-size="9.6" text-anchor="end" fill="#111" font-weight="700">0</text>
<text x="32.2" y="74.9" font-size="9.6" text-anchor="end" fill="#111" font-weight="700">-2</text>
<text x="32.2" y="92.9" font-size="9.6" text-anchor="end" fill="#111" font-weight="700">-4</text>
<text transform="translate(10.1 47.9) rotate(-90)" font-size="11" text-anchor="middle" fill="#111">Intensity (<tspan font-style="italic">σ</tspan><tspan font-size="7" dy="2">0</tspan><tspan dy="-2">)</tspan></text>
<text x="41.6" y="18.1" font-size="17.2" text-anchor="start" fill="#111" >(a1)</text>
<text x="363.5" y="22" font-size="17.8" text-anchor="end" fill="#111" >S3</text>
<path d="M38.2,50.3 L40.1,52.2 L43,49.6 L44.9,47.4 L47.4,39.7 L48.9,40.1 L51,44.9 L53.2,38.2 L54.7,39.7 L56.9,43.8 L59.8,46.7 L62.7,48.9 L64.9,50.3 L66.1,46.4 L67.4,49.6 L69.3,51 L71.5,50.3 L74.4,56.1 L75.8,54 L77.3,55.1 L79.5,54 L82.4,55.1 L85.3,58.3 L87.5,54.7 L89.2,48.9 L91.1,48.1 L93.3,54.7 L95.5,59.1 L98,62.4 L99.9,60.5 L102.1,61.2 L104.7,62.4 L107.2,59.8 L110.1,54 L113,53.2 L115.9,51 L118.1,45.2 L119.6,50.3 L123.2,54.2 L126.1,51 L129.1,47.8 L131.2,48.1 L133,47 L135.6,49.6 L138.5,51.8 L141.5,52.8 L144.1,56.1 L147.3,54.7 L150.2,52.2 L152.8,48.1 L154.9,36.5 L156.8,35 L158.2,29.9 L159.7,33.8 L161.6,29.2 L163.3,30.6 L165.5,17.5 L167,8.8 L168.1,6.1 L169.9,19 L171.6,17.5 L173.5,29.2 L175,37.9 L177.2,38.2 L178.4,39.4 L180.1,32.4 L181.6,34.3 L182.6,21.9 L183.8,17.8 L185.2,23.3 L186.7,41.1 L188.1,28.9 L189.9,31.4 L191.8,37.2 L193.5,31.4 L195,35 L196.6,34.7 L198.3,46.7 L199.8,48.1 L200,48.1 L201.8,56.1 L203.6,62.4 L205.8,60.1 L208,59.5 L209.9,58.3 L211.7,58.6 L213.9,48.1 L215.8,37.2 L216.8,33.2 L218.5,46.4 L220.1,37.2 L221.9,34.7 L224.1,38.2 L226.7,48.9 L228.4,45.5 L229.9,43.8 L231.6,50.3 L233.5,41.6 L235.3,39.4 L237.2,40.8 L238.6,44.9 L240.1,38.2 L242,43.5 L243.8,31.4 L245.2,24.8 L247,26.2 L248.9,32.1 L250.3,38.2 L252.5,40.8 L254.7,44.5 L257.2,50.3 L259.8,55.7 L262.7,55.4 L265.6,58 L268.5,61 L270.7,61.2 L271.9,63.4 L274.4,61.2 L278,60.5 L280.9,62.7 L284.6,65.3 L287.5,67.4 L289.2,66.8 L291.1,68 L294.1,64.9 L297,62 L299.9,56.9 L302.1,51.3 L303.5,55.1 L306.5,59.1 L308.6,62 L310.4,63.4 L313,62 L314.5,54 L315.9,45.5 L317.8,47 L319.3,47.4 L320.8,38.2 L322.5,40.1 L324,45.5 L325.7,46.4 L328.3,44.5 L330.5,42.6 L332.4,41.6 L334.2,43.5 L335.6,46.7 L337.8,45.2 L340,43.8 L342.2,38.2 L343.6,39.7 L345.1,45.9 L346.6,49.9 L349.5,52.2 L352,54.2 L353.9,49.6 L356,43.8 L358.7,36.5 L359.7,37.9 L360.4,43 L362.2,38.6 L364.1,43.8 L366.2,46.7 L368,49.3 L369.5,48.9 L370.6,45.9 L372.1,46.4" fill="none" stroke="#3a3a3a" stroke-width="1" stroke-linejoin="round"/>
<rect x="651.7" y="2.5" width="333.9" height="88.7" fill="#fff" stroke="#b0b0b0" stroke-width="1.5"/>
<line x1="651" x2="986.3" y1="2.5" y2="2.5" stroke="#858585" stroke-width="1.5"/>
<text x="645.9" y="10.9" font-size="9.6" text-anchor="end" fill="#111" font-weight="700">3</text>
<text x="645.9" y="21.4" font-size="9.6" text-anchor="end" fill="#111" font-weight="700">2</text>
<text x="645.9" y="36.4" font-size="9.6" text-anchor="end" fill="#111" font-weight="700">1</text>
<text x="645.9" y="51.7" font-size="9.6" text-anchor="end" fill="#111" font-weight="700">0</text>
<text x="645.9" y="66.7" font-size="9.6" text-anchor="end" fill="#111" font-weight="700">-1</text>
<text x="645.9" y="81.9" font-size="9.6" text-anchor="end" fill="#111" font-weight="700">-2</text>
<text x="645.9" y="92.4" font-size="9.6" text-anchor="end" fill="#111" font-weight="700">-3</text>
<text transform="translate(623.8 46.9) rotate(-90)" font-size="11" text-anchor="middle" fill="#111">Intensity (<tspan font-style="italic">σ</tspan><tspan font-size="7" dy="2">0</tspan><tspan dy="-2">)</tspan></text>
<text x="655.3" y="17.5" font-size="17.2" text-anchor="start" fill="#111" >(b1)</text>
<text x="979" y="21.4" font-size="17.8" text-anchor="end" fill="#111" >S4</text>
<path d="M651.2,57.6 L653.5,59.5 L656,55.4 L658.2,52.8 L660.4,51.3 L663.3,53.2 L666.2,55.4 L669.1,54 L671.3,55.7 L674,52.2 L676.4,49.6 L677.9,50.8 L679.4,42.3 L681.2,39.7 L683,42.3 L685.2,45.2 L686.6,43 L688.1,51 L689.3,32.8 L690.3,25.5 L691.8,37.9 L693.2,54 L694.7,62 L696.1,64.2 L699,64.9 L702.7,65.9 L705.6,66.8 L707.8,67.1 L709.2,58.3 L710.4,51 L711.4,46.4 L712.9,56.9 L714.4,61.2 L716.5,63.4 L718.3,64.5 L720.2,63.4 L721.6,62.7 L723.1,57.2 L724.6,62.7 L726.8,64.5 L728.2,65.3 L730,62.7 L731.4,61 L732.9,55.4 L734.3,49.9 L736.2,49.3 L737.7,46.7 L739.6,36.5 L740.6,37.2 L742.1,43.8 L743.1,49.3 L744.5,35.7 L746,42.3 L747.9,43 L749.6,51 L751.5,50.3 L753.3,48.9 L755.2,49.9 L757.1,47.4 L758.4,42.3 L760.3,47 L761.8,37.2 L763.2,18.7 L764.7,24.1 L766.9,31.4 L768.8,38.6 L770.5,46.7 L772,49.9 L773.7,50.8 L775.2,52.5 L777.1,51.8 L778.5,52.2 L780,48.1 L781.9,48.1 L783.6,50.3 L785.4,52.8 L787.3,48.1 L788.4,44.9 L789.8,46.7 L791.6,45.5 L793.1,50.3 L795,43.5 L796.5,46.7 L798.2,51.8 L800,50.3 L801.9,52.8 L803.8,55.4 L805.5,54 L807,55.4 L808.7,51.3 L810.2,47.4 L811.6,49.6 L813,53.2 L814.8,57.6 L816.6,61.2 L818.8,60.5 L821.8,62 L825.4,64.2 L827.6,63 L830.5,62 L833.4,59.5 L836.3,58.6 L839.2,55.4 L841.4,48.1 L843.6,44.5 L845.4,42.3 L846.8,32.1 L848.7,17.5 L850.2,13.9 L852.1,24.8 L853.5,32.8 L855.3,11.7 L856.8,4.4 L858.2,10.2 L858.9,16.8 L860.4,9.5 L861.9,10.9 L863.3,9.5 L864.3,21.9 L865.5,31.4 L867.2,30.3 L868.4,30.6 L869.9,19 L871,11.7 L873.1,9.9 L874.2,17.5 L875.4,25.5 L876.4,8.8 L877.5,9 L878.9,16.8 L880.1,22.6 L881.8,13.9 L883.7,18.2 L885.6,22.6 L887.4,17.5 L888.8,12.4 L890.3,21.1 L892.5,29.9 L894.4,31.4 L895.8,36.5 L896.9,43.5 L898.3,34.3 L899.8,38.6 L901.7,30.6 L903.4,35.7 L905.2,40.8 L907.5,43 L910,46.4 L912.2,46.4 L913.6,54 L915.4,60.1 L916.8,55.4 L918,56.9 L920.2,54.2 L922.1,53.7 L923.8,46.7 L925.3,42.3 L926.8,54 L928.9,64.2 L930.8,65.6 L932.3,64.9 L933.8,55.4 L935.5,42.3 L937.7,38.6 L939.1,36.5 L940.6,40.1 L942.1,33.8 L943.5,39.4 L945,42.6 L946.9,43 L948.6,55.1 L950.4,56.1 L952.3,51.3 L953.7,49.6 L955.9,54.2 L957.4,58.3 L958.8,61.2 L960.3,56.1 L962,52.8 L963.5,59.1 L965.8,61.2 L967.6,61 L970.2,59.1 L972,58.6 L974.1,59.8 L976.3,61 L978.5,62 L981.4,62.7 L983.6,62 L985.8,59.1" fill="none" stroke="#3a3a3a" stroke-width="1" stroke-linejoin="round"/>
<rect x="40.6" y="387" width="334.5" height="89.6" fill="#fff" stroke="#b0b0b0" stroke-width="1.5"/>
<line x1="39.9" x2="375.8" y1="387" y2="387" stroke="#858585" stroke-width="1.5"/>
<text x="34.8" y="396.4" font-size="9.6" text-anchor="end" fill="#111" font-weight="700">4</text>
<text x="34.8" y="415.1" font-size="9.6" text-anchor="end" fill="#111" font-weight="700">2</text>
<text x="34.8" y="437.1" font-size="9.6" text-anchor="end" fill="#111" font-weight="700">0</text>
<text x="34.8" y="459.7" font-size="9.6" text-anchor="end" fill="#111" font-weight="700">-2</text>
<text x="34.8" y="477.2" font-size="9.6" text-anchor="end" fill="#111" font-weight="700">-4</text>
<text transform="translate(12.2 431.8) rotate(-90)" font-size="11" text-anchor="middle" fill="#111">Intensity (<tspan font-style="italic">σ</tspan><tspan font-size="7" dy="2">0</tspan><tspan dy="-2">)</tspan></text>
<text x="44.2" y="402" font-size="17.2" text-anchor="start" fill="#111" >(c1)</text>
<text x="367.5" y="405.9" font-size="17.8" text-anchor="end" fill="#111" >S5</text>
<path d="M40.6,432 L42.4,430.5 L45.3,430.5 L47.5,421.2 L49.7,422.6 L52.1,420.3 L54,428 L56.2,428.8 L59.6,435.3 L62.1,428.5 L64,432.4 L67.2,428 L69.4,433.1 L71.2,436.8 L73.3,438.2 L75.9,433.9 L78.1,437.8 L81,441.9 L84.4,444.5 L87.6,440.4 L90.8,436.8 L92.7,437.8 L94.6,436 L97.1,437.2 L99.2,439 L101.4,442.2 L104.4,438.2 L107.7,444.5 L110.2,440.4 L112.4,435.3 L114.6,441.1 L117.5,443.3 L119.4,436.3 L121.1,438.2 L123.3,436 L125.5,436.8 L127.7,432.4 L129.1,431.7 L130.6,439.2 L132.8,439 L134.2,434.6 L136,428 L137.5,432.4 L139.4,429.5 L141.5,429.9 L144.2,427.3 L145.9,431.4 L147.4,420 L149.1,415.6 L151,414.5 L153.2,420.7 L155,423.2 L156.9,428.8 L159,434.6 L161.2,436.8 L162.7,438.2 L164.9,436.3 L167.1,436.8 L168.5,437.8 L170.7,435.8 L172.9,435.3 L174.4,427.3 L175.8,417.1 L177.3,399.9 L178,400.3 L179.2,428 L180.9,426.1 L182.7,418.8 L184.1,414.9 L185.6,422.2 L186.8,427.3 L187.9,427 L189.7,433.1 L191.1,432 L192.9,424.4 L194.8,413.9 L196.7,415.3 L198.1,414.2 L199.4,411 L201,416.4 L202.8,421.5 L203,420.7 L204.5,415.9 L206.2,420.7 L208.1,425.5 L210.3,426.1 L212.5,428 L214.7,430.5 L216.4,421.8 L218.3,423.2 L220.5,419.3 L222.7,406.9 L224.1,409.8 L226,414.9 L228.1,411.2 L229.5,416.4 L230.4,402.5 L231.4,394 L232.9,402.5 L234.8,412.7 L236.5,419.7 L238,415.3 L239.5,415.9 L240.9,407.6 L242.4,419.3 L244.6,428.5 L246.5,424.4 L247.9,420.7 L249.7,425.1 L251.1,425.8 L252.6,412.4 L254.3,412 L255.8,420 L257.7,431.7 L259.9,439.7 L262.1,439.2 L264,433.1 L265.4,432 L267.2,436.8 L268.6,439.7 L269.8,437.5 L271.5,441.1 L273.7,443.6 L275.9,441.9 L278.1,439 L280.3,442.6 L282,443.3 L283.5,448 L285,447 L286.4,439.2 L288.3,443.3 L291.2,446.2 L294.1,448.4 L297.1,449.5 L300,447.7 L302.9,448.4 L305.1,448.4 L308,447 L310.9,442.6 L312.7,441.1 L314.6,439.2 L316.5,436 L318.9,436 L321.1,432.4 L323.3,430.9 L325.2,428 L327,417.1 L328.4,406.9 L329.9,402.8 L331.6,409.1 L333.1,411.5 L335,425.8 L336.4,428 L338.6,430.2 L340.8,433.1 L343,435.8 L345.2,440.4 L347.7,444.1 L349.6,443.6 L351.5,445.1 L353.9,443 L356.9,439.7 L358.8,438.7 L360.2,436.3 L361.7,444.1 L362.7,441.1 L364.1,442.2 L366.3,439.2 L368.5,436.8 L370.7,439.7 L372.9,441.1 L375.1,439.7" fill="none" stroke="#3a3a3a" stroke-width="1" stroke-linejoin="round"/>
<rect x="649.8" y="388" width="334.6" height="89.8" fill="#fff" stroke="#b0b0b0" stroke-width="1.5"/>
<line x1="649.1" x2="985.1" y1="388" y2="388" stroke="#858585" stroke-width="1.5"/>
<text x="644" y="397.9" font-size="9.6" text-anchor="end" fill="#111" font-weight="700">4</text>
<text x="644" y="416.4" font-size="9.6" text-anchor="end" fill="#111" font-weight="700">2</text>
<text x="644" y="438.4" font-size="9.6" text-anchor="end" fill="#111" font-weight="700">0</text>
<text x="644" y="461.4" font-size="9.6" text-anchor="end" fill="#111" font-weight="700">-2</text>
<text x="644" y="478.7" font-size="9.6" text-anchor="end" fill="#111" font-weight="700">-4</text>
<text transform="translate(622.3 432.9) rotate(-90)" font-size="11" text-anchor="middle" fill="#111">Intensity (<tspan font-style="italic">σ</tspan><tspan font-size="7" dy="2">0</tspan><tspan dy="-2">)</tspan></text>
<text x="653.4" y="403" font-size="17.2" text-anchor="start" fill="#111" >(d1)</text>
<text x="976.3" y="406.9" font-size="17.8" text-anchor="end" fill="#111" >S6</text>
<path d="M650.2,436.8 L653.1,435.8 L656,434.6 L658.2,435.3 L660,431.4 L661.9,429.5 L663.8,435.3 L665.8,437.5 L668.4,438.7 L670.6,439.2 L672.8,437.2 L675,435.3 L676.9,439 L679.4,440.1 L682.3,442.2 L685.2,444.1 L688.1,446.5 L691,443 L694.4,441.6 L697.6,444.5 L700.2,441.9 L702,435.3 L703.4,434.3 L705.2,440.4 L707.1,445.1 L709.2,444.5 L712.2,442.6 L715.1,443.6 L717.3,444.5 L719.5,442.6 L721.6,439 L723.8,436.3 L726,434.9 L727.9,433.4 L729.4,431.4 L731.4,428.8 L733.3,427.6 L735.2,430.2 L737.2,432.4 L739.6,431.4 L742.1,428.8 L744.2,429.9 L747.5,428 L750.1,430.5 L753,433.1 L755.9,434.3 L758.8,433.4 L760.3,433.1 L762.5,428.8 L765,424.7 L766.9,423.2 L768.3,421.8 L770.2,427.3 L771.7,423.2 L773.4,418.8 L774.9,420 L776.6,422.2 L778.5,412.7 L780.4,408.3 L782.2,409.1 L783.9,408.3 L785.8,416.4 L787.3,422.2 L788.7,425.8 L790.2,416.4 L791.6,414.9 L793.5,407.6 L795.3,413.4 L797,416.4 L798.9,408.3 L800.8,399.6 L802.3,394.9 L804,396.7 L805.5,398.9 L807,397.8 L808.7,404 L810.6,412.7 L812.1,413 L813,414.2 L814.8,430.2 L816.6,429.5 L818.8,428.5 L821.5,426.6 L823.5,425.5 L825.4,427.3 L826.9,416.4 L828.3,407.2 L829.3,408.3 L830.8,417.1 L832.7,420.7 L834.6,423.2 L836.3,428 L837.8,430.9 L839.2,429.5 L840.7,425.5 L842.9,427.6 L844.8,430.9 L846.2,433.9 L847.7,430.9 L849.5,433.9 L851.6,434.6 L853.8,436.8 L855.6,427.3 L857.2,418.8 L858.9,422.9 L860.8,427.3 L862.6,430.5 L864,429.9 L865.8,427 L867.7,430.2 L869.6,435.3 L871,440.1 L873.1,441.1 L875.7,441.6 L878.6,440.7 L880.4,443.6 L882.7,446 L885.2,446.2 L887.4,445.5 L889.6,446.2 L892.5,447.4 L895.4,447 L898.3,448 L901.2,448.9 L904.1,448.4 L906.3,447.7 L909,443.6 L910.4,444.8 L912.9,444.1 L915.8,442.6 L918,440.1 L920.2,436 L922.4,432.8 L923.8,438.7 L925.6,439.2 L927,433.9 L928.9,431.4 L930.8,429 L932.6,428 L934.3,429.9 L936.2,433.4 L937.7,435.8 L939.1,432 L940.6,440.1 L942.5,440.4 L944,437.2 L945.7,437.8 L947.2,442.2 L949.4,443.6 L951.5,442.2 L953.7,439.7 L956.6,439.2 L959.6,439.7 L961.8,439.2 L963.2,440.4 L965.4,435.8 L967.3,440.4 L969.3,442.6 L972,443 L974.9,441.9 L977.1,439.7 L979.2,436.8 L981.4,435.3 L983.9,432.8" fill="none" stroke="#3a3a3a" stroke-width="1" stroke-linejoin="round"/>
<rect x="38" y="120.5" width="336" height="201" fill="none" stroke="#111" stroke-width="1"/>
<rect x="37.5" y="320.6" width="337" height="2.4" fill="#0a0a0a"/>
<line x1="38.2" x2="38.2" y1="321.5" y2="312" stroke="#0a0a0a" stroke-width="1.2"/>
<line x1="50.9" x2="50.9" y1="321.5" y2="317" stroke="#0a0a0a" stroke-width="1.2"/>
<line x1="63.6" x2="63.6" y1="321.5" y2="317" stroke="#0a0a0a" stroke-width="1.2"/>
<line x1="76.3" x2="76.3" y1="321.5" y2="317" stroke="#0a0a0a" stroke-width="1.2"/>
<line x1="89" x2="89" y1="321.5" y2="317" stroke="#0a0a0a" stroke-width="1.2"/>
<line x1="101.7" x2="101.7" y1="321.5" y2="312" stroke="#0a0a0a" stroke-width="1.2"/>
<line x1="114.3" x2="114.3" y1="321.5" y2="317" stroke="#0a0a0a" stroke-width="1.2"/>
<line x1="127" x2="127" y1="321.5" y2="317" stroke="#0a0a0a" stroke-width="1.2"/>
<line x1="139.7" x2="139.7" y1="321.5" y2="317" stroke="#0a0a0a" stroke-width="1.2"/>
<line x1="152.4" x2="152.4" y1="321.5" y2="317" stroke="#0a0a0a" stroke-width="1.2"/>
<line x1="165.1" x2="165.1" y1="321.5" y2="312" stroke="#0a0a0a" stroke-width="1.2"/>
<line x1="177.8" x2="177.8" y1="321.5" y2="317" stroke="#0a0a0a" stroke-width="1.2"/>
<line x1="190.5" x2="190.5" y1="321.5" y2="317" stroke="#0a0a0a" stroke-width="1.2"/>
<line x1="203.2" x2="203.2" y1="321.5" y2="317" stroke="#0a0a0a" stroke-width="1.2"/>
<line x1="215.9" x2="215.9" y1="321.5" y2="317" stroke="#0a0a0a" stroke-width="1.2"/>
<line x1="228.6" x2="228.6" y1="321.5" y2="312" stroke="#0a0a0a" stroke-width="1.2"/>
<line x1="241.2" x2="241.2" y1="321.5" y2="317" stroke="#0a0a0a" stroke-width="1.2"/>
<line x1="253.9" x2="253.9" y1="321.5" y2="317" stroke="#0a0a0a" stroke-width="1.2"/>
<line x1="266.6" x2="266.6" y1="321.5" y2="317" stroke="#0a0a0a" stroke-width="1.2"/>
<line x1="279.3" x2="279.3" y1="321.5" y2="317" stroke="#0a0a0a" stroke-width="1.2"/>
<line x1="292" x2="292" y1="321.5" y2="312" stroke="#0a0a0a" stroke-width="1.2"/>
<line x1="304.7" x2="304.7" y1="321.5" y2="317" stroke="#0a0a0a" stroke-width="1.2"/>
<line x1="317.4" x2="317.4" y1="321.5" y2="317" stroke="#0a0a0a" stroke-width="1.2"/>
<line x1="330.1" x2="330.1" y1="321.5" y2="317" stroke="#0a0a0a" stroke-width="1.2"/>
<line x1="342.8" x2="342.8" y1="321.5" y2="317" stroke="#0a0a0a" stroke-width="1.2"/>
<line x1="355.4" x2="355.4" y1="321.5" y2="312" stroke="#0a0a0a" stroke-width="1.2"/>
<line x1="368.1" x2="368.1" y1="321.5" y2="317" stroke="#0a0a0a" stroke-width="1.2"/>
<line x1="114.2" x2="114.2" y1="117.5" y2="120.5" stroke="#aaa" stroke-width="0.8"/>
<line x1="190.4" x2="190.4" y1="117.5" y2="120.5" stroke="#aaa" stroke-width="0.8"/>
<line x1="266.6" x2="266.6" y1="117.5" y2="120.5" stroke="#aaa" stroke-width="0.8"/>
<line x1="342.8" x2="342.8" y1="117.5" y2="120.5" stroke="#aaa" stroke-width="0.8"/>
<text x="46.2" y="341.5" font-size="15.7" text-anchor="middle" fill="#111" >22:00</text>
<text x="109.7" y="341.5" font-size="15.7" text-anchor="middle" fill="#111" >22:10</text>
<text x="173.1" y="341.5" font-size="15.7" text-anchor="middle" fill="#111" >22:20</text>
<text x="236.6" y="341.5" font-size="15.7" text-anchor="middle" fill="#111" >22:30</text>
<text x="300" y="341.5" font-size="15.7" text-anchor="middle" fill="#111" >22:40</text>
<text x="363.4" y="341.5" font-size="15.7" text-anchor="middle" fill="#111" >22:50</text>
<text x="205" y="358.7" font-size="15.9" text-anchor="middle" fill="#111" >Start Time (05−Apr−24 22:00:00)</text>
<text x="43.2" y="142.1" font-size="17.4" text-anchor="start" fill="#fff" >(a2)</text>
<text transform="translate(31.7 177.8) scale(1.0 1)" font-size="10.7" text-anchor="end" fill="#111" stroke="#111" stroke-width="0.25">10<tspan dy="-5" font-size="7.1">3</tspan></text>
<text transform="translate(31.7 279.5) scale(1.0 1)" font-size="10.7" text-anchor="end" fill="#111" stroke="#111" stroke-width="0.25">10<tspan dy="-5" font-size="7.1">4</tspan></text>
<text transform="translate(395.5 176.5) scale(1.0 1)" font-size="10.7" text-anchor="end" fill="#111" stroke="#111" stroke-width="0.25">10<tspan dy="-5" font-size="7.1">3</tspan></text>
<text transform="translate(395.5 278.2) scale(1.0 1)" font-size="10.7" text-anchor="end" fill="#111" stroke="#111" stroke-width="0.25">10<tspan dy="-5" font-size="7.1">4</tspan></text>
<line x1="36.5" x2="38" y1="132" y2="132" stroke="#777" stroke-width="0.6"/>
<line x1="374" x2="375.5" y1="132" y2="132" stroke="#999" stroke-width="0.6"/>
<line x1="36.5" x2="38" y1="141.9" y2="141.9" stroke="#777" stroke-width="0.6"/>
<line x1="374" x2="375.5" y1="141.9" y2="141.9" stroke="#999" stroke-width="0.6"/>
<line x1="36.5" x2="38" y1="149.9" y2="149.9" stroke="#777" stroke-width="0.6"/>
<line x1="374" x2="375.5" y1="149.9" y2="149.9" stroke="#999" stroke-width="0.6"/>
<line x1="36.5" x2="38" y1="156.7" y2="156.7" stroke="#777" stroke-width="0.6"/>
<line x1="374" x2="375.5" y1="156.7" y2="156.7" stroke="#999" stroke-width="0.6"/>
<line x1="36.5" x2="38" y1="162.6" y2="162.6" stroke="#777" stroke-width="0.6"/>
<line x1="374" x2="375.5" y1="162.6" y2="162.6" stroke="#999" stroke-width="0.6"/>
<line x1="36.5" x2="38" y1="167.8" y2="167.8" stroke="#777" stroke-width="0.6"/>
<line x1="374" x2="375.5" y1="167.8" y2="167.8" stroke="#999" stroke-width="0.6"/>
<line x1="35" x2="38" y1="172.5" y2="172.5" stroke="#777" stroke-width="0.6"/>
<line x1="374" x2="377" y1="172.5" y2="172.5" stroke="#999" stroke-width="0.6"/>
<line x1="36.5" x2="38" y1="203.1" y2="203.1" stroke="#777" stroke-width="0.6"/>
<line x1="374" x2="375.5" y1="203.1" y2="203.1" stroke="#999" stroke-width="0.6"/>
<line x1="36.5" x2="38" y1="221" y2="221" stroke="#777" stroke-width="0.6"/>
<line x1="374" x2="375.5" y1="221" y2="221" stroke="#999" stroke-width="0.6"/>
<line x1="36.5" x2="38" y1="233.7" y2="233.7" stroke="#777" stroke-width="0.6"/>
<line x1="374" x2="375.5" y1="233.7" y2="233.7" stroke="#999" stroke-width="0.6"/>
<line x1="36.5" x2="38" y1="243.6" y2="243.6" stroke="#777" stroke-width="0.6"/>
<line x1="374" x2="375.5" y1="243.6" y2="243.6" stroke="#999" stroke-width="0.6"/>
<line x1="36.5" x2="38" y1="251.6" y2="251.6" stroke="#777" stroke-width="0.6"/>
<line x1="374" x2="375.5" y1="251.6" y2="251.6" stroke="#999" stroke-width="0.6"/>
<line x1="36.5" x2="38" y1="258.4" y2="258.4" stroke="#777" stroke-width="0.6"/>
<line x1="374" x2="375.5" y1="258.4" y2="258.4" stroke="#999" stroke-width="0.6"/>
<line x1="36.5" x2="38" y1="264.3" y2="264.3" stroke="#777" stroke-width="0.6"/>
<line x1="374" x2="375.5" y1="264.3" y2="264.3" stroke="#999" stroke-width="0.6"/>
<line x1="36.5" x2="38" y1="269.5" y2="269.5" stroke="#777" stroke-width="0.6"/>
<line x1="374" x2="375.5" y1="269.5" y2="269.5" stroke="#999" stroke-width="0.6"/>
<line x1="35" x2="38" y1="274.2" y2="274.2" stroke="#777" stroke-width="0.6"/>
<line x1="374" x2="377" y1="274.2" y2="274.2" stroke="#999" stroke-width="0.6"/>
<line x1="36.5" x2="38" y1="304.8" y2="304.8" stroke="#777" stroke-width="0.6"/>
<line x1="374" x2="375.5" y1="304.8" y2="304.8" stroke="#999" stroke-width="0.6"/>
<text transform="translate(12.7 221) rotate(-90)" font-size="11" text-anchor="middle" fill="#111">Frequency (<tspan font-style="italic">μ</tspan>Hz)</text>
<rect x="651.7" y="120.2" width="335.3" height="202.1" fill="none" stroke="#111" stroke-width="1"/>
<rect x="651.2" y="321.4" width="336.3" height="2.4" fill="#0a0a0a"/>
<line x1="651.9" x2="651.9" y1="322.3" y2="312.8" stroke="#0a0a0a" stroke-width="1.2"/>
<line x1="664.6" x2="664.6" y1="322.3" y2="317.8" stroke="#0a0a0a" stroke-width="1.2"/>
<line x1="677.3" x2="677.3" y1="322.3" y2="317.8" stroke="#0a0a0a" stroke-width="1.2"/>
<line x1="690" x2="690" y1="322.3" y2="317.8" stroke="#0a0a0a" stroke-width="1.2"/>
<line x1="702.7" x2="702.7" y1="322.3" y2="317.8" stroke="#0a0a0a" stroke-width="1.2"/>
<line x1="715.4" x2="715.4" y1="322.3" y2="312.8" stroke="#0a0a0a" stroke-width="1.2"/>
<line x1="728" x2="728" y1="322.3" y2="317.8" stroke="#0a0a0a" stroke-width="1.2"/>
<line x1="740.7" x2="740.7" y1="322.3" y2="317.8" stroke="#0a0a0a" stroke-width="1.2"/>
<line x1="753.4" x2="753.4" y1="322.3" y2="317.8" stroke="#0a0a0a" stroke-width="1.2"/>
<line x1="766.1" x2="766.1" y1="322.3" y2="317.8" stroke="#0a0a0a" stroke-width="1.2"/>
<line x1="778.8" x2="778.8" y1="322.3" y2="312.8" stroke="#0a0a0a" stroke-width="1.2"/>
<line x1="791.5" x2="791.5" y1="322.3" y2="317.8" stroke="#0a0a0a" stroke-width="1.2"/>
<line x1="804.2" x2="804.2" y1="322.3" y2="317.8" stroke="#0a0a0a" stroke-width="1.2"/>
<line x1="816.9" x2="816.9" y1="322.3" y2="317.8" stroke="#0a0a0a" stroke-width="1.2"/>
<line x1="829.6" x2="829.6" y1="322.3" y2="317.8" stroke="#0a0a0a" stroke-width="1.2"/>
<line x1="842.2" x2="842.2" y1="322.3" y2="312.8" stroke="#0a0a0a" stroke-width="1.2"/>
<line x1="854.9" x2="854.9" y1="322.3" y2="317.8" stroke="#0a0a0a" stroke-width="1.2"/>
<line x1="867.6" x2="867.6" y1="322.3" y2="317.8" stroke="#0a0a0a" stroke-width="1.2"/>
<line x1="880.3" x2="880.3" y1="322.3" y2="317.8" stroke="#0a0a0a" stroke-width="1.2"/>
<line x1="893" x2="893" y1="322.3" y2="317.8" stroke="#0a0a0a" stroke-width="1.2"/>
<line x1="905.7" x2="905.7" y1="322.3" y2="312.8" stroke="#0a0a0a" stroke-width="1.2"/>
<line x1="918.4" x2="918.4" y1="322.3" y2="317.8" stroke="#0a0a0a" stroke-width="1.2"/>
<line x1="931.1" x2="931.1" y1="322.3" y2="317.8" stroke="#0a0a0a" stroke-width="1.2"/>
<line x1="943.8" x2="943.8" y1="322.3" y2="317.8" stroke="#0a0a0a" stroke-width="1.2"/>
<line x1="956.5" x2="956.5" y1="322.3" y2="317.8" stroke="#0a0a0a" stroke-width="1.2"/>
<line x1="969.1" x2="969.1" y1="322.3" y2="312.8" stroke="#0a0a0a" stroke-width="1.2"/>
<line x1="981.8" x2="981.8" y1="322.3" y2="317.8" stroke="#0a0a0a" stroke-width="1.2"/>
<line x1="727.9" x2="727.9" y1="117.2" y2="120.2" stroke="#aaa" stroke-width="0.8"/>
<line x1="804.1" x2="804.1" y1="117.2" y2="120.2" stroke="#aaa" stroke-width="0.8"/>
<line x1="880.3" x2="880.3" y1="117.2" y2="120.2" stroke="#aaa" stroke-width="0.8"/>
<line x1="956.5" x2="956.5" y1="117.2" y2="120.2" stroke="#aaa" stroke-width="0.8"/>
<text x="659.9" y="342.3" font-size="15.7" text-anchor="middle" fill="#111" >22:00</text>
<text x="723.4" y="342.3" font-size="15.7" text-anchor="middle" fill="#111" >22:10</text>
<text x="786.8" y="342.3" font-size="15.7" text-anchor="middle" fill="#111" >22:20</text>
<text x="850.2" y="342.3" font-size="15.7" text-anchor="middle" fill="#111" >22:30</text>
<text x="913.7" y="342.3" font-size="15.7" text-anchor="middle" fill="#111" >22:40</text>
<text x="977.1" y="342.3" font-size="15.7" text-anchor="middle" fill="#111" >22:50</text>
<text x="818.4" y="359.5" font-size="15.9" text-anchor="middle" fill="#111" >Start Time (05−Apr−24 22:00:00)</text>
<text x="656.9" y="141.8" font-size="17.4" text-anchor="start" fill="#fff" >(b2)</text>
<text transform="translate(645.4 177.5) scale(1.0 1)" font-size="10.7" text-anchor="end" fill="#111" stroke="#111" stroke-width="0.25">10<tspan dy="-5" font-size="7.1">3</tspan></text>
<text transform="translate(645.4 279.2) scale(1.0 1)" font-size="10.7" text-anchor="end" fill="#111" stroke="#111" stroke-width="0.25">10<tspan dy="-5" font-size="7.1">4</tspan></text>
<text transform="translate(1020.2 176.2) scale(1.0 1)" font-size="10.7" text-anchor="end" fill="#111" stroke="#111" stroke-width="0.25">10<tspan dy="-5" font-size="7.1">3</tspan></text>
<text transform="translate(1020.2 277.9) scale(1.0 1)" font-size="10.7" text-anchor="end" fill="#111" stroke="#111" stroke-width="0.25">10<tspan dy="-5" font-size="7.1">4</tspan></text>
<line x1="650.2" x2="651.7" y1="131.7" y2="131.7" stroke="#777" stroke-width="0.6"/>
<line x1="987" x2="988.5" y1="131.7" y2="131.7" stroke="#999" stroke-width="0.6"/>
<line x1="650.2" x2="651.7" y1="141.6" y2="141.6" stroke="#777" stroke-width="0.6"/>
<line x1="987" x2="988.5" y1="141.6" y2="141.6" stroke="#999" stroke-width="0.6"/>
<line x1="650.2" x2="651.7" y1="149.6" y2="149.6" stroke="#777" stroke-width="0.6"/>
<line x1="987" x2="988.5" y1="149.6" y2="149.6" stroke="#999" stroke-width="0.6"/>
<line x1="650.2" x2="651.7" y1="156.4" y2="156.4" stroke="#777" stroke-width="0.6"/>
<line x1="987" x2="988.5" y1="156.4" y2="156.4" stroke="#999" stroke-width="0.6"/>
<line x1="650.2" x2="651.7" y1="162.3" y2="162.3" stroke="#777" stroke-width="0.6"/>
<line x1="987" x2="988.5" y1="162.3" y2="162.3" stroke="#999" stroke-width="0.6"/>
<line x1="650.2" x2="651.7" y1="167.5" y2="167.5" stroke="#777" stroke-width="0.6"/>
<line x1="987" x2="988.5" y1="167.5" y2="167.5" stroke="#999" stroke-width="0.6"/>
<line x1="648.7" x2="651.7" y1="172.2" y2="172.2" stroke="#777" stroke-width="0.6"/>
<line x1="987" x2="990" y1="172.2" y2="172.2" stroke="#999" stroke-width="0.6"/>
<line x1="650.2" x2="651.7" y1="202.8" y2="202.8" stroke="#777" stroke-width="0.6"/>
<line x1="987" x2="988.5" y1="202.8" y2="202.8" stroke="#999" stroke-width="0.6"/>
<line x1="650.2" x2="651.7" y1="220.7" y2="220.7" stroke="#777" stroke-width="0.6"/>
<line x1="987" x2="988.5" y1="220.7" y2="220.7" stroke="#999" stroke-width="0.6"/>
<line x1="650.2" x2="651.7" y1="233.4" y2="233.4" stroke="#777" stroke-width="0.6"/>
<line x1="987" x2="988.5" y1="233.4" y2="233.4" stroke="#999" stroke-width="0.6"/>
<line x1="650.2" x2="651.7" y1="243.3" y2="243.3" stroke="#777" stroke-width="0.6"/>
<line x1="987" x2="988.5" y1="243.3" y2="243.3" stroke="#999" stroke-width="0.6"/>
<line x1="650.2" x2="651.7" y1="251.3" y2="251.3" stroke="#777" stroke-width="0.6"/>
<line x1="987" x2="988.5" y1="251.3" y2="251.3" stroke="#999" stroke-width="0.6"/>
<line x1="650.2" x2="651.7" y1="258.1" y2="258.1" stroke="#777" stroke-width="0.6"/>
<line x1="987" x2="988.5" y1="258.1" y2="258.1" stroke="#999" stroke-width="0.6"/>
<line x1="650.2" x2="651.7" y1="264" y2="264" stroke="#777" stroke-width="0.6"/>
<line x1="987" x2="988.5" y1="264" y2="264" stroke="#999" stroke-width="0.6"/>
<line x1="650.2" x2="651.7" y1="269.2" y2="269.2" stroke="#777" stroke-width="0.6"/>
<line x1="987" x2="988.5" y1="269.2" y2="269.2" stroke="#999" stroke-width="0.6"/>
<line x1="648.7" x2="651.7" y1="273.9" y2="273.9" stroke="#777" stroke-width="0.6"/>
<line x1="987" x2="990" y1="273.9" y2="273.9" stroke="#999" stroke-width="0.6"/>
<line x1="650.2" x2="651.7" y1="304.5" y2="304.5" stroke="#777" stroke-width="0.6"/>
<line x1="987" x2="988.5" y1="304.5" y2="304.5" stroke="#999" stroke-width="0.6"/>
<text transform="translate(625.5 221.2) rotate(-90)" font-size="11" text-anchor="middle" fill="#111">Frequency (<tspan font-style="italic">μ</tspan>Hz)</text>
<rect x="41" y="505" width="335.5" height="201.3" fill="none" stroke="#111" stroke-width="1"/>
<rect x="40.5" y="705.4" width="336.5" height="2.4" fill="#0a0a0a"/>
<line x1="41.2" x2="41.2" y1="706.3" y2="696.8" stroke="#0a0a0a" stroke-width="1.2"/>
<line x1="53.9" x2="53.9" y1="706.3" y2="701.8" stroke="#0a0a0a" stroke-width="1.2"/>
<line x1="66.6" x2="66.6" y1="706.3" y2="701.8" stroke="#0a0a0a" stroke-width="1.2"/>
<line x1="79.3" x2="79.3" y1="706.3" y2="701.8" stroke="#0a0a0a" stroke-width="1.2"/>
<line x1="92" x2="92" y1="706.3" y2="701.8" stroke="#0a0a0a" stroke-width="1.2"/>
<line x1="104.7" x2="104.7" y1="706.3" y2="696.8" stroke="#0a0a0a" stroke-width="1.2"/>
<line x1="117.3" x2="117.3" y1="706.3" y2="701.8" stroke="#0a0a0a" stroke-width="1.2"/>
<line x1="130" x2="130" y1="706.3" y2="701.8" stroke="#0a0a0a" stroke-width="1.2"/>
<line x1="142.7" x2="142.7" y1="706.3" y2="701.8" stroke="#0a0a0a" stroke-width="1.2"/>
<line x1="155.4" x2="155.4" y1="706.3" y2="701.8" stroke="#0a0a0a" stroke-width="1.2"/>
<line x1="168.1" x2="168.1" y1="706.3" y2="696.8" stroke="#0a0a0a" stroke-width="1.2"/>
<line x1="180.8" x2="180.8" y1="706.3" y2="701.8" stroke="#0a0a0a" stroke-width="1.2"/>
<line x1="193.5" x2="193.5" y1="706.3" y2="701.8" stroke="#0a0a0a" stroke-width="1.2"/>
<line x1="206.2" x2="206.2" y1="706.3" y2="701.8" stroke="#0a0a0a" stroke-width="1.2"/>
<line x1="218.9" x2="218.9" y1="706.3" y2="701.8" stroke="#0a0a0a" stroke-width="1.2"/>
<line x1="231.6" x2="231.6" y1="706.3" y2="696.8" stroke="#0a0a0a" stroke-width="1.2"/>
<line x1="244.2" x2="244.2" y1="706.3" y2="701.8" stroke="#0a0a0a" stroke-width="1.2"/>
<line x1="256.9" x2="256.9" y1="706.3" y2="701.8" stroke="#0a0a0a" stroke-width="1.2"/>
<line x1="269.6" x2="269.6" y1="706.3" y2="701.8" stroke="#0a0a0a" stroke-width="1.2"/>
<line x1="282.3" x2="282.3" y1="706.3" y2="701.8" stroke="#0a0a0a" stroke-width="1.2"/>
<line x1="295" x2="295" y1="706.3" y2="696.8" stroke="#0a0a0a" stroke-width="1.2"/>
<line x1="307.7" x2="307.7" y1="706.3" y2="701.8" stroke="#0a0a0a" stroke-width="1.2"/>
<line x1="320.4" x2="320.4" y1="706.3" y2="701.8" stroke="#0a0a0a" stroke-width="1.2"/>
<line x1="333.1" x2="333.1" y1="706.3" y2="701.8" stroke="#0a0a0a" stroke-width="1.2"/>
<line x1="345.8" x2="345.8" y1="706.3" y2="701.8" stroke="#0a0a0a" stroke-width="1.2"/>
<line x1="358.4" x2="358.4" y1="706.3" y2="696.8" stroke="#0a0a0a" stroke-width="1.2"/>
<line x1="371.1" x2="371.1" y1="706.3" y2="701.8" stroke="#0a0a0a" stroke-width="1.2"/>
<line x1="117.2" x2="117.2" y1="502" y2="505" stroke="#aaa" stroke-width="0.8"/>
<line x1="193.4" x2="193.4" y1="502" y2="505" stroke="#aaa" stroke-width="0.8"/>
<line x1="269.6" x2="269.6" y1="502" y2="505" stroke="#aaa" stroke-width="0.8"/>
<line x1="345.8" x2="345.8" y1="502" y2="505" stroke="#aaa" stroke-width="0.8"/>
<text x="49.2" y="726.3" font-size="15.7" text-anchor="middle" fill="#111" >22:00</text>
<text x="112.7" y="726.3" font-size="15.7" text-anchor="middle" fill="#111" >22:10</text>
<text x="176.1" y="726.3" font-size="15.7" text-anchor="middle" fill="#111" >22:20</text>
<text x="239.6" y="726.3" font-size="15.7" text-anchor="middle" fill="#111" >22:30</text>
<text x="303" y="726.3" font-size="15.7" text-anchor="middle" fill="#111" >22:40</text>
<text x="366.4" y="726.3" font-size="15.7" text-anchor="middle" fill="#111" >22:50</text>
<text x="207.8" y="743.5" font-size="15.9" text-anchor="middle" fill="#111" >Start Time (05−Apr−24 22:00:00)</text>
<text x="46.2" y="526.6" font-size="17.4" text-anchor="start" fill="#fff" >(c2)</text>
<text transform="translate(34.7 562.3) scale(1.0 1)" font-size="10.7" text-anchor="end" fill="#111" stroke="#111" stroke-width="0.25">10<tspan dy="-5" font-size="7.1">3</tspan></text>
<text transform="translate(34.7 664) scale(1.0 1)" font-size="10.7" text-anchor="end" fill="#111" stroke="#111" stroke-width="0.25">10<tspan dy="-5" font-size="7.1">4</tspan></text>
<text transform="translate(408.2 561) scale(1.0 1)" font-size="10.7" text-anchor="end" fill="#111" stroke="#111" stroke-width="0.25">10<tspan dy="-5" font-size="7.1">3</tspan></text>
<text transform="translate(408.2 662.7) scale(1.0 1)" font-size="10.7" text-anchor="end" fill="#111" stroke="#111" stroke-width="0.25">10<tspan dy="-5" font-size="7.1">4</tspan></text>
<line x1="39.5" x2="41" y1="516.5" y2="516.5" stroke="#777" stroke-width="0.6"/>
<line x1="376.5" x2="378" y1="516.5" y2="516.5" stroke="#999" stroke-width="0.6"/>
<line x1="39.5" x2="41" y1="526.4" y2="526.4" stroke="#777" stroke-width="0.6"/>
<line x1="376.5" x2="378" y1="526.4" y2="526.4" stroke="#999" stroke-width="0.6"/>
<line x1="39.5" x2="41" y1="534.4" y2="534.4" stroke="#777" stroke-width="0.6"/>
<line x1="376.5" x2="378" y1="534.4" y2="534.4" stroke="#999" stroke-width="0.6"/>
<line x1="39.5" x2="41" y1="541.2" y2="541.2" stroke="#777" stroke-width="0.6"/>
<line x1="376.5" x2="378" y1="541.2" y2="541.2" stroke="#999" stroke-width="0.6"/>
<line x1="39.5" x2="41" y1="547.1" y2="547.1" stroke="#777" stroke-width="0.6"/>
<line x1="376.5" x2="378" y1="547.1" y2="547.1" stroke="#999" stroke-width="0.6"/>
<line x1="39.5" x2="41" y1="552.3" y2="552.3" stroke="#777" stroke-width="0.6"/>
<line x1="376.5" x2="378" y1="552.3" y2="552.3" stroke="#999" stroke-width="0.6"/>
<line x1="38" x2="41" y1="557" y2="557" stroke="#777" stroke-width="0.6"/>
<line x1="376.5" x2="379.5" y1="557" y2="557" stroke="#999" stroke-width="0.6"/>
<line x1="39.5" x2="41" y1="587.6" y2="587.6" stroke="#777" stroke-width="0.6"/>
<line x1="376.5" x2="378" y1="587.6" y2="587.6" stroke="#999" stroke-width="0.6"/>
<line x1="39.5" x2="41" y1="605.5" y2="605.5" stroke="#777" stroke-width="0.6"/>
<line x1="376.5" x2="378" y1="605.5" y2="605.5" stroke="#999" stroke-width="0.6"/>
<line x1="39.5" x2="41" y1="618.2" y2="618.2" stroke="#777" stroke-width="0.6"/>
<line x1="376.5" x2="378" y1="618.2" y2="618.2" stroke="#999" stroke-width="0.6"/>
<line x1="39.5" x2="41" y1="628.1" y2="628.1" stroke="#777" stroke-width="0.6"/>
<line x1="376.5" x2="378" y1="628.1" y2="628.1" stroke="#999" stroke-width="0.6"/>
<line x1="39.5" x2="41" y1="636.1" y2="636.1" stroke="#777" stroke-width="0.6"/>
<line x1="376.5" x2="378" y1="636.1" y2="636.1" stroke="#999" stroke-width="0.6"/>
<line x1="39.5" x2="41" y1="642.9" y2="642.9" stroke="#777" stroke-width="0.6"/>
<line x1="376.5" x2="378" y1="642.9" y2="642.9" stroke="#999" stroke-width="0.6"/>
<line x1="39.5" x2="41" y1="648.8" y2="648.8" stroke="#777" stroke-width="0.6"/>
<line x1="376.5" x2="378" y1="648.8" y2="648.8" stroke="#999" stroke-width="0.6"/>
<line x1="39.5" x2="41" y1="654" y2="654" stroke="#777" stroke-width="0.6"/>
<line x1="376.5" x2="378" y1="654" y2="654" stroke="#999" stroke-width="0.6"/>
<line x1="38" x2="41" y1="658.7" y2="658.7" stroke="#777" stroke-width="0.6"/>
<line x1="376.5" x2="379.5" y1="658.7" y2="658.7" stroke="#999" stroke-width="0.6"/>
<line x1="39.5" x2="41" y1="689.3" y2="689.3" stroke="#777" stroke-width="0.6"/>
<line x1="376.5" x2="378" y1="689.3" y2="689.3" stroke="#999" stroke-width="0.6"/>
<text transform="translate(14.5 605.6) rotate(-90)" font-size="11" text-anchor="middle" fill="#111">Frequency (<tspan font-style="italic">μ</tspan>Hz)</text>
<rect x="650" y="506" width="336" height="201" fill="none" stroke="#111" stroke-width="1"/>
<rect x="649.5" y="706.1" width="337" height="2.4" fill="#0a0a0a"/>
<line x1="650.2" x2="650.2" y1="707" y2="697.5" stroke="#0a0a0a" stroke-width="1.2"/>
<line x1="662.9" x2="662.9" y1="707" y2="702.5" stroke="#0a0a0a" stroke-width="1.2"/>
<line x1="675.6" x2="675.6" y1="707" y2="702.5" stroke="#0a0a0a" stroke-width="1.2"/>
<line x1="688.3" x2="688.3" y1="707" y2="702.5" stroke="#0a0a0a" stroke-width="1.2"/>
<line x1="701" x2="701" y1="707" y2="702.5" stroke="#0a0a0a" stroke-width="1.2"/>
<line x1="713.7" x2="713.7" y1="707" y2="697.5" stroke="#0a0a0a" stroke-width="1.2"/>
<line x1="726.3" x2="726.3" y1="707" y2="702.5" stroke="#0a0a0a" stroke-width="1.2"/>
<line x1="739" x2="739" y1="707" y2="702.5" stroke="#0a0a0a" stroke-width="1.2"/>
<line x1="751.7" x2="751.7" y1="707" y2="702.5" stroke="#0a0a0a" stroke-width="1.2"/>
<line x1="764.4" x2="764.4" y1="707" y2="702.5" stroke="#0a0a0a" stroke-width="1.2"/>
<line x1="777.1" x2="777.1" y1="707" y2="697.5" stroke="#0a0a0a" stroke-width="1.2"/>
<line x1="789.8" x2="789.8" y1="707" y2="702.5" stroke="#0a0a0a" stroke-width="1.2"/>
<line x1="802.5" x2="802.5" y1="707" y2="702.5" stroke="#0a0a0a" stroke-width="1.2"/>
<line x1="815.2" x2="815.2" y1="707" y2="702.5" stroke="#0a0a0a" stroke-width="1.2"/>
<line x1="827.9" x2="827.9" y1="707" y2="702.5" stroke="#0a0a0a" stroke-width="1.2"/>
<line x1="840.6" x2="840.6" y1="707" y2="697.5" stroke="#0a0a0a" stroke-width="1.2"/>
<line x1="853.2" x2="853.2" y1="707" y2="702.5" stroke="#0a0a0a" stroke-width="1.2"/>
<line x1="865.9" x2="865.9" y1="707" y2="702.5" stroke="#0a0a0a" stroke-width="1.2"/>
<line x1="878.6" x2="878.6" y1="707" y2="702.5" stroke="#0a0a0a" stroke-width="1.2"/>
<line x1="891.3" x2="891.3" y1="707" y2="702.5" stroke="#0a0a0a" stroke-width="1.2"/>
<line x1="904" x2="904" y1="707" y2="697.5" stroke="#0a0a0a" stroke-width="1.2"/>
<line x1="916.7" x2="916.7" y1="707" y2="702.5" stroke="#0a0a0a" stroke-width="1.2"/>
<line x1="929.4" x2="929.4" y1="707" y2="702.5" stroke="#0a0a0a" stroke-width="1.2"/>
<line x1="942.1" x2="942.1" y1="707" y2="702.5" stroke="#0a0a0a" stroke-width="1.2"/>
<line x1="954.8" x2="954.8" y1="707" y2="702.5" stroke="#0a0a0a" stroke-width="1.2"/>
<line x1="967.5" x2="967.5" y1="707" y2="697.5" stroke="#0a0a0a" stroke-width="1.2"/>
<line x1="980.1" x2="980.1" y1="707" y2="702.5" stroke="#0a0a0a" stroke-width="1.2"/>
<line x1="726.2" x2="726.2" y1="503" y2="506" stroke="#aaa" stroke-width="0.8"/>
<line x1="802.4" x2="802.4" y1="503" y2="506" stroke="#aaa" stroke-width="0.8"/>
<line x1="878.6" x2="878.6" y1="503" y2="506" stroke="#aaa" stroke-width="0.8"/>
<line x1="954.8" x2="954.8" y1="503" y2="506" stroke="#aaa" stroke-width="0.8"/>
<text x="658.2" y="727" font-size="15.7" text-anchor="middle" fill="#111" >22:00</text>
<text x="721.7" y="727" font-size="15.7" text-anchor="middle" fill="#111" >22:10</text>
<text x="785.1" y="727" font-size="15.7" text-anchor="middle" fill="#111" >22:20</text>
<text x="848.6" y="727" font-size="15.7" text-anchor="middle" fill="#111" >22:30</text>
<text x="912" y="727" font-size="15.7" text-anchor="middle" fill="#111" >22:40</text>
<text x="975.5" y="727" font-size="15.7" text-anchor="middle" fill="#111" >22:50</text>
<text x="817" y="744.2" font-size="15.9" text-anchor="middle" fill="#111" >Start Time (05−Apr−24 22:00:00)</text>
<text x="655.2" y="527.6" font-size="17.4" text-anchor="start" fill="#fff" >(d2)</text>
<text transform="translate(643.7 563.3) scale(1.0 1)" font-size="10.7" text-anchor="end" fill="#111" stroke="#111" stroke-width="0.25">10<tspan dy="-5" font-size="7.1">3</tspan></text>
<text transform="translate(643.7 665) scale(1.0 1)" font-size="10.7" text-anchor="end" fill="#111" stroke="#111" stroke-width="0.25">10<tspan dy="-5" font-size="7.1">4</tspan></text>
<text transform="translate(1027.5 562) scale(1.0 1)" font-size="10.7" text-anchor="end" fill="#111" stroke="#111" stroke-width="0.25">10<tspan dy="-5" font-size="7.1">3</tspan></text>
<text transform="translate(1027.5 663.7) scale(1.0 1)" font-size="10.7" text-anchor="end" fill="#111" stroke="#111" stroke-width="0.25">10<tspan dy="-5" font-size="7.1">4</tspan></text>
<line x1="648.5" x2="650" y1="517.5" y2="517.5" stroke="#777" stroke-width="0.6"/>
<line x1="986" x2="987.5" y1="517.5" y2="517.5" stroke="#999" stroke-width="0.6"/>
<line x1="648.5" x2="650" y1="527.4" y2="527.4" stroke="#777" stroke-width="0.6"/>
<line x1="986" x2="987.5" y1="527.4" y2="527.4" stroke="#999" stroke-width="0.6"/>
<line x1="648.5" x2="650" y1="535.4" y2="535.4" stroke="#777" stroke-width="0.6"/>
<line x1="986" x2="987.5" y1="535.4" y2="535.4" stroke="#999" stroke-width="0.6"/>
<line x1="648.5" x2="650" y1="542.2" y2="542.2" stroke="#777" stroke-width="0.6"/>
<line x1="986" x2="987.5" y1="542.2" y2="542.2" stroke="#999" stroke-width="0.6"/>
<line x1="648.5" x2="650" y1="548.1" y2="548.1" stroke="#777" stroke-width="0.6"/>
<line x1="986" x2="987.5" y1="548.1" y2="548.1" stroke="#999" stroke-width="0.6"/>
<line x1="648.5" x2="650" y1="553.3" y2="553.3" stroke="#777" stroke-width="0.6"/>
<line x1="986" x2="987.5" y1="553.3" y2="553.3" stroke="#999" stroke-width="0.6"/>
<line x1="647" x2="650" y1="558" y2="558" stroke="#777" stroke-width="0.6"/>
<line x1="986" x2="989" y1="558" y2="558" stroke="#999" stroke-width="0.6"/>
<line x1="648.5" x2="650" y1="588.6" y2="588.6" stroke="#777" stroke-width="0.6"/>
<line x1="986" x2="987.5" y1="588.6" y2="588.6" stroke="#999" stroke-width="0.6"/>
<line x1="648.5" x2="650" y1="606.5" y2="606.5" stroke="#777" stroke-width="0.6"/>
<line x1="986" x2="987.5" y1="606.5" y2="606.5" stroke="#999" stroke-width="0.6"/>
<line x1="648.5" x2="650" y1="619.2" y2="619.2" stroke="#777" stroke-width="0.6"/>
<line x1="986" x2="987.5" y1="619.2" y2="619.2" stroke="#999" stroke-width="0.6"/>
<line x1="648.5" x2="650" y1="629.1" y2="629.1" stroke="#777" stroke-width="0.6"/>
<line x1="986" x2="987.5" y1="629.1" y2="629.1" stroke="#999" stroke-width="0.6"/>
<line x1="648.5" x2="650" y1="637.1" y2="637.1" stroke="#777" stroke-width="0.6"/>
<line x1="986" x2="987.5" y1="637.1" y2="637.1" stroke="#999" stroke-width="0.6"/>
<line x1="648.5" x2="650" y1="643.9" y2="643.9" stroke="#777" stroke-width="0.6"/>
<line x1="986" x2="987.5" y1="643.9" y2="643.9" stroke="#999" stroke-width="0.6"/>
<line x1="648.5" x2="650" y1="649.8" y2="649.8" stroke="#777" stroke-width="0.6"/>
<line x1="986" x2="987.5" y1="649.8" y2="649.8" stroke="#999" stroke-width="0.6"/>
<line x1="648.5" x2="650" y1="655" y2="655" stroke="#777" stroke-width="0.6"/>
<line x1="986" x2="987.5" y1="655" y2="655" stroke="#999" stroke-width="0.6"/>
<line x1="647" x2="650" y1="659.7" y2="659.7" stroke="#777" stroke-width="0.6"/>
<line x1="986" x2="989" y1="659.7" y2="659.7" stroke="#999" stroke-width="0.6"/>
<line x1="648.5" x2="650" y1="690.3" y2="690.3" stroke="#777" stroke-width="0.6"/>
<line x1="986" x2="987.5" y1="690.3" y2="690.3" stroke="#999" stroke-width="0.6"/>
<text transform="translate(625.5 606.5) rotate(-90)" font-size="11" text-anchor="middle" fill="#111">Frequency (<tspan font-style="italic">μ</tspan>Hz)</text>
<path d="M401,120 V322.7 H559.7" fill="none" stroke="#8a8a8a" stroke-width="1.1"/>
<text transform="translate(401.8 344.7) scale(0.86 1)" font-size="10.8" text-anchor="middle" fill="#111" stroke="#111" stroke-width="0.25">10<tspan dy="-5" font-size="7.1">-4</tspan></text>
<text transform="translate(421.4 344.7) scale(0.86 1)" font-size="10.8" text-anchor="middle" fill="#111" stroke="#111" stroke-width="0.25">10<tspan dy="-5" font-size="7.1">-3</tspan></text>
<text transform="translate(441 344.7) scale(0.86 1)" font-size="10.8" text-anchor="middle" fill="#111" stroke="#111" stroke-width="0.25">10<tspan dy="-5" font-size="7.1">-2</tspan></text>
<text transform="translate(460.6 344.7) scale(0.86 1)" font-size="10.8" text-anchor="middle" fill="#111" stroke="#111" stroke-width="0.25">10<tspan dy="-5" font-size="7.1">-1</tspan></text>
<text transform="translate(480.2 344.7) scale(0.86 1)" font-size="10.8" text-anchor="middle" fill="#111" stroke="#111" stroke-width="0.25">10<tspan dy="-5" font-size="7.1">0</tspan></text>
<text transform="translate(499.7 344.7) scale(0.86 1)" font-size="10.8" text-anchor="middle" fill="#111" stroke="#111" stroke-width="0.25">10<tspan dy="-5" font-size="7.1">1</tspan></text>
<text transform="translate(519.3 344.7) scale(0.86 1)" font-size="10.8" text-anchor="middle" fill="#111" stroke="#111" stroke-width="0.25">10<tspan dy="-5" font-size="7.1">2</tspan></text>
<text transform="translate(538.9 344.7) scale(0.86 1)" font-size="10.8" text-anchor="middle" fill="#111" stroke="#111" stroke-width="0.25">10<tspan dy="-5" font-size="7.1">3</tspan></text>
<text transform="translate(558.5 344.7) scale(0.86 1)" font-size="10.8" text-anchor="middle" fill="#111" stroke="#111" stroke-width="0.25">10<tspan dy="-5" font-size="7.1">4</tspan></text>
<text x="479.4" y="360.8" font-size="11" text-anchor="middle" fill="#111">Power (<tspan font-style="italic">σ</tspan><tspan font-size="6.5" dy="2.5">0</tspan><tspan font-size="6.5" dy="-7" dx="-3.6">2</tspan><tspan dy="4.5">)</tspan></text>
<text x="556" y="134.8" font-size="17.5" text-anchor="start" fill="#111" >(a3)</text>
<clipPath id="sca"><rect x="401" y="120" width="186.7" height="202.7"/></clipPath>
<g clip-path="url(#sca)" fill="none">
<path d="M503.7,120.1 L503.7,151 L480.5,151 L480.5,168.6 L502.9,168.6 L502.9,178.9 L501.3,178.9 L501.3,190.9 L493.3,190.9 L493.3,196.5 L479.7,199.7 L479.7,204.5 L475.7,206.1 L475.7,211.7 L454.5,211.7 L454.5,217.3 L479.7,217.3 L481.3,220.5 L489.3,222.1 L489.3,225.3 L494.9,225.3 L494.9,229.3 L490.9,230.1 L490.9,233.3 L476.5,234.2 L458.9,237.4 L458.9,239.8 L462.1,240.6 L462.1,243 L443.8,243.5 L443.8,245.7 L462.1,246.2 L463.7,249.4 L476.5,251 L476.5,255 L465.3,256.9 L465.3,261.4 L478.1,261.4 L478.1,263 L471.7,264.9 L458.9,267 L451,267.8 L451,269 L460.5,270.2 L461.3,274.9 L466.1,275.7 L466.1,277.3 L443,278.1 L431,280.9 L431,282.1 L451,282.9 L468.5,284.5 L468.5,285.7 L455.7,287.7 L444.6,289.3 L444.6,290.9 L447.8,291.7 L455.7,293.3 L468.5,296.2 L468.5,297.3 L441.4,298.1 L441.4,299.4 L458.9,300.5 L467.7,301.3 L467.7,302.6 L458.9,305.3 L435,306.9 L435,308 L455.7,309.3 L458.9,311.7 L455.7,313.3 L468.5,314.9 L467.7,316 L439.8,317.3 L439.8,318.1 L452.5,319.7 L444.6,321.8 L454.1,322.4" stroke="#9a9a9a" stroke-width="0.9"/>
<path d="M523.7,120.1 C520.9,128.3 512.4,153.2 506.9,169.4 C501.4,185.6 494.6,206.4 490.9,217.3 C487.2,228.2 486.3,228.7 484.5,235 C482.8,241.3 481.6,247.6 480.5,255 C479.5,262.3 478.7,271 478.1,278.9 C477.6,286.9 477.5,295.7 477.3,302.9 C477.2,310.2 477.3,319.2 477.3,322.4" stroke="#c4c4c4" stroke-width="1.1"/>
<path d="M518.9,120.1 C515,129.9 503.3,159.8 495.7,178.9 C488.1,198.1 478.4,222.2 473.3,234.9 C468.3,247.6 467.4,247.6 465.3,255 C463.3,262.3 462,271 460.9,278.9 C459.7,286.9 459.1,295.7 458.6,302.9 C458.1,310.2 458.1,319.2 458,322.4" stroke="#fbd9c6" stroke-width="1.0"/>
<path d="M520.5,120.1 C516.6,129.9 504.9,159.8 497.3,178.9 C489.7,198.1 480,222.2 474.9,234.9 C469.9,247.6 469.1,247.6 466.9,255 C464.8,262.3 463.3,271 462.1,278.9 C460.9,286.9 460.3,295.7 459.7,302.9 C459.2,310.2 459.1,319.2 458.9,322.4" stroke="#f7b596" stroke-width="1.0"/>
<path d="M443,120.1 C440.4,138.7 432.4,198 427.8,231.7 C423.1,265.4 417.1,307.3 415,322.4" stroke="#f26d6d" stroke-width="1.0" stroke-dasharray="7 5"/>
<path d="M454.5,120.1 L454.5,322.4" stroke="#f26d6d" stroke-width="1.0" stroke-dasharray="7 5"/>
<path d="M499.7,123 C493,141.6 469.2,208.9 459.7,234.9 C450.3,260.9 449,264.4 443,278.9 C437,293.5 427,315.2 423.8,322.4" stroke="#f26d6d" stroke-width="1.0" stroke-dasharray="7 5"/>
<path d="M501.8,120.1 C498.6,129.7 489.3,158.2 482.9,177.3 C476.6,196.5 467.7,222 463.7,234.9 C459.7,247.8 460.3,247.6 458.9,255 C457.6,262.3 456.5,271 455.7,278.9 C455,286.9 454.7,295.7 454.5,302.9 C454.2,310.2 454.2,319.2 454.1,322.4" stroke="#ee4b4b" stroke-width="1.0"/>
<path d="M490.9,120.1 C492,120.9 495.2,122.5 497.3,124.6 C499.4,126.7 502.3,129.9 503.7,132.6 C505.1,135.2 505.6,137.4 505.6,140.6 C505.6,143.8 505.1,148.4 503.7,151.8 C502.3,155.1 499.3,158.3 497.3,160.6 C495.3,162.8 492.1,163.8 491.7,165.4 C491.3,167 493.6,168.4 494.9,170.2 C496.2,171.9 498.6,173.7 499.7,175.7 C500.9,177.7 501.8,179.7 501.8,182.1 C501.8,184.5 501,187.5 499.7,190.1 C498.4,192.8 496.4,195.7 494.1,198.1 C491.8,200.5 488.3,202.5 486.1,204.5 C484,206.5 482.1,208 481.3,210.1 C480.5,212.2 480.8,215 481.3,217.3 C481.9,219.6 483.5,221.8 484.5,223.7 C485.6,225.6 487.5,226.9 487.7,228.5 C488,230.1 487.7,231.4 486.1,233.4 C484.5,235.4 480.1,237.9 478.1,240.6 C476.1,243.2 474.9,246.7 474.1,249.4 C473.3,252 474.1,254 473.3,256.6 C472.5,259.1 470.8,261.9 469.3,264.6 C467.9,267.2 466,270.2 464.5,272.5 C463.1,274.9 461.7,276.8 460.5,278.9 C459.3,281.1 458.1,283.2 457.3,285.3 C456.5,287.5 455.9,289.9 455.7,291.7 C455.6,293.6 456,294.8 456.5,296.5 C457.1,298.3 458.9,300 458.9,302.1 C458.9,304.3 457.2,306.8 456.5,309.3 C455.9,311.8 455.3,315.1 454.9,317.3 C454.5,319.5 454.3,321.6 454.1,322.4" stroke="#333" stroke-width="1.0"/>
</g>
<path d="M535.7,227.8 H506.5" stroke="#b3177c" stroke-width="1.6" fill="none"/><path d="M500.5,227.8 l10.5,-4.6 l-2.2,4.6 l2.2,4.6 Z" fill="#b3177c"/>
<path d="M1025.7,120 V322.3 H1185.4" fill="none" stroke="#8a8a8a" stroke-width="1.1"/>
<text transform="translate(1026.5 345.3) scale(0.86 1)" font-size="10.8" text-anchor="middle" fill="#111" stroke="#111" stroke-width="0.25">10<tspan dy="-5" font-size="7.1">-4</tspan></text>
<text transform="translate(1046.2 345.3) scale(0.86 1)" font-size="10.8" text-anchor="middle" fill="#111" stroke="#111" stroke-width="0.25">10<tspan dy="-5" font-size="7.1">-3</tspan></text>
<text transform="translate(1065.9 345.3) scale(0.86 1)" font-size="10.8" text-anchor="middle" fill="#111" stroke="#111" stroke-width="0.25">10<tspan dy="-5" font-size="7.1">-2</tspan></text>
<text transform="translate(1085.6 345.3) scale(0.86 1)" font-size="10.8" text-anchor="middle" fill="#111" stroke="#111" stroke-width="0.25">10<tspan dy="-5" font-size="7.1">-1</tspan></text>
<text transform="translate(1105.4 345.3) scale(0.86 1)" font-size="10.8" text-anchor="middle" fill="#111" stroke="#111" stroke-width="0.25">10<tspan dy="-5" font-size="7.1">0</tspan></text>
<text transform="translate(1125.1 345.3) scale(0.86 1)" font-size="10.8" text-anchor="middle" fill="#111" stroke="#111" stroke-width="0.25">10<tspan dy="-5" font-size="7.1">1</tspan></text>
<text transform="translate(1144.8 345.3) scale(0.86 1)" font-size="10.8" text-anchor="middle" fill="#111" stroke="#111" stroke-width="0.25">10<tspan dy="-5" font-size="7.1">2</tspan></text>
<text transform="translate(1164.5 345.3) scale(0.86 1)" font-size="10.8" text-anchor="middle" fill="#111" stroke="#111" stroke-width="0.25">10<tspan dy="-5" font-size="7.1">3</tspan></text>
<text transform="translate(1184.2 345.3) scale(0.86 1)" font-size="10.8" text-anchor="middle" fill="#111" stroke="#111" stroke-width="0.25">10<tspan dy="-5" font-size="7.1">4</tspan></text>
<text x="1104.6" y="361" font-size="11" text-anchor="middle" fill="#111">Power (<tspan font-style="italic">σ</tspan><tspan font-size="6.5" dy="2.5">0</tspan><tspan font-size="6.5" dy="-7" dx="-3.6">2</tspan><tspan dy="4.5">)</tspan></text>
<text x="1165" y="133" font-size="17.5" text-anchor="start" fill="#111" >(b3)</text>
<clipPath id="scb"><rect x="1025.7" y="120" width="187.7" height="202.3"/></clipPath>
<g clip-path="url(#scb)" fill="none">
<path d="M1127.4,126.2 L1127.4,151 L1133.5,151 L1133.5,169.4 L1125.5,169.4 L1125.5,180.5 L1114.3,182.1 L1114.3,191.7 L1112.7,191.7 L1112.7,201.3 L1110.3,202.1 L1110.3,210.9 L1095.9,212.5 L1095.9,217.3 L1091.1,217.3 L1091.1,222.1 L1099.9,222.1 L1099.9,226.9 L1107.9,226.9 L1107.9,230.1 L1090.3,230.1 L1090.3,234.1 L1104.7,235 L1106.3,239.8 L1082.3,243.8 L1082.3,247.8 L1095.1,248.6 L1095.1,251 L1079.1,252.1 L1079.1,253.4 L1098.3,253.4 L1098.3,256.9 L1068,257.4 L1068,259 L1091.9,261.4 L1096.7,263 L1088.7,264.6 L1088.7,267.8 L1083.9,270.2 L1090.3,273.3 L1083.9,275.7 L1083.9,278.9 L1072.8,280.5 L1072.8,281.3 L1087.1,283.7 L1069.6,285 L1069.6,286.1 L1095.1,286.9 L1096.7,288.5 L1087.1,290.1 L1087.1,293.3 L1093.5,293.3 L1080.7,296.5 L1080.7,298.9 L1058.4,298.9 L1058.4,299.7 L1083.9,301.3 L1090.3,302.1 L1080.7,305.3 L1048.8,306.4 L1048.8,307.4 L1072.8,307.7 L1083.9,310.1 L1064.8,310.9 L1064.8,311.7 L1085.5,313.3 L1050.4,314.9 L1050.4,316 L1068,316.5 L1052,318.1 L1069.6,319.7 L1072.8,320.5 L1091.9,321.3" stroke="#9a9a9a" stroke-width="0.9"/>
<path d="M1151.1,120.1 C1144.6,139.2 1118.6,213.8 1111.9,234.9 C1105.3,256 1112.6,239.6 1111.1,247 C1109.7,254.3 1105.3,269.4 1103.1,278.9 C1101,288.5 1099.5,297.2 1098.3,304.5 C1097.1,311.8 1096.3,319.8 1095.9,322.9" stroke="#c4c4c4" stroke-width="1.1"/>
<path d="M1145.5,120.1 C1138.3,139.2 1111,208.4 1102.3,234.9 C1093.7,261.4 1096.8,264.3 1093.5,278.9 C1090.3,293.6 1084.5,315.6 1082.7,322.9" stroke="#fbd9c6" stroke-width="1.0"/>
<path d="M1147.1,120.1 C1139.9,139.2 1112.6,208.4 1103.9,234.9 C1095.3,261.4 1098.5,264.3 1095.1,278.9 C1091.8,293.6 1085.8,315.6 1083.9,322.9" stroke="#f7b596" stroke-width="1.0"/>
<path d="M1066.4,120.1 L1066.4,322.9" stroke="#f26d6d" stroke-width="1.0" stroke-dasharray="7 5"/>
<path d="M1091.6,120.1 C1089.3,139.2 1081.8,208.4 1077.5,234.9 C1073.3,261.4 1070.2,264.3 1066.4,278.9 C1062.5,293.6 1056.4,315.6 1054.4,322.9" stroke="#f26d6d" stroke-width="1.0" stroke-dasharray="7 5"/>
<path d="M1127.1,121.4 C1120.6,140.3 1096.7,208.6 1087.9,234.9 C1079.1,261.2 1077.9,266.3 1074.4,278.9 C1070.8,291.6 1067.7,305.6 1066.4,310.9" stroke="#f26d6d" stroke-width="1.0" stroke-dasharray="7 5"/>
<path d="M1128.4,120.1 C1122,139.2 1097.2,211.1 1090.3,234.9 C1083.5,258.7 1089.4,248.3 1087.1,263 C1084.9,277.6 1078.5,312.9 1076.7,322.9" stroke="#ee4b4b" stroke-width="1.0"/>
<path d="M1123.9,120.1 C1124.4,120.9 1126.3,123 1127.1,124.6 C1127.9,126.1 1129,127 1128.7,129.4 C1128.4,131.8 1126.2,136 1125.5,139 C1124.8,141.9 1124.2,144 1124.7,147 C1125.2,149.9 1127.6,153.6 1128.7,156.6 C1129.8,159.5 1131.1,161.9 1131.1,164.6 C1131.1,167.2 1129.8,169.9 1128.7,172.5 C1127.6,175.2 1126.2,178.1 1124.7,180.5 C1123.2,182.9 1121.4,184.8 1119.9,186.9 C1118.4,189.1 1117.2,190.4 1115.9,193.3 C1114.6,196.3 1113.3,201.6 1111.9,204.5 C1110.6,207.5 1109.5,208.8 1107.9,210.9 C1106.3,213 1103.5,215.7 1102.3,217.3 C1101.1,218.9 1100.6,219.2 1100.7,220.5 C1100.9,221.8 1102.3,223.7 1103.1,225.3 C1103.9,226.9 1104.9,228.9 1105.5,230.1 C1106.2,231.3 1107.8,230.8 1107.1,232.6 C1106.5,234.3 1103,238.2 1101.5,240.6 C1100.1,243 1099.1,244.6 1098.3,247 C1097.5,249.4 1097.4,252.3 1096.7,255 C1096.1,257.6 1095.1,260.3 1094.3,263 C1093.5,265.6 1092.7,268.3 1091.9,271 C1091.1,273.6 1090.3,276.3 1089.5,278.9 C1088.7,281.6 1087.8,284.3 1087.1,286.9 C1086.5,289.6 1086.1,292.3 1085.5,294.9 C1085,297.6 1084.7,300.3 1083.9,302.9 C1083.1,305.6 1081.7,308.3 1080.7,310.9 C1079.8,313.6 1078.9,316.9 1078.3,318.9 C1077.8,320.9 1077.7,322.2 1077.5,322.9" stroke="#333" stroke-width="1.0"/>
</g>
<path d="M413.6,503.2 V705.6 H572.8" fill="none" stroke="#8a8a8a" stroke-width="1.1"/>
<text transform="translate(414.4 723) scale(0.86 1)" font-size="10.8" text-anchor="middle" fill="#111" stroke="#111" stroke-width="0.25">10<tspan dy="-5" font-size="7.1">-4</tspan></text>
<text transform="translate(434.1 723) scale(0.86 1)" font-size="10.8" text-anchor="middle" fill="#111" stroke="#111" stroke-width="0.25">10<tspan dy="-5" font-size="7.1">-3</tspan></text>
<text transform="translate(453.7 723) scale(0.86 1)" font-size="10.8" text-anchor="middle" fill="#111" stroke="#111" stroke-width="0.25">10<tspan dy="-5" font-size="7.1">-2</tspan></text>
<text transform="translate(473.4 723) scale(0.86 1)" font-size="10.8" text-anchor="middle" fill="#111" stroke="#111" stroke-width="0.25">10<tspan dy="-5" font-size="7.1">-1</tspan></text>
<text transform="translate(493 723) scale(0.86 1)" font-size="10.8" text-anchor="middle" fill="#111" stroke="#111" stroke-width="0.25">10<tspan dy="-5" font-size="7.1">0</tspan></text>
<text transform="translate(512.6 723) scale(0.86 1)" font-size="10.8" text-anchor="middle" fill="#111" stroke="#111" stroke-width="0.25">10<tspan dy="-5" font-size="7.1">1</tspan></text>
<text transform="translate(532.3 723) scale(0.86 1)" font-size="10.8" text-anchor="middle" fill="#111" stroke="#111" stroke-width="0.25">10<tspan dy="-5" font-size="7.1">2</tspan></text>
<text transform="translate(551.9 723) scale(0.86 1)" font-size="10.8" text-anchor="middle" fill="#111" stroke="#111" stroke-width="0.25">10<tspan dy="-5" font-size="7.1">3</tspan></text>
<text transform="translate(571.6 723) scale(0.86 1)" font-size="10.8" text-anchor="middle" fill="#111" stroke="#111" stroke-width="0.25">10<tspan dy="-5" font-size="7.1">4</tspan></text>
<text x="492.2" y="743.1" font-size="11" text-anchor="middle" fill="#111">Power (<tspan font-style="italic">σ</tspan><tspan font-size="6.5" dy="2.5">0</tspan><tspan font-size="6.5" dy="-7" dx="-3.6">2</tspan><tspan dy="4.5">)</tspan></text>
<text x="563" y="516" font-size="17.5" text-anchor="start" fill="#111" >(c3)</text>
<clipPath id="scc"><rect x="413.6" y="503.2" width="187.2" height="202.4"/></clipPath>
<g clip-path="url(#scc)" fill="none">
<path d="M520.1,503.6 L520.1,534 L511.3,534 L511.3,551.6 L506.5,551.6 L506.5,564.3 L478.5,564.3 L478.5,574.7 L485.7,574.7 L485.7,581.9 L500.9,582.7 L500.9,589.1 L499.3,589.1 L499.3,593.9 L489.7,594.7 L489.7,600.3 L478.5,600.3 L478.5,605.1 L485.7,605.1 L485.7,609.1 L496.9,609.1 L498.5,612.3 L504.9,613.1 L504.9,615.5 L504.9,615.6 L499.3,617.2 L498.5,619.6 L490.5,622 L480.1,622.8 L480.1,626 L488.1,626.8 L484.9,634.8 L467.3,635.6 L467.3,638 L480.1,638.8 L486.5,639.9 L486.5,642 L480.1,643.6 L445.8,644 L445.8,645.2 L480.1,645.6 L483.3,647.6 L477.7,648.4 L477.7,650.8 L491.3,651.1 L491.3,653.2 L457,654.3 L457,655.9 L475.3,656.8 L484.9,658.7 L488.1,661.1 L488.1,662.7 L483.3,663.5 L464.1,665.5 L464.1,666.4 L484.9,667.1 L491.3,667.5 L491.3,669.1 L481.7,670.3 L481.7,671.9 L413.8,671.9 L413.8,672.5 L481.7,672.8 L484.9,673.9 L483.3,675.5 L470.5,676 L470.5,677.1 L475.3,677.6 L438.6,679.5 L438.6,680.5 L475.3,680.8 L484.1,681.1 L484.1,685.1 L485.7,685.6 L475.3,686.2 L454.6,687.5 L454.6,688.5 L472.1,689.1 L457.8,690.4 L457.8,691.5 L472.1,692.3 L474.5,693.6 L453,694.9 L453,695.8 L475.3,696.5 L443.4,698.4 L443.4,699.3 L459.4,699.7 L475.3,700.3 L475.3,701.9 L459.4,702.5 L481.7,703.5 L480.1,704.8" stroke="#9a9a9a" stroke-width="0.9"/>
<path d="M540.9,502.8 C534.8,522 511.2,594 504.1,617.9 C497.1,641.8 500,637.3 498.5,646 C497.1,654.6 496.1,662.5 495.3,669.9 C494.5,677.4 494.1,684.8 493.7,690.7 C493.4,696.6 493.3,703 493.2,705.4" stroke="#c4c4c4" stroke-width="1.1"/>
<path d="M536.1,502.8 C528.5,522 499.3,595.4 490.5,617.9 C481.8,640.4 485.3,632 483.7,638 C482,644 481.4,648.6 480.5,654 C479.5,659.3 478.5,664.6 477.7,669.9 C477,675.3 476.4,680 476,685.9 C475.6,691.8 475.4,702.2 475.3,705.4" stroke="#fbd9c6" stroke-width="1.0"/>
<path d="M537.7,502.8 C530.1,522 500.9,595.4 492.1,617.9 C483.3,640.4 486.7,632 484.9,638 C483.2,644 482.7,648.6 481.7,654 C480.7,659.3 479.7,664.6 478.9,669.9 C478.1,675.3 477.4,680 476.9,685.9 C476.5,691.8 476.3,702.2 476.1,705.4" stroke="#f7b596" stroke-width="1.0"/>
<path d="M458.6,502.8 C456,522 447.9,584.1 443.4,617.9 C438.8,651.7 433.4,690.8 431.4,705.4" stroke="#f26d6d" stroke-width="1.0" stroke-dasharray="7 5"/>
<path d="M470.5,502.8 L470.5,705.4" stroke="#f26d6d" stroke-width="1.0" stroke-dasharray="7 5"/>
<path d="M517.7,504.4 C514.6,513.2 505.3,539.6 499.3,557.1 C493.3,574.7 490.7,585.2 481.7,609.9 C472.8,634.6 451.8,689.5 445.8,705.4" stroke="#f26d6d" stroke-width="1.0" stroke-dasharray="7 5"/>
<path d="M518.8,502.8 C516.9,508.7 511.4,526 507.3,538 C503.3,550 498.5,563.3 494.5,574.7 C490.5,586.2 485.7,597.5 483.3,606.7 C480.9,615.9 481.7,620.8 480.1,630 C478.5,639.2 475.3,652.4 473.7,661.9 C472.2,671.5 471.4,680.3 470.9,687.5 C470.3,694.8 470.6,702.4 470.5,705.4" stroke="#ee4b4b" stroke-width="1.0"/>
<path d="M509.7,502.8 C510.6,503.6 513.7,505.2 515.3,507.6 C516.9,510 518.6,513.7 519.3,517.2 C520,520.6 520.2,524.9 519.3,528.4 C518.4,531.8 515.7,535 513.7,538 C511.7,540.9 508.2,543.6 507.3,546 C506.4,548.4 507,550.2 508.1,552.4 C509.2,554.5 513.2,556.6 513.7,558.7 C514.2,560.9 512.9,562.7 511.3,565.1 C509.7,567.5 506,570.7 504.1,573.1 C502.2,575.5 500.6,577.5 500.1,579.5 C499.6,581.5 500.4,583.5 500.9,585.1 C501.4,586.7 503.3,587.4 503.3,589.1 C503.3,590.9 502.2,593.4 500.9,595.5 C499.6,597.6 496.5,600 495.3,601.9 C494.1,603.8 493.6,605 493.7,606.7 C493.9,608.4 495.5,611 496.1,612.3 C496.8,613.6 497.7,613.4 497.7,614.8 C497.7,616.1 497.5,618.4 496.1,620.4 C494.8,622.4 491.6,624.6 489.7,626.8 C487.9,628.9 486,631 484.9,633.2 C483.9,635.3 483.6,636.9 483.3,639.6 C483.1,642.2 483.6,646 483.3,649.2 C483.1,652.4 482.3,655.8 481.7,658.7 C481.2,661.7 480.8,664.1 480.1,666.7 C479.5,669.4 478.7,672.1 477.7,674.7 C476.8,677.4 475.5,680.1 474.5,682.7 C473.6,685.4 472.8,688.1 472.1,690.7 C471.5,693.4 470.9,696.3 470.5,698.7 C470.1,701.2 469.9,704.3 469.7,705.4" stroke="#333" stroke-width="1.0"/>
</g>
<path d="M545.7,614.5 H515.7" stroke="#b3177c" stroke-width="1.6" fill="none"/><path d="M509.7,614.5 l10.5,-4.6 l-2.2,4.6 l2.2,4.6 Z" fill="#b3177c"/>
<path d="M1033,503.9 V707.4 H1191.6" fill="none" stroke="#8a8a8a" stroke-width="1.1"/>
<text transform="translate(1033.8 727.2) scale(0.86 1)" font-size="10.8" text-anchor="middle" fill="#111" stroke="#111" stroke-width="0.25">10<tspan dy="-5" font-size="7.1">-4</tspan></text>
<text transform="translate(1053.4 727.2) scale(0.86 1)" font-size="10.8" text-anchor="middle" fill="#111" stroke="#111" stroke-width="0.25">10<tspan dy="-5" font-size="7.1">-3</tspan></text>
<text transform="translate(1073 727.2) scale(0.86 1)" font-size="10.8" text-anchor="middle" fill="#111" stroke="#111" stroke-width="0.25">10<tspan dy="-5" font-size="7.1">-2</tspan></text>
<text transform="translate(1092.5 727.2) scale(0.86 1)" font-size="10.8" text-anchor="middle" fill="#111" stroke="#111" stroke-width="0.25">10<tspan dy="-5" font-size="7.1">-1</tspan></text>
<text transform="translate(1112.1 727.2) scale(0.86 1)" font-size="10.8" text-anchor="middle" fill="#111" stroke="#111" stroke-width="0.25">10<tspan dy="-5" font-size="7.1">0</tspan></text>
<text transform="translate(1131.7 727.2) scale(0.86 1)" font-size="10.8" text-anchor="middle" fill="#111" stroke="#111" stroke-width="0.25">10<tspan dy="-5" font-size="7.1">1</tspan></text>
<text transform="translate(1151.2 727.2) scale(0.86 1)" font-size="10.8" text-anchor="middle" fill="#111" stroke="#111" stroke-width="0.25">10<tspan dy="-5" font-size="7.1">2</tspan></text>
<text transform="translate(1170.8 727.2) scale(0.86 1)" font-size="10.8" text-anchor="middle" fill="#111" stroke="#111" stroke-width="0.25">10<tspan dy="-5" font-size="7.1">3</tspan></text>
<text transform="translate(1190.4 727.2) scale(0.86 1)" font-size="10.8" text-anchor="middle" fill="#111" stroke="#111" stroke-width="0.25">10<tspan dy="-5" font-size="7.1">4</tspan></text>
<text x="1111.3" y="745" font-size="11" text-anchor="middle" fill="#111">Power (<tspan font-style="italic">σ</tspan><tspan font-size="6.5" dy="2.5">0</tspan><tspan font-size="6.5" dy="-7" dx="-3.6">2</tspan><tspan dy="4.5">)</tspan></text>
<text x="1165" y="516" font-size="17.5" text-anchor="start" fill="#111" >(d3)</text>
<clipPath id="scd"><rect x="1033" y="503.9" width="186.6" height="203.5"/></clipPath>
<g clip-path="url(#scd)" fill="none">
<path d="M1140.7,504.4 L1140.7,535.6 L1123.9,535.6 L1123.9,553.2 L1111.1,553.2 L1111.1,565.9 L1123.1,565.9 L1123.1,576 L1115.9,576 L1115.9,584.3 L1083.9,584.3 L1083.9,590.4 L1076.7,590.4 L1076.7,596.3 L1099.1,596.3 L1099.9,601.9 L1116.7,601.9 L1116.7,606.7 L1120.7,606.7 L1120.7,611.8 L1118.3,612.1 L1118.3,618 L1112.7,618 L1111.9,620.4 L1104.7,622 L1105.5,624.4 L1102.3,630.8 L1086.3,632.4 L1086.3,635.6 L1102.3,636.4 L1102.3,638.8 L1096.7,639.9 L1069.6,642.8 L1069.6,644.7 L1088.7,645.3 L1103.1,647.6 L1103.1,650 L1095.1,651.6 L1077.5,654 L1077.5,654.9 L1090.3,655.9 L1072.8,657.9 L1072.8,659.1 L1095.1,660 L1103.1,661.1 L1103.1,662.7 L1096.7,664.3 L1083.9,666.7 L1076,669.1 L1076,670.3 L1085.5,671.5 L1091.1,674.7 L1090.3,677.1 L1052.8,679.5 L1052.8,680.5 L1076,681.1 L1060,682.4 L1060,683.4 L1083.9,684.3 L1099.1,685.1 L1099.1,686.7 L1083.9,687.8 L1065.6,689.1 L1065.6,690.4 L1085.5,691.5 L1083.9,693.1 L1049.6,693.6 L1049.6,694.9 L1072.8,695.2 L1087.1,695.8 L1083.9,697.9 L1060,699.7 L1060,700.6 L1083.9,701.9 L1083.9,703.5 L1050.4,704.1 L1050.4,704.8 L1074.4,705.4 L1083.9,706.1" stroke="#9a9a9a" stroke-width="0.9"/>
<path d="M1156.7,504.1 C1149.9,523 1123.2,596.9 1115.9,617.9 C1108.6,638.9 1114.6,622.6 1112.7,630 C1110.9,637.3 1107.1,652.4 1104.7,661.9 C1102.3,671.5 1100.1,680 1098.3,687.5 C1096.6,695.1 1095,703.9 1094.3,707.2" stroke="#c4c4c4" stroke-width="1.1"/>
<path d="M1151.4,504.1 C1143.3,523 1115.6,584 1102.8,617.9 C1090,651.7 1079.4,692.3 1074.7,707.2" stroke="#fbd9c6" stroke-width="1.0"/>
<path d="M1153,504.1 C1145,523 1117.6,584 1104.7,617.9 C1091.9,651.7 1080.7,692.3 1076,707.2" stroke="#f7b596" stroke-width="1.0"/>
<path d="M1105.5,504.1 C1101.9,523 1093.8,584.7 1083.9,617.9 C1074.1,651.1 1052.6,689.2 1046.4,703.5" stroke="#f26d6d" stroke-width="1.0" stroke-dasharray="7 5"/>
<path d="M1131.9,505.2 C1125,524 1098.3,595.8 1090.3,617.9 C1082.3,640 1086.9,629.3 1083.9,638 C1081,646.6 1076.5,658.4 1072.8,669.9 C1069,681.5 1063.4,701 1061.6,707.2" stroke="#f26d6d" stroke-width="1.0" stroke-dasharray="7 5"/>
<path d="M1133.8,504.1 C1127.2,523 1101.6,596.9 1094.3,617.9 C1087.1,638.9 1092.3,622.6 1090.3,630 C1088.3,637.3 1084.7,652.1 1082.3,661.9 C1079.9,671.8 1077.5,681.6 1076,689.1 C1074.4,696.7 1073.3,704.2 1072.8,707.2" stroke="#ee4b4b" stroke-width="1.0"/>
<path d="M1135.9,504.1 C1136.6,504.9 1138.8,506.7 1139.9,509.2 C1141,511.6 1141.9,515.6 1142.3,518.8 C1142.7,522 1143,525.4 1142.3,528.4 C1141.6,531.3 1140.3,533.7 1138.3,536.4 C1136.3,539 1133.5,541.7 1130.3,544.4 C1127.1,547 1122.3,550.1 1119.1,552.4 C1115.9,554.6 1113,556.5 1111.1,557.9 C1109.3,559.4 1107.9,559.9 1107.9,561.1 C1107.9,562.3 1109.3,563.7 1111.1,565.1 C1113,566.6 1117,568.3 1119.1,569.9 C1121.2,571.5 1123.1,573.4 1123.9,574.7 C1124.7,576.1 1125,576.3 1123.9,577.9 C1122.8,579.5 1120.2,582.2 1117.5,584.3 C1114.8,586.5 1110.9,589 1107.9,590.7 C1105,592.4 1101.4,593.8 1099.9,594.7 C1098.5,595.6 1098.6,595.4 1099.1,596.3 C1099.7,597.2 1101.1,599 1103.1,600.3 C1105.1,601.6 1109,602.7 1111.1,604.3 C1113.3,605.9 1115,608.4 1115.9,609.9 C1116.8,611.4 1117,611.7 1116.7,613.2 C1116.4,614.7 1115.8,616.9 1114.3,618.8 C1112.9,620.6 1109.8,622.5 1107.9,624.4 C1106.1,626.2 1104.7,628.1 1103.1,630 C1101.5,631.8 1099.6,633.7 1098.3,635.6 C1097.1,637.4 1095.9,638.9 1095.5,641.2 C1095,643.4 1095.2,646.5 1095.5,649.2 C1095.7,651.8 1096.8,654.7 1096.7,657.1 C1096.7,659.5 1095.9,661.7 1095.1,663.5 C1094.3,665.4 1093,666.7 1091.9,668.3 C1090.9,669.9 1089.7,671.5 1088.7,673.1 C1087.8,674.7 1086.7,676.1 1086.3,677.9 C1085.9,679.8 1086.5,682.5 1086.3,684.3 C1086.2,686.2 1086.1,687.5 1085.5,689.1 C1085,690.7 1084.1,692.3 1083.1,693.9 C1082.2,695.5 1081,697.1 1079.9,698.7 C1078.9,700.3 1077.7,702.1 1076.7,703.5 C1075.8,704.9 1074.8,706.6 1074.4,707.2" stroke="#333" stroke-width="1.0"/>
</g>
<path d="M1163.9,611.8 H1134.7" stroke="#b3177c" stroke-width="1.6" fill="none"/><path d="M1128.7,611.8 l10.5,-4.6 l-2.2,4.6 l2.2,4.6 Z" fill="#b3177c"/>
<line x1="405.3" x2="405.3" y1="3" y2="81.7" stroke="#555" stroke-width="1.1"/>
<text transform="translate(391.6 55.4) rotate(-90)" font-size="12.2" text-anchor="start" fill="#111">confid.</text>
<text transform="translate(401.2 55.4) rotate(-90)" font-size="12.2" text-anchor="start" fill="#111">levels</text>
<line x1="409.7" x2="444.2" y1="8.6" y2="8.6" stroke="#f99a9a" stroke-width="1"/>
<line x1="409.7" x2="444.2" y1="22.8" y2="22.8" stroke="#f9bfa6" stroke-width="1"/>
<line x1="409.7" x2="444.2" y1="37.2" y2="37.2" stroke="#fde3d6" stroke-width="1"/>
<line x1="409.7" x2="444.2" y1="52" y2="52" stroke="#cfcfcf" stroke-width="1.1"/>
<line x1="409.7" x2="444.2" y1="64.2" y2="64.2" stroke="#555" stroke-width="1.6"/>
<path d="M411,78.5 h3 v-4.5 h5 v5.5 h3.5 v-5.5 h3 v3 h3 v-2 h3.5 v-1.5 h4 v-1 h5" fill="none" stroke="#999" stroke-width="1"/>
<text x="453.5" y="12.8" font-size="11.4" text-anchor="start" fill="#111" >mean power (</text>
<line x1="525" x2="545" y1="8.6" y2="8.6" stroke="#f99a9a" stroke-width="1" stroke-dasharray="5 8"/>
<text x="548" y="12.8" font-size="11.4" text-anchor="start" fill="#111" >components)</text>
<text x="454.4" y="26.8" font-size="11.4" text-anchor="start" fill="#111" >99% local wavelet (TC)</text>
<text x="454.4" y="41.3" font-size="11.4" text-anchor="start" fill="#111" >99% global wavelet</text>
<text x="454.4" y="55.6" font-size="11.4" text-anchor="start" fill="#111" >99% global Fourier</text>
<text x="448" y="67.8" font-size="11.4" text-anchor="start" fill="#111" >average wavelet spetrum</text>
<text x="449" y="80" font-size="11.4" text-anchor="start" fill="#111" >Fourier spetrum</text>
</svg>
</body></html>
